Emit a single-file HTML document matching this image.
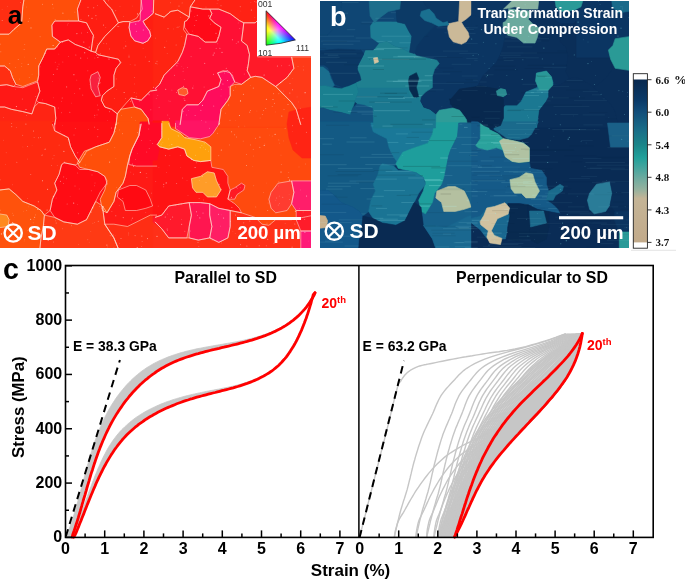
<!DOCTYPE html>
<html><head><meta charset="utf-8"><style>
html,body{margin:0;padding:0;background:#fff;width:685px;height:584px;overflow:hidden}
svg{position:absolute;left:0;top:0;display:block;will-change:transform}
</style></head><body>
<svg width="685" height="584" viewBox="0 0 685 584">
<rect width="685" height="584" fill="#fff"/>
<defs><clipPath id="ca"><rect x="0" y="0" width="311" height="248"/></clipPath><clipPath id="cb"><rect x="320" y="1" width="309" height="247"/></clipPath></defs>
<g clip-path="url(#ca)">
<rect x="0" y="0" width="311" height="248" fill="#ff1414"/>
<polygon points="118.4,22.8 123.0,21.6 129.8,21.6 129.1,27.6 130.9,36.0 134.6,40.8 143.0,43.3 147.8,40.8 150.8,36.0 149.6,31.2 145.3,25.3 143.0,21.3 147.8,18.0 153.3,13.2 153.7,-2.0 159.2,-2.0 159.2,90.0 150.3,91.1 141.2,100.2 130.9,97.9 120.7,109.3 117.3,113.9 111.6,109.3 104.8,107.0 101.3,100.2 102.5,95.7 107.0,91.1 113.9,86.5 113.9,75.2 116.1,68.3 120.7,62.6 118.4,59.2 97.9,54.7 95.7,52.4 97.9,45.5 104.8,36.4 111.6,29.6" fill="#ff1e12" stroke="#ff1e12" stroke-width="0.6"/>
<polygon points="60.4,42.1 68.3,39.9 75.2,44.4 84.3,47.8 91.1,51.2 95.7,52.4 97.9,54.7 118.4,59.2 120.7,62.6 116.1,68.3 113.9,75.2 113.9,86.5 107.0,91.1 102.5,95.7 101.3,100.2 104.8,107.0 111.6,109.3 117.3,113.9 116.1,126.9 54.7,126.9 55.8,118.4 54.7,107.0 45.5,103.6 38.7,102.5 36.4,100.2 39.9,91.1 37.6,82.0 37.6,80.8 38.7,75.2 38.7,66.0 43.3,56.9 46.7,49.0 54.7,49.0" fill="#ff0c14" stroke="#ff0c14" stroke-width="0.6"/>
<polygon points="-2.0,-2.0 23.9,-2.0 22.8,6.8 21.6,22.8 13.7,29.6 9.1,34.2 -2.0,34.2" fill="#ff2e12" stroke="#ff2e12" stroke-width="0.6"/>
<polygon points="23.9,-2.0 80.8,-2.0 77.4,9.1 78.6,21.0 54.7,21.0 51.9,25.1 52.4,36.4 60.4,42.1 54.7,49.0 46.7,49.0 43.3,56.9 38.7,66.0 38.7,75.2 37.6,80.8 28.5,84.3 22.8,86.5 15.9,84.3 12.5,77.4 10.2,70.6 4.6,66.0 -2.0,66.0 -2.0,34.2 9.1,34.2 13.7,29.6 21.6,22.8 22.8,6.8" fill="#ff4f0a" stroke="#ff4f0a" stroke-width="0.6"/>
<polygon points="54.7,21.0 78.6,21.0 86.5,22.8 90.0,29.6 93.4,35.3 92.2,43.3 91.1,51.2 84.3,47.8 75.2,44.4 68.3,39.9 60.4,42.1 52.4,36.4 51.9,25.1" fill="#ff1016" stroke="#ff1016" stroke-width="0.6"/>
<polygon points="80.8,-2.0 103.6,-2.0 107.0,4.6 111.6,9.1 116.1,18.2 118.4,22.8 111.6,29.6 104.8,36.4 97.9,45.5 95.7,52.4 91.1,51.2 92.2,43.3 93.4,35.3 90.0,29.6 86.5,22.8 78.6,21.0 77.4,9.1" fill="#ff1e12" stroke="#ff1e12" stroke-width="0.6"/>
<polygon points="103.6,-2.0 141.2,-2.0 142.3,9.1 136.6,18.2 129.8,21.6 123.0,21.6 118.4,22.8 116.1,18.2 111.6,9.1 107.0,4.6" fill="#ff2412" stroke="#ff2412" stroke-width="0.6"/>
<polygon points="141.2,-2.0 153.7,-2.0 153.3,13.2 147.8,18.0 143.0,21.3 145.3,25.3 149.6,31.2 150.8,36.0 147.8,40.8 143.0,43.3 134.6,40.8 130.9,36.0 129.1,27.6 129.8,22.8 140.1,20.5 140.5,12.1" fill="#ff1478" stroke="#ff1478" stroke-width="0.6"/>
<polygon points="91.1,75.2 97.9,71.7 100.2,77.4 97.9,86.5 100.2,95.7 95.7,96.8 91.1,88.8 90.0,79.7" fill="#f8203e" stroke="#f8203e" stroke-width="0.6"/>
<polygon points="130.9,97.9 141.2,100.2 150.3,91.1 159.2,90.0 159.2,125.9 149.2,125.9 148.0,118.4 141.2,109.3 134.4,107.0" fill="#ff0a30" stroke="#ff0a30" stroke-width="0.6"/>
<polygon points="120.7,109.3 134.4,107.0 141.2,109.3 148.0,118.4 149.2,126.9 116.1,126.9 117.3,113.9" fill="#ff4f0a" stroke="#ff4f0a" stroke-width="0.6"/>
<polygon points="-2.0,66.0 4.6,66.0 10.2,70.6 12.5,77.4 15.9,84.3 13.7,86.5 6.8,84.7 -2.0,85.4" fill="#ff2e12" stroke="#ff2e12" stroke-width="0.6"/>
<polygon points="-2.0,85.4 6.8,84.7 13.7,86.5 22.8,87.7 28.5,85.4 37.6,82.0 39.9,91.1 36.4,100.2 34.2,107.0 31.9,113.9 22.8,111.6 11.4,109.3 4.6,107.0 -2.0,107.0" fill="#ff1816" stroke="#ff1816" stroke-width="0.6"/>
<polygon points="-2.0,107.0 4.6,107.0 11.4,109.3 22.8,111.6 31.9,113.9 34.2,107.0 38.7,102.5 45.5,103.6 54.7,107.0 55.8,118.4 54.7,126.9 -2.0,126.9" fill="#ff2414" stroke="#ff2414" stroke-width="0.6"/>
<polygon points="153.0,-2.0 194.9,-2.0 190.3,6.8 189.2,17.1 177.8,10.2 170.9,11.4 164.1,17.1 153.0,13.7" fill="#ff2c12" stroke="#ff2c12" stroke-width="0.6"/>
<polygon points="153.0,13.7 164.1,17.1 170.9,11.4 177.8,10.2 189.2,17.1 186.9,20.5 184.6,21.6 183.5,29.6 186.9,34.2 184.6,45.5 182.3,52.4 177.8,61.5 170.9,68.3 164.1,75.2 159.6,84.3 153.0,88.8" fill="#ff2412" stroke="#ff2412" stroke-width="0.6"/>
<polygon points="209.7,9.1 218.8,9.1 230.2,13.7 239.3,20.5 243.8,22.8 242.7,31.9 241.5,41.0 247.2,45.5 249.5,54.7 248.4,63.8 247.2,70.6 250.7,77.4 241.5,84.3 234.7,82.0 230.2,72.9 223.3,70.6 217.6,72.9 221.0,79.7 218.8,86.5 207.4,91.1 202.8,100.2 198.3,104.8 186.9,104.8 182.3,109.3 180.1,126.9 153.0,126.9 153.0,88.8 159.6,84.3 164.1,75.2 170.9,68.3 177.8,61.5 182.3,52.4 184.6,45.5 186.9,34.2 189.2,34.2 198.3,36.4 205.1,42.1 216.5,42.1 218.8,36.4 221.0,27.3 214.2,22.8 209.7,18.2 211.9,13.7" fill="#ff1034" stroke="#ff1034" stroke-width="0.6"/>
<polygon points="189.2,17.1 190.3,6.8 202.8,9.1 209.7,9.1 211.9,13.7 209.7,18.2 214.2,22.8 221.0,27.3 218.8,36.4 216.5,42.1 205.1,42.1 198.3,36.4 189.2,34.2 184.6,27.3 184.6,21.6 186.9,20.5" fill="#ff0a18" stroke="#ff0a18" stroke-width="0.6"/>
<polygon points="219.9,-2.0 257.5,-2.0 257.5,20.5 255.2,22.8 243.8,22.8 239.3,20.5 230.2,13.7 218.8,9.1 209.7,9.1 202.8,9.1 190.3,6.8 194.9,-2.0" fill="#ff2214" stroke="#ff2214" stroke-width="0.6"/>
<polygon points="217.6,72.9 227.9,70.6 232.4,75.2 234.7,82.0 230.2,86.5 230.2,95.7 227.9,100.2 221.0,109.3 218.8,126.9 180.1,126.9 182.3,109.3 186.9,104.8 198.3,104.8 202.8,100.2 207.4,91.1 218.8,86.5 221.0,79.7" fill="#ff0c5c" stroke="#ff0c5c" stroke-width="0.6"/>
<polygon points="218.8,126.9 221.0,109.3 227.9,100.2 230.2,95.7 230.2,86.5 234.7,84.3 241.5,84.3 250.7,77.4 255.2,76.3 262.0,77.4 268.9,82.0 275.7,86.5 284.8,95.7 291.6,102.5 296.2,109.3 300.8,126.9" fill="#ff460f" stroke="#ff460f" stroke-width="0.6"/>
<polygon points="241.5,41.0 242.7,31.9 243.8,22.8 255.2,22.8 257.5,20.5 257.5,56.9 291.6,56.9 293.9,68.3 287.1,77.4 275.7,86.5 268.9,82.0 262.0,77.4 255.2,76.3 250.7,77.4 247.2,70.6 248.4,63.8 249.5,54.7 247.2,45.5" fill="#ff1a28" stroke="#ff1a28" stroke-width="0.6"/>
<polygon points="291.6,56.9 314.2,56.9 314.2,126.9 300.8,126.9 296.2,109.3 291.6,102.5 284.8,95.7 275.7,86.5 287.1,77.4 293.9,68.3" fill="#ff3a18" stroke="#ff3a18" stroke-width="0.6"/>
<polygon points="-2.0,120.8 54.7,120.8 54.7,130.8 68.3,137.7 70.6,146.8 75.2,155.9 79.7,162.7 75.2,165.0 63.8,162.7 61.5,165.0 59.2,174.1 54.7,183.2 56.9,190.0 52.4,199.2 50.1,210.5 44.4,215.1 41.0,210.5 34.2,206.0 22.8,201.4 15.9,194.6 9.1,188.9 -2.0,190.0" fill="#ff2a10" stroke="#ff2a10" stroke-width="0.6"/>
<polygon points="52.4,122.0 116.1,122.0 113.9,133.1 109.3,142.2 95.7,146.8 86.5,151.3 79.7,162.7 75.2,155.9 70.6,146.8 68.3,137.7 54.7,130.8" fill="#ff1014" stroke="#ff1014" stroke-width="0.6"/>
<polygon points="141.2,122.0 159.2,122.0 159.2,250.9 118.4,250.9 113.9,237.9 109.3,231.0 104.8,224.2 103.6,215.1 102.5,206.0 107.0,212.8 113.9,201.4 116.1,192.3 123.0,183.2 125.3,176.4 127.5,165.0 129.8,155.9 132.1,149.1 138.9,135.4" fill="#ff1a16" stroke="#ff1a16" stroke-width="0.6"/>
<polygon points="116.1,121.5 141.2,121.5 138.9,135.4 132.1,149.1 129.8,155.9 127.5,165.0 125.3,176.4 123.0,183.2 116.1,192.3 113.9,201.4 107.0,212.8 102.5,210.5 100.2,199.2 104.8,190.0 107.0,180.9 104.8,176.4 97.9,171.8 88.8,169.5 79.7,167.3 77.4,162.7 84.3,151.3 95.7,146.8 109.3,142.2 113.9,133.1" fill="#ff4f0a" stroke="#ff4f0a" stroke-width="0.6"/>
<polygon points="63.8,162.7 75.2,165.0 79.7,169.5 88.8,169.5 97.9,171.8 104.8,176.4 107.0,183.2 100.2,192.3 95.7,201.4 91.1,210.5 86.5,219.7 77.4,224.2 63.8,221.9 54.7,217.4 50.1,210.5 52.4,199.2 56.9,190.0 54.7,183.2 59.2,174.1 61.5,165.0" fill="#ff0c14" stroke="#ff0c14" stroke-width="0.6"/>
<polygon points="-2.0,190.0 9.1,188.9 15.9,194.6 22.8,201.4 34.2,206.0 41.0,210.5 44.4,215.1 43.3,226.5 41.0,237.9 39.9,250.9 -2.0,250.9" fill="#ff520c" stroke="#ff520c" stroke-width="0.6"/>
<polygon points="-2.0,214.0 6.8,215.1 9.1,219.7 8.0,226.5 -2.0,227.6" fill="#ff8a1e" stroke="#ff8a1e" stroke-width="0.6"/>
<polygon points="44.4,215.1 54.7,217.4 63.8,221.9 77.4,224.2 86.5,219.7 91.1,210.5 95.7,201.4 102.5,206.0 103.6,215.1 104.8,224.2 109.3,231.0 113.9,237.9 118.4,250.9 39.9,250.9 41.0,237.9 43.3,226.5" fill="#ff3a14" stroke="#ff3a14" stroke-width="0.6"/>
<polygon points="140.1,122.0 159.2,122.0 159.2,166.1 136.6,166.1 128.7,164.5 129.8,155.9 132.1,149.1 138.9,135.4" fill="#ff0a26" stroke="#ff0a26" stroke-width="0.6"/>
<polygon points="118.4,190.0 129.8,185.5 136.6,185.5 145.8,190.0 150.3,199.2 152.6,206.0 145.8,208.3 136.6,210.5 125.3,210.5 123.0,201.4 117.3,196.9" fill="#ff0a12" stroke="#ff0a12" stroke-width="0.6"/>
<polygon points="104.8,224.2 113.9,224.2 127.5,226.5 141.2,219.7 150.3,215.1 159.2,215.1 159.2,250.9 118.4,250.9 113.9,237.9 109.3,231.0" fill="#ff2e14" stroke="#ff2e14" stroke-width="0.6"/>
<polygon points="158.2,127.2 316.5,127.2 316.5,253.6 158.2,253.6" fill="#ff4a0e" stroke="#ff4a0e" stroke-width="0.6"/>
<polygon points="153.0,120.8 161.8,120.8 161.8,130.8 161.8,137.7 157.3,144.5 159.6,146.8 168.7,149.1 177.8,146.8 184.6,149.1 186.9,155.9 193.7,160.4 200.5,161.6 210.8,160.4 211.9,167.3 223.3,169.5 227.9,176.4 227.9,183.2 230.2,190.0 227.9,199.2 234.7,203.7 239.3,208.3 241.5,212.8 230.2,210.5 218.8,208.3 209.7,203.7 200.5,202.6 189.2,202.6 182.3,203.7 168.7,206.0 161.8,215.1 153.0,217.4" fill="#ff1414" stroke="#ff1414" stroke-width="0.6"/>
<polygon points="175.5,120.8 219.9,120.8 213.1,133.1 209.7,136.5 200.5,138.8 189.2,137.7 182.3,133.1 175.5,128.6" fill="#ff1464" stroke="#ff1464" stroke-width="0.6"/>
<polygon points="161.8,121.3 168.7,121.3 170.9,128.6 180.1,133.1 184.6,137.7 196.0,139.9 205.1,142.2 210.8,146.8 210.8,160.4 200.5,161.6 193.7,160.4 186.9,155.9 184.6,149.1 177.8,146.8 168.7,149.1 159.6,146.8 157.3,144.5 161.8,137.7 161.8,130.8" fill="#ffa00c" stroke="#ffa00c" stroke-width="0.6"/>
<polygon points="191.4,178.7 200.5,176.4 207.4,171.8 214.2,173.0 216.5,180.9 221.0,190.0 216.5,196.9 207.4,196.9 202.8,192.3 196.0,192.3 192.6,187.8" fill="#ff9c28" stroke="#ff9c28" stroke-width="0.6"/>
<polygon points="230.2,190.0 234.7,187.8 241.5,183.2 245.0,185.5 243.8,190.0 237.0,194.6 234.7,199.2 227.9,199.2" fill="#ff1a24" stroke="#ff1a24" stroke-width="0.6"/>
<polygon points="153.0,221.9 161.8,228.8 168.7,237.9 186.9,237.9 189.2,237.9 198.3,240.1 209.7,237.9 218.8,242.4 227.9,237.9 230.2,226.5 230.2,210.5 241.5,212.8 255.2,217.4 262.0,224.2 268.9,225.3 275.7,219.7 291.6,219.7 316.5,215.1 316.5,250.9 153.0,250.9" fill="#ff3018" stroke="#ff3018" stroke-width="0.6"/>
<polygon points="161.8,215.1 168.7,206.0 182.3,203.7 189.2,202.6 191.4,215.1 189.2,226.5 186.9,237.9 168.7,237.9 161.8,228.8 153.0,221.9 153.0,217.4" fill="#ff1a2c" stroke="#ff1a2c" stroke-width="0.6"/>
<polygon points="189.2,202.6 200.5,202.6 209.7,203.7 209.7,215.1 211.9,226.5 209.7,237.9 198.3,240.1 189.2,237.9 189.2,226.5 191.4,215.1" fill="#ff1650" stroke="#ff1650" stroke-width="0.6"/>
<polygon points="209.7,203.7 218.8,208.3 230.2,210.5 230.2,226.5 227.9,237.9 218.8,242.4 209.7,237.9 211.9,226.5 209.7,215.1" fill="#ff1e64" stroke="#ff1e64" stroke-width="0.6"/>
<polygon points="268.9,199.2 271.1,192.3 278.0,183.2 291.6,180.9 293.9,192.3 291.6,203.7 287.1,210.5 275.7,212.8 271.1,208.3" fill="#ff3c30" stroke="#ff3c30" stroke-width="0.6"/>
<polygon points="291.6,180.9 316.5,180.9 316.5,210.5 296.2,210.5 291.6,203.7 293.9,192.3" fill="#ff1e6a" stroke="#ff1e6a" stroke-width="0.6"/>
<polygon points="296.2,210.5 316.5,210.5 316.5,231.0 300.8,231.0 296.2,219.7" fill="#ff1c2a" stroke="#ff1c2a" stroke-width="0.6"/>
<polygon points="300.8,231.0 316.5,231.0 316.5,250.9 300.8,250.9" fill="#ff1a78" stroke="#ff1a78" stroke-width="0.6"/>
<polygon points="177.8,90.0 182.3,87.7 186.9,88.8 188.0,93.4 184.6,95.7 178.9,94.5" fill="#ff5a2a" stroke="#ff5a2a" stroke-width="0.6"/>
<polygon points="289.0,112.0 300.0,109.0 312.0,107.0 312.0,158.0 302.0,158.0 293.0,150.0 289.0,138.0 287.0,124.0" fill="#ff2414" stroke="#ff2414" stroke-width="0.6"/>
<polygon points="146.0,123.0 161.5,123.0 161.5,137.7 157.0,144.5 159.0,150.0 157.0,160.0 140.0,161.0 137.4,146.4 140.0,139.6 142.6,132.7" fill="#ff0a26" stroke="#ff0a26" stroke-width="0.6"/>
<path d="M118.4,22.8L123.0,21.6M123.0,21.6L129.8,21.6M129.8,21.6L129.1,27.6M129.1,27.6L130.9,36.0M130.9,36.0L134.6,40.8M134.6,40.8L143.0,43.3M143.0,43.3L147.8,40.8M147.8,40.8L150.8,36.0M150.8,36.0L149.6,31.2M149.6,31.2L145.3,25.3M145.3,25.3L143.0,21.3M143.0,21.3L147.8,18.0M147.8,18.0L153.3,13.2M153.3,13.2L153.7,0.0M157.1,90.0L150.3,91.1M150.3,91.1L141.2,100.2M141.2,100.2L130.9,97.9M130.9,97.9L120.7,109.3M120.7,109.3L117.3,113.9M117.3,113.9L111.6,109.3M111.6,109.3L104.8,107.0M104.8,107.0L101.3,100.2M101.3,100.2L102.5,95.7M102.5,95.7L107.0,91.1M107.0,91.1L113.9,86.5M113.9,86.5L113.9,75.2M113.9,75.2L116.1,68.3M116.1,68.3L120.7,62.6M120.7,62.6L118.4,59.2M118.4,59.2L97.9,54.7M97.9,54.7L95.7,52.4M95.7,52.4L97.9,45.5M97.9,45.5L104.8,36.4M104.8,36.4L111.6,29.6M111.6,29.6L118.4,22.8M60.4,42.1L68.3,39.9M68.3,39.9L75.2,44.4M75.2,44.4L84.3,47.8M84.3,47.8L91.1,51.2M91.1,51.2L95.7,52.4M95.7,52.4L97.9,54.7M97.9,54.7L118.4,59.2M118.4,59.2L120.7,62.6M120.7,62.6L116.1,68.3M116.1,68.3L113.9,75.2M113.9,75.2L113.9,86.5M113.9,86.5L107.0,91.1M107.0,91.1L102.5,95.7M102.5,95.7L101.3,100.2M101.3,100.2L104.8,107.0M104.8,107.0L111.6,109.3M111.6,109.3L117.3,113.9M117.3,113.9L116.1,124.8M54.7,124.8L55.8,118.4M55.8,118.4L54.7,107.0M54.7,107.0L45.5,103.6M45.5,103.6L38.7,102.5M38.7,102.5L36.4,100.2M36.4,100.2L39.9,91.1M39.9,91.1L37.6,82.0M37.6,82.0L37.6,80.8M37.6,80.8L38.7,75.2M38.7,75.2L38.7,66.0M38.7,66.0L43.3,56.9M43.3,56.9L46.7,49.0M46.7,49.0L54.7,49.0M54.7,49.0L60.4,42.1M23.9,0.0L22.8,6.8M22.8,6.8L21.6,22.8M21.6,22.8L13.7,29.6M13.7,29.6L9.1,34.2M9.1,34.2L0.0,34.2M80.8,0.0L77.4,9.1M77.4,9.1L78.6,21.0M78.6,21.0L54.7,21.0M54.7,21.0L51.9,25.1M51.9,25.1L52.4,36.4M52.4,36.4L60.4,42.1M60.4,42.1L54.7,49.0M54.7,49.0L46.7,49.0M46.7,49.0L43.3,56.9M43.3,56.9L38.7,66.0M38.7,66.0L38.7,75.2M38.7,75.2L37.6,80.8M37.6,80.8L28.5,84.3M28.5,84.3L22.8,86.5M22.8,86.5L15.9,84.3M15.9,84.3L12.5,77.4M12.5,77.4L10.2,70.6M10.2,70.6L4.6,66.0M4.6,66.0L0.0,66.0M0.0,34.2L9.1,34.2M9.1,34.2L13.7,29.6M13.7,29.6L21.6,22.8M21.6,22.8L22.8,6.8M22.8,6.8L23.9,0.0M54.7,21.0L78.6,21.0M78.6,21.0L86.5,22.8M86.5,22.8L90.0,29.6M90.0,29.6L93.4,35.3M93.4,35.3L92.2,43.3M92.2,43.3L91.1,51.2M91.1,51.2L84.3,47.8M84.3,47.8L75.2,44.4M75.2,44.4L68.3,39.9M68.3,39.9L60.4,42.1M60.4,42.1L52.4,36.4M52.4,36.4L51.9,25.1M51.9,25.1L54.7,21.0M103.6,0.0L107.0,4.6M107.0,4.6L111.6,9.1M111.6,9.1L116.1,18.2M116.1,18.2L118.4,22.8M118.4,22.8L111.6,29.6M111.6,29.6L104.8,36.4M104.8,36.4L97.9,45.5M97.9,45.5L95.7,52.4M95.7,52.4L91.1,51.2M91.1,51.2L92.2,43.3M92.2,43.3L93.4,35.3M93.4,35.3L90.0,29.6M90.0,29.6L86.5,22.8M86.5,22.8L78.6,21.0M78.6,21.0L77.4,9.1M77.4,9.1L80.8,0.0M141.2,0.0L142.3,9.1M142.3,9.1L136.6,18.2M136.6,18.2L129.8,21.6M129.8,21.6L123.0,21.6M123.0,21.6L118.4,22.8M118.4,22.8L116.1,18.2M116.1,18.2L111.6,9.1M111.6,9.1L107.0,4.6M107.0,4.6L103.6,0.0M153.7,0.0L153.3,13.2M153.3,13.2L147.8,18.0M147.8,18.0L143.0,21.3M143.0,21.3L145.3,25.3M145.3,25.3L149.6,31.2M149.6,31.2L150.8,36.0M150.8,36.0L147.8,40.8M147.8,40.8L143.0,43.3M143.0,43.3L134.6,40.8M134.6,40.8L130.9,36.0M130.9,36.0L129.1,27.6M129.1,27.6L129.8,22.8M129.8,22.8L140.1,20.5M140.1,20.5L140.5,12.1M140.5,12.1L141.2,0.0M91.1,75.2L97.9,71.7M97.9,71.7L100.2,77.4M100.2,77.4L97.9,86.5M97.9,86.5L100.2,95.7M100.2,95.7L95.7,96.8M95.7,96.8L91.1,88.8M91.1,88.8L90.0,79.7M90.0,79.7L91.1,75.2M130.9,97.9L141.2,100.2M141.2,100.2L150.3,91.1M150.3,91.1L157.1,90.0M149.2,123.9L148.0,118.4M148.0,118.4L141.2,109.3M141.2,109.3L134.4,107.0M134.4,107.0L130.9,97.9M120.7,109.3L134.4,107.0M134.4,107.0L141.2,109.3M141.2,109.3L148.0,118.4M148.0,118.4L149.2,124.8M116.1,124.8L117.3,113.9M117.3,113.9L120.7,109.3M0.0,66.0L4.6,66.0M4.6,66.0L10.2,70.6M10.2,70.6L12.5,77.4M12.5,77.4L15.9,84.3M15.9,84.3L13.7,86.5M13.7,86.5L6.8,84.7M6.8,84.7L0.0,85.4M0.0,85.4L6.8,84.7M6.8,84.7L13.7,86.5M13.7,86.5L22.8,87.7M22.8,87.7L28.5,85.4M28.5,85.4L37.6,82.0M37.6,82.0L39.9,91.1M39.9,91.1L36.4,100.2M36.4,100.2L34.2,107.0M34.2,107.0L31.9,113.9M31.9,113.9L22.8,111.6M22.8,111.6L11.4,109.3M11.4,109.3L4.6,107.0M4.6,107.0L0.0,107.0M0.0,107.0L4.6,107.0M4.6,107.0L11.4,109.3M11.4,109.3L22.8,111.6M22.8,111.6L31.9,113.9M31.9,113.9L34.2,107.0M34.2,107.0L38.7,102.5M38.7,102.5L45.5,103.6M45.5,103.6L54.7,107.0M54.7,107.0L55.8,118.4M55.8,118.4L54.7,124.8M194.9,0.0L190.3,6.8M190.3,6.8L189.2,17.1M189.2,17.1L177.8,10.2M177.8,10.2L170.9,11.4M170.9,11.4L164.1,17.1M164.1,17.1L155.0,13.7M155.0,13.7L164.1,17.1M164.1,17.1L170.9,11.4M170.9,11.4L177.8,10.2M177.8,10.2L189.2,17.1M189.2,17.1L186.9,20.5M186.9,20.5L184.6,21.6M184.6,21.6L183.5,29.6M183.5,29.6L186.9,34.2M186.9,34.2L184.6,45.5M184.6,45.5L182.3,52.4M182.3,52.4L177.8,61.5M177.8,61.5L170.9,68.3M170.9,68.3L164.1,75.2M164.1,75.2L159.6,84.3M159.6,84.3L155.0,88.8M209.7,9.1L218.8,9.1M218.8,9.1L230.2,13.7M230.2,13.7L239.3,20.5M239.3,20.5L243.8,22.8M243.8,22.8L242.7,31.9M242.7,31.9L241.5,41.0M241.5,41.0L247.2,45.5M247.2,45.5L249.5,54.7M249.5,54.7L248.4,63.8M248.4,63.8L247.2,70.6M247.2,70.6L250.7,77.4M250.7,77.4L241.5,84.3M241.5,84.3L234.7,82.0M234.7,82.0L230.2,72.9M230.2,72.9L223.3,70.6M223.3,70.6L217.6,72.9M217.6,72.9L221.0,79.7M221.0,79.7L218.8,86.5M218.8,86.5L207.4,91.1M207.4,91.1L202.8,100.2M202.8,100.2L198.3,104.8M198.3,104.8L186.9,104.8M186.9,104.8L182.3,109.3M182.3,109.3L180.1,124.8M155.0,88.8L159.6,84.3M159.6,84.3L164.1,75.2M164.1,75.2L170.9,68.3M170.9,68.3L177.8,61.5M177.8,61.5L182.3,52.4M182.3,52.4L184.6,45.5M184.6,45.5L186.9,34.2M186.9,34.2L189.2,34.2M189.2,34.2L198.3,36.4M198.3,36.4L205.1,42.1M205.1,42.1L216.5,42.1M216.5,42.1L218.8,36.4M218.8,36.4L221.0,27.3M221.0,27.3L214.2,22.8M214.2,22.8L209.7,18.2M209.7,18.2L211.9,13.7M211.9,13.7L209.7,9.1M189.2,17.1L190.3,6.8M190.3,6.8L202.8,9.1M202.8,9.1L209.7,9.1M209.7,9.1L211.9,13.7M211.9,13.7L209.7,18.2M209.7,18.2L214.2,22.8M214.2,22.8L221.0,27.3M221.0,27.3L218.8,36.4M218.8,36.4L216.5,42.1M216.5,42.1L205.1,42.1M205.1,42.1L198.3,36.4M198.3,36.4L189.2,34.2M189.2,34.2L184.6,27.3M184.6,27.3L184.6,21.6M184.6,21.6L186.9,20.5M186.9,20.5L189.2,17.1M257.5,0.0L257.5,20.5M257.5,20.5L255.2,22.8M255.2,22.8L243.8,22.8M243.8,22.8L239.3,20.5M239.3,20.5L230.2,13.7M230.2,13.7L218.8,9.1M218.8,9.1L209.7,9.1M209.7,9.1L202.8,9.1M202.8,9.1L190.3,6.8M190.3,6.8L194.9,0.0M217.6,72.9L227.9,70.6M227.9,70.6L232.4,75.2M232.4,75.2L234.7,82.0M234.7,82.0L230.2,86.5M230.2,86.5L230.2,95.7M230.2,95.7L227.9,100.2M227.9,100.2L221.0,109.3M221.0,109.3L218.8,124.8M180.1,124.8L182.3,109.3M182.3,109.3L186.9,104.8M186.9,104.8L198.3,104.8M198.3,104.8L202.8,100.2M202.8,100.2L207.4,91.1M207.4,91.1L218.8,86.5M218.8,86.5L221.0,79.7M221.0,79.7L217.6,72.9M218.8,124.8L221.0,109.3M221.0,109.3L227.9,100.2M227.9,100.2L230.2,95.7M230.2,95.7L230.2,86.5M230.2,86.5L234.7,84.3M234.7,84.3L241.5,84.3M241.5,84.3L250.7,77.4M250.7,77.4L255.2,76.3M255.2,76.3L262.0,77.4M262.0,77.4L268.9,82.0M268.9,82.0L275.7,86.5M275.7,86.5L284.8,95.7M284.8,95.7L291.6,102.5M291.6,102.5L296.2,109.3M296.2,109.3L300.8,124.8M241.5,41.0L242.7,31.9M242.7,31.9L243.8,22.8M243.8,22.8L255.2,22.8M255.2,22.8L257.5,20.5M257.5,20.5L257.5,56.9M257.5,56.9L291.6,56.9M291.6,56.9L293.9,68.3M293.9,68.3L287.1,77.4M287.1,77.4L275.7,86.5M275.7,86.5L268.9,82.0M268.9,82.0L262.0,77.4M262.0,77.4L255.2,76.3M255.2,76.3L250.7,77.4M250.7,77.4L247.2,70.6M247.2,70.6L248.4,63.8M248.4,63.8L249.5,54.7M249.5,54.7L247.2,45.5M247.2,45.5L241.5,41.0M291.6,56.9L312.1,56.9M300.8,124.8L296.2,109.3M296.2,109.3L291.6,102.5M291.6,102.5L284.8,95.7M284.8,95.7L275.7,86.5M275.7,86.5L287.1,77.4M287.1,77.4L293.9,68.3M293.9,68.3L291.6,56.9M54.7,122.9L54.7,130.8M54.7,130.8L68.3,137.7M68.3,137.7L70.6,146.8M70.6,146.8L75.2,155.9M75.2,155.9L79.7,162.7M79.7,162.7L75.2,165.0M75.2,165.0L63.8,162.7M63.8,162.7L61.5,165.0M61.5,165.0L59.2,174.1M59.2,174.1L54.7,183.2M54.7,183.2L56.9,190.0M56.9,190.0L52.4,199.2M52.4,199.2L50.1,210.5M50.1,210.5L44.4,215.1M44.4,215.1L41.0,210.5M41.0,210.5L34.2,206.0M34.2,206.0L22.8,201.4M22.8,201.4L15.9,194.6M15.9,194.6L9.1,188.9M9.1,188.9L0.0,190.0M116.1,124.0L113.9,133.1M113.9,133.1L109.3,142.2M109.3,142.2L95.7,146.8M95.7,146.8L86.5,151.3M86.5,151.3L79.7,162.7M79.7,162.7L75.2,155.9M75.2,155.9L70.6,146.8M70.6,146.8L68.3,137.7M68.3,137.7L54.7,130.8M54.7,130.8L52.4,124.0M118.4,248.8L113.9,237.9M113.9,237.9L109.3,231.0M109.3,231.0L104.8,224.2M104.8,224.2L103.6,215.1M103.6,215.1L102.5,206.0M102.5,206.0L107.0,212.8M107.0,212.8L113.9,201.4M113.9,201.4L116.1,192.3M116.1,192.3L123.0,183.2M123.0,183.2L125.3,176.4M125.3,176.4L127.5,165.0M127.5,165.0L129.8,155.9M129.8,155.9L132.1,149.1M132.1,149.1L138.9,135.4M138.9,135.4L141.2,124.0M141.2,123.5L138.9,135.4M138.9,135.4L132.1,149.1M132.1,149.1L129.8,155.9M129.8,155.9L127.5,165.0M127.5,165.0L125.3,176.4M125.3,176.4L123.0,183.2M123.0,183.2L116.1,192.3M116.1,192.3L113.9,201.4M113.9,201.4L107.0,212.8M107.0,212.8L102.5,210.5M102.5,210.5L100.2,199.2M100.2,199.2L104.8,190.0M104.8,190.0L107.0,180.9M107.0,180.9L104.8,176.4M104.8,176.4L97.9,171.8M97.9,171.8L88.8,169.5M88.8,169.5L79.7,167.3M79.7,167.3L77.4,162.7M77.4,162.7L84.3,151.3M84.3,151.3L95.7,146.8M95.7,146.8L109.3,142.2M109.3,142.2L113.9,133.1M113.9,133.1L116.1,123.5M63.8,162.7L75.2,165.0M75.2,165.0L79.7,169.5M79.7,169.5L88.8,169.5M88.8,169.5L97.9,171.8M97.9,171.8L104.8,176.4M104.8,176.4L107.0,183.2M107.0,183.2L100.2,192.3M100.2,192.3L95.7,201.4M95.7,201.4L91.1,210.5M91.1,210.5L86.5,219.7M86.5,219.7L77.4,224.2M77.4,224.2L63.8,221.9M63.8,221.9L54.7,217.4M54.7,217.4L50.1,210.5M50.1,210.5L52.4,199.2M52.4,199.2L56.9,190.0M56.9,190.0L54.7,183.2M54.7,183.2L59.2,174.1M59.2,174.1L61.5,165.0M61.5,165.0L63.8,162.7M0.0,190.0L9.1,188.9M9.1,188.9L15.9,194.6M15.9,194.6L22.8,201.4M22.8,201.4L34.2,206.0M34.2,206.0L41.0,210.5M41.0,210.5L44.4,215.1M44.4,215.1L43.3,226.5M43.3,226.5L41.0,237.9M41.0,237.9L39.9,248.8M0.0,214.0L6.8,215.1M6.8,215.1L9.1,219.7M9.1,219.7L8.0,226.5M8.0,226.5L0.0,227.6M44.4,215.1L54.7,217.4M54.7,217.4L63.8,221.9M63.8,221.9L77.4,224.2M77.4,224.2L86.5,219.7M86.5,219.7L91.1,210.5M91.1,210.5L95.7,201.4M95.7,201.4L102.5,206.0M102.5,206.0L103.6,215.1M103.6,215.1L104.8,224.2M104.8,224.2L109.3,231.0M109.3,231.0L113.9,237.9M113.9,237.9L118.4,248.8M39.9,248.8L41.0,237.9M41.0,237.9L43.3,226.5M43.3,226.5L44.4,215.1M157.1,166.1L136.6,166.1M136.6,166.1L128.7,164.5M128.7,164.5L129.8,155.9M129.8,155.9L132.1,149.1M132.1,149.1L138.9,135.4M138.9,135.4L140.1,124.0M118.4,190.0L129.8,185.5M129.8,185.5L136.6,185.5M136.6,185.5L145.8,190.0M145.8,190.0L150.3,199.2M150.3,199.2L152.6,206.0M152.6,206.0L145.8,208.3M145.8,208.3L136.6,210.5M136.6,210.5L125.3,210.5M125.3,210.5L123.0,201.4M123.0,201.4L117.3,196.9M117.3,196.9L118.4,190.0M104.8,224.2L113.9,224.2M113.9,224.2L127.5,226.5M127.5,226.5L141.2,219.7M141.2,219.7L150.3,215.1M150.3,215.1L157.1,215.1M118.4,248.8L113.9,237.9M113.9,237.9L109.3,231.0M109.3,231.0L104.8,224.2M161.8,122.9L161.8,130.8M161.8,130.8L161.8,137.7M161.8,137.7L157.3,144.5M157.3,144.5L159.6,146.8M159.6,146.8L168.7,149.1M168.7,149.1L177.8,146.8M177.8,146.8L184.6,149.1M184.6,149.1L186.9,155.9M186.9,155.9L193.7,160.4M193.7,160.4L200.5,161.6M200.5,161.6L210.8,160.4M210.8,160.4L211.9,167.3M211.9,167.3L223.3,169.5M223.3,169.5L227.9,176.4M227.9,176.4L227.9,183.2M227.9,183.2L230.2,190.0M230.2,190.0L227.9,199.2M227.9,199.2L234.7,203.7M234.7,203.7L239.3,208.3M239.3,208.3L241.5,212.8M241.5,212.8L230.2,210.5M230.2,210.5L218.8,208.3M218.8,208.3L209.7,203.7M209.7,203.7L200.5,202.6M200.5,202.6L189.2,202.6M189.2,202.6L182.3,203.7M182.3,203.7L168.7,206.0M168.7,206.0L161.8,215.1M161.8,215.1L155.0,217.4M219.9,122.9L213.1,133.1M213.1,133.1L209.7,136.5M209.7,136.5L200.5,138.8M200.5,138.8L189.2,137.7M189.2,137.7L182.3,133.1M182.3,133.1L175.5,128.6M175.5,128.6L175.5,122.9M168.7,123.3L170.9,128.6M170.9,128.6L180.1,133.1M180.1,133.1L184.6,137.7M184.6,137.7L196.0,139.9M196.0,139.9L205.1,142.2M205.1,142.2L210.8,146.8M210.8,146.8L210.8,160.4M210.8,160.4L200.5,161.6M200.5,161.6L193.7,160.4M193.7,160.4L186.9,155.9M186.9,155.9L184.6,149.1M184.6,149.1L177.8,146.8M177.8,146.8L168.7,149.1M168.7,149.1L159.6,146.8M159.6,146.8L157.3,144.5M157.3,144.5L161.8,137.7M161.8,137.7L161.8,130.8M161.8,130.8L161.8,123.3M191.4,178.7L200.5,176.4M200.5,176.4L207.4,171.8M207.4,171.8L214.2,173.0M214.2,173.0L216.5,180.9M216.5,180.9L221.0,190.0M221.0,190.0L216.5,196.9M216.5,196.9L207.4,196.9M207.4,196.9L202.8,192.3M202.8,192.3L196.0,192.3M196.0,192.3L192.6,187.8M192.6,187.8L191.4,178.7M230.2,190.0L234.7,187.8M234.7,187.8L241.5,183.2M241.5,183.2L245.0,185.5M245.0,185.5L243.8,190.0M243.8,190.0L237.0,194.6M237.0,194.6L234.7,199.2M234.7,199.2L227.9,199.2M227.9,199.2L230.2,190.0M155.0,221.9L161.8,228.8M161.8,228.8L168.7,237.9M168.7,237.9L186.9,237.9M186.9,237.9L189.2,237.9M189.2,237.9L198.3,240.1M198.3,240.1L209.7,237.9M209.7,237.9L218.8,242.4M218.8,242.4L227.9,237.9M227.9,237.9L230.2,226.5M230.2,226.5L230.2,210.5M230.2,210.5L241.5,212.8M241.5,212.8L255.2,217.4M255.2,217.4L262.0,224.2M262.0,224.2L268.9,225.3M268.9,225.3L275.7,219.7M275.7,219.7L291.6,219.7M291.6,219.7L314.4,215.1M161.8,215.1L168.7,206.0M168.7,206.0L182.3,203.7M182.3,203.7L189.2,202.6M189.2,202.6L191.4,215.1M191.4,215.1L189.2,226.5M189.2,226.5L186.9,237.9M186.9,237.9L168.7,237.9M168.7,237.9L161.8,228.8M161.8,228.8L155.0,221.9M155.0,217.4L161.8,215.1M189.2,202.6L200.5,202.6M200.5,202.6L209.7,203.7M209.7,203.7L209.7,215.1M209.7,215.1L211.9,226.5M211.9,226.5L209.7,237.9M209.7,237.9L198.3,240.1M198.3,240.1L189.2,237.9M189.2,237.9L189.2,226.5M189.2,226.5L191.4,215.1M191.4,215.1L189.2,202.6M209.7,203.7L218.8,208.3M218.8,208.3L230.2,210.5M230.2,210.5L230.2,226.5M230.2,226.5L227.9,237.9M227.9,237.9L218.8,242.4M218.8,242.4L209.7,237.9M209.7,237.9L211.9,226.5M211.9,226.5L209.7,215.1M209.7,215.1L209.7,203.7M268.9,199.2L271.1,192.3M271.1,192.3L278.0,183.2M278.0,183.2L291.6,180.9M291.6,180.9L293.9,192.3M293.9,192.3L291.6,203.7M291.6,203.7L287.1,210.5M287.1,210.5L275.7,212.8M275.7,212.8L271.1,208.3M271.1,208.3L268.9,199.2M291.6,180.9L314.4,180.9M314.4,210.5L296.2,210.5M296.2,210.5L291.6,203.7M291.6,203.7L293.9,192.3M293.9,192.3L291.6,180.9M296.2,210.5L314.4,210.5M314.4,231.0L300.8,231.0M300.8,231.0L296.2,219.7M296.2,219.7L296.2,210.5M300.8,231.0L314.4,231.0M300.8,248.8L300.8,231.0M177.8,90.0L182.3,87.7M182.3,87.7L186.9,88.8M186.9,88.8L188.0,93.4M188.0,93.4L184.6,95.7M184.6,95.7L178.9,94.5M178.9,94.5L177.8,90.0" fill="none" stroke="#ffe0d0" stroke-opacity="0.7" stroke-width="0.8"/>
<circle cx="74.0" cy="135.0" r="0.41" fill="#fff" fill-opacity="0.49"/>
<circle cx="194.6" cy="16.3" r="0.30" fill="#fff" fill-opacity="0.58"/>
<circle cx="80.7" cy="58.1" r="0.60" fill="#fff" fill-opacity="0.44"/>
<circle cx="260.1" cy="118.1" r="0.49" fill="#fff" fill-opacity="0.31"/>
<circle cx="197.4" cy="215.3" r="0.46" fill="#fff" fill-opacity="0.55"/>
<circle cx="208.8" cy="15.9" r="0.53" fill="#fff" fill-opacity="0.49"/>
<circle cx="93.7" cy="7.7" r="0.56" fill="#fff" fill-opacity="0.44"/>
<circle cx="223.6" cy="217.9" r="0.51" fill="#fff" fill-opacity="0.62"/>
<circle cx="122.8" cy="198.6" r="0.43" fill="#fff" fill-opacity="0.62"/>
<circle cx="273.3" cy="24.2" r="0.34" fill="#fff" fill-opacity="0.34"/>
<circle cx="300.3" cy="108.2" r="0.49" fill="#fff" fill-opacity="0.37"/>
<circle cx="157.8" cy="95.7" r="0.41" fill="#fff" fill-opacity="0.48"/>
<circle cx="181.7" cy="224.2" r="0.50" fill="#fff" fill-opacity="0.62"/>
<circle cx="266.3" cy="245.8" r="0.50" fill="#fff" fill-opacity="0.32"/>
<circle cx="267.7" cy="239.2" r="0.57" fill="#fff" fill-opacity="0.48"/>
<circle cx="222.0" cy="52.4" r="0.55" fill="#fff" fill-opacity="0.48"/>
<circle cx="88.6" cy="15.7" r="0.56" fill="#fff" fill-opacity="0.65"/>
<circle cx="27.5" cy="198.5" r="0.42" fill="#fff" fill-opacity="0.31"/>
<circle cx="91.4" cy="190.7" r="0.56" fill="#fff" fill-opacity="0.27"/>
<circle cx="191.1" cy="11.1" r="0.52" fill="#fff" fill-opacity="0.38"/>
<circle cx="274.0" cy="243.2" r="0.45" fill="#fff" fill-opacity="0.65"/>
<circle cx="96.3" cy="19.1" r="0.48" fill="#fff" fill-opacity="0.26"/>
<circle cx="61.4" cy="101.2" r="0.48" fill="#fff" fill-opacity="0.31"/>
<circle cx="13.2" cy="215.2" r="0.39" fill="#fff" fill-opacity="0.63"/>
<circle cx="278.9" cy="93.7" r="0.44" fill="#fff" fill-opacity="0.46"/>
<circle cx="200.2" cy="147.7" r="0.47" fill="#fff" fill-opacity="0.50"/>
<circle cx="292.5" cy="125.7" r="0.43" fill="#fff" fill-opacity="0.54"/>
<circle cx="73.9" cy="74.7" r="0.59" fill="#fff" fill-opacity="0.46"/>
<circle cx="170.6" cy="2.8" r="0.42" fill="#fff" fill-opacity="0.48"/>
<circle cx="6.2" cy="152.7" r="0.49" fill="#fff" fill-opacity="0.27"/>
<circle cx="195.1" cy="115.6" r="0.50" fill="#fff" fill-opacity="0.39"/>
<circle cx="219.9" cy="183.0" r="0.31" fill="#fff" fill-opacity="0.27"/>
<circle cx="210.2" cy="238.9" r="0.38" fill="#fff" fill-opacity="0.43"/>
<circle cx="184.3" cy="79.4" r="0.41" fill="#fff" fill-opacity="0.38"/>
<circle cx="114.8" cy="147.7" r="0.39" fill="#fff" fill-opacity="0.40"/>
<circle cx="240.2" cy="6.7" r="0.47" fill="#fff" fill-opacity="0.54"/>
<circle cx="96.4" cy="55.2" r="0.54" fill="#fff" fill-opacity="0.35"/>
<circle cx="58.3" cy="107.9" r="0.51" fill="#fff" fill-opacity="0.29"/>
<circle cx="100.1" cy="82.8" r="0.55" fill="#fff" fill-opacity="0.43"/>
<circle cx="266.1" cy="42.0" r="0.40" fill="#fff" fill-opacity="0.51"/>
<circle cx="275.2" cy="111.9" r="0.37" fill="#fff" fill-opacity="0.30"/>
<circle cx="164.7" cy="47.3" r="0.54" fill="#fff" fill-opacity="0.59"/>
<circle cx="57.1" cy="69.1" r="0.54" fill="#fff" fill-opacity="0.51"/>
<circle cx="250.7" cy="85.6" r="0.34" fill="#fff" fill-opacity="0.37"/>
<circle cx="246.9" cy="67.3" r="0.40" fill="#fff" fill-opacity="0.42"/>
<circle cx="130.5" cy="101.6" r="0.58" fill="#fff" fill-opacity="0.31"/>
<circle cx="1.4" cy="233.9" r="0.56" fill="#fff" fill-opacity="0.64"/>
<circle cx="135.1" cy="235.6" r="0.58" fill="#fff" fill-opacity="0.34"/>
<circle cx="231.9" cy="207.5" r="0.50" fill="#fff" fill-opacity="0.46"/>
<circle cx="89.9" cy="84.6" r="0.37" fill="#fff" fill-opacity="0.28"/>
<circle cx="183.1" cy="71.2" r="0.54" fill="#fff" fill-opacity="0.27"/>
<circle cx="281.0" cy="172.0" r="0.58" fill="#fff" fill-opacity="0.61"/>
<circle cx="279.8" cy="143.1" r="0.30" fill="#fff" fill-opacity="0.55"/>
<circle cx="53.4" cy="74.4" r="0.50" fill="#fff" fill-opacity="0.46"/>
<circle cx="128.7" cy="232.9" r="0.48" fill="#fff" fill-opacity="0.39"/>
<circle cx="78.5" cy="213.7" r="0.44" fill="#fff" fill-opacity="0.56"/>
<circle cx="109.4" cy="48.9" r="0.46" fill="#fff" fill-opacity="0.58"/>
<circle cx="53.3" cy="196.3" r="0.58" fill="#fff" fill-opacity="0.57"/>
<circle cx="256.1" cy="1.9" r="0.49" fill="#fff" fill-opacity="0.60"/>
<circle cx="15.5" cy="67.3" r="0.38" fill="#fff" fill-opacity="0.46"/>
<circle cx="131.5" cy="117.3" r="0.53" fill="#fff" fill-opacity="0.25"/>
<circle cx="17.1" cy="31.5" r="0.34" fill="#fff" fill-opacity="0.28"/>
<circle cx="303.1" cy="211.9" r="0.33" fill="#fff" fill-opacity="0.45"/>
<circle cx="98.2" cy="78.0" r="0.41" fill="#fff" fill-opacity="0.51"/>
<circle cx="182.4" cy="89.5" r="0.36" fill="#fff" fill-opacity="0.38"/>
<circle cx="38.5" cy="137.8" r="0.51" fill="#fff" fill-opacity="0.40"/>
<circle cx="24.8" cy="44.3" r="0.41" fill="#fff" fill-opacity="0.49"/>
<circle cx="243.4" cy="94.3" r="0.54" fill="#fff" fill-opacity="0.50"/>
<circle cx="134.2" cy="92.4" r="0.45" fill="#fff" fill-opacity="0.53"/>
<circle cx="130.8" cy="172.1" r="0.44" fill="#fff" fill-opacity="0.35"/>
<circle cx="166.6" cy="172.4" r="0.32" fill="#fff" fill-opacity="0.42"/>
<circle cx="132.4" cy="218.2" r="0.58" fill="#fff" fill-opacity="0.40"/>
<circle cx="279.2" cy="196.1" r="0.38" fill="#fff" fill-opacity="0.44"/>
<circle cx="38.3" cy="201.7" r="0.50" fill="#fff" fill-opacity="0.60"/>
<circle cx="246.5" cy="165.6" r="0.52" fill="#fff" fill-opacity="0.48"/>
<circle cx="32.1" cy="145.8" r="0.30" fill="#fff" fill-opacity="0.31"/>
<circle cx="240.8" cy="11.0" r="0.33" fill="#fff" fill-opacity="0.29"/>
<circle cx="273.8" cy="44.4" r="0.31" fill="#fff" fill-opacity="0.59"/>
<circle cx="37.7" cy="209.3" r="0.50" fill="#fff" fill-opacity="0.58"/>
<circle cx="296.2" cy="143.6" r="0.54" fill="#fff" fill-opacity="0.26"/>
<circle cx="238.7" cy="126.8" r="0.51" fill="#fff" fill-opacity="0.29"/>
<circle cx="232.9" cy="231.8" r="0.32" fill="#fff" fill-opacity="0.38"/>
<circle cx="175.4" cy="205.4" r="0.37" fill="#fff" fill-opacity="0.32"/>
<circle cx="77.7" cy="152.8" r="0.53" fill="#fff" fill-opacity="0.41"/>
<circle cx="114.3" cy="98.4" r="0.41" fill="#fff" fill-opacity="0.42"/>
<circle cx="25.9" cy="124.1" r="0.59" fill="#fff" fill-opacity="0.42"/>
<circle cx="232.4" cy="39.8" r="0.51" fill="#fff" fill-opacity="0.55"/>
<circle cx="209.6" cy="128.2" r="0.45" fill="#fff" fill-opacity="0.51"/>
<circle cx="279.1" cy="37.0" r="0.33" fill="#fff" fill-opacity="0.55"/>
<circle cx="285.1" cy="128.3" r="0.43" fill="#fff" fill-opacity="0.54"/>
<circle cx="57.9" cy="66.3" r="0.36" fill="#fff" fill-opacity="0.48"/>
<circle cx="97.9" cy="57.6" r="0.51" fill="#fff" fill-opacity="0.63"/>
<circle cx="92.0" cy="174.9" r="0.42" fill="#fff" fill-opacity="0.59"/>
<circle cx="181.8" cy="66.3" r="0.37" fill="#fff" fill-opacity="0.26"/>
<circle cx="149.1" cy="94.9" r="0.35" fill="#fff" fill-opacity="0.39"/>
<circle cx="100.2" cy="192.0" r="0.34" fill="#fff" fill-opacity="0.65"/>
<circle cx="149.2" cy="148.6" r="0.44" fill="#fff" fill-opacity="0.58"/>
<circle cx="255.5" cy="138.2" r="0.44" fill="#fff" fill-opacity="0.54"/>
<circle cx="266.4" cy="99.3" r="0.52" fill="#fff" fill-opacity="0.63"/>
<circle cx="145.4" cy="56.9" r="0.37" fill="#fff" fill-opacity="0.54"/>
<circle cx="210.0" cy="237.8" r="0.56" fill="#fff" fill-opacity="0.35"/>
<circle cx="59.0" cy="64.1" r="0.36" fill="#fff" fill-opacity="0.53"/>
<circle cx="267.0" cy="223.1" r="0.38" fill="#fff" fill-opacity="0.60"/>
<circle cx="97.5" cy="105.0" r="0.52" fill="#fff" fill-opacity="0.28"/>
<circle cx="28.8" cy="206.8" r="0.39" fill="#fff" fill-opacity="0.39"/>
<circle cx="180.5" cy="167.5" r="0.30" fill="#fff" fill-opacity="0.38"/>
<circle cx="135.7" cy="120.5" r="0.36" fill="#fff" fill-opacity="0.48"/>
<circle cx="297.1" cy="96.9" r="0.46" fill="#fff" fill-opacity="0.30"/>
<circle cx="85.5" cy="165.0" r="0.33" fill="#fff" fill-opacity="0.60"/>
<circle cx="282.6" cy="24.0" r="0.58" fill="#fff" fill-opacity="0.40"/>
<circle cx="240.2" cy="187.8" r="0.39" fill="#fff" fill-opacity="0.52"/>
<circle cx="203.4" cy="199.9" r="0.38" fill="#fff" fill-opacity="0.55"/>
<circle cx="299.0" cy="166.9" r="0.46" fill="#fff" fill-opacity="0.30"/>
<circle cx="153.6" cy="87.3" r="0.52" fill="#fff" fill-opacity="0.52"/>
<circle cx="176.1" cy="45.1" r="0.49" fill="#fff" fill-opacity="0.50"/>
<circle cx="55.7" cy="220.7" r="0.50" fill="#fff" fill-opacity="0.30"/>
<circle cx="289.8" cy="35.1" r="0.40" fill="#fff" fill-opacity="0.54"/>
<circle cx="185.8" cy="137.6" r="0.49" fill="#fff" fill-opacity="0.43"/>
<circle cx="97.2" cy="43.7" r="0.32" fill="#fff" fill-opacity="0.54"/>
<circle cx="234.6" cy="134.7" r="0.52" fill="#fff" fill-opacity="0.39"/>
<circle cx="82.7" cy="95.1" r="0.56" fill="#fff" fill-opacity="0.27"/>
<circle cx="157.0" cy="61.3" r="0.53" fill="#fff" fill-opacity="0.39"/>
<circle cx="103.5" cy="100.0" r="0.46" fill="#fff" fill-opacity="0.56"/>
<circle cx="109.7" cy="210.0" r="0.33" fill="#fff" fill-opacity="0.36"/>
<circle cx="31.0" cy="27.9" r="0.53" fill="#fff" fill-opacity="0.54"/>
<circle cx="57.5" cy="46.9" r="0.42" fill="#fff" fill-opacity="0.55"/>
<circle cx="253.7" cy="185.7" r="0.48" fill="#fff" fill-opacity="0.31"/>
<circle cx="123.9" cy="48.0" r="0.46" fill="#fff" fill-opacity="0.48"/>
<circle cx="62.8" cy="62.0" r="0.53" fill="#fff" fill-opacity="0.26"/>
<circle cx="249.8" cy="221.0" r="0.58" fill="#fff" fill-opacity="0.40"/>
<circle cx="171.9" cy="144.6" r="0.49" fill="#fff" fill-opacity="0.64"/>
<circle cx="213.5" cy="74.3" r="0.56" fill="#fff" fill-opacity="0.44"/>
<circle cx="187.0" cy="180.3" r="0.30" fill="#fff" fill-opacity="0.56"/>
<circle cx="205.9" cy="122.0" r="0.46" fill="#fff" fill-opacity="0.43"/>
<circle cx="60.2" cy="131.3" r="0.31" fill="#fff" fill-opacity="0.45"/>
<circle cx="200.9" cy="110.2" r="0.47" fill="#fff" fill-opacity="0.63"/>
<circle cx="277.4" cy="33.6" r="0.54" fill="#fff" fill-opacity="0.50"/>
<circle cx="15.7" cy="89.3" r="0.37" fill="#fff" fill-opacity="0.28"/>
<circle cx="167.6" cy="230.6" r="0.40" fill="#fff" fill-opacity="0.60"/>
<circle cx="216.0" cy="33.3" r="0.56" fill="#fff" fill-opacity="0.49"/>
<circle cx="288.3" cy="177.6" r="0.52" fill="#fff" fill-opacity="0.39"/>
<circle cx="250.9" cy="231.1" r="0.56" fill="#fff" fill-opacity="0.42"/>
<circle cx="235.4" cy="120.3" r="0.33" fill="#fff" fill-opacity="0.27"/>
<circle cx="24.2" cy="49.7" r="0.35" fill="#fff" fill-opacity="0.45"/>
<circle cx="217.5" cy="133.3" r="0.43" fill="#fff" fill-opacity="0.51"/>
<circle cx="94.7" cy="115.2" r="0.53" fill="#fff" fill-opacity="0.41"/>
<circle cx="56.2" cy="223.1" r="0.52" fill="#fff" fill-opacity="0.40"/>
<circle cx="115.4" cy="131.3" r="0.48" fill="#fff" fill-opacity="0.34"/>
<circle cx="0.8" cy="51.8" r="0.53" fill="#fff" fill-opacity="0.31"/>
<circle cx="143.1" cy="48.4" r="0.36" fill="#fff" fill-opacity="0.32"/>
<circle cx="125.6" cy="41.7" r="0.31" fill="#fff" fill-opacity="0.29"/>
<circle cx="52.3" cy="121.6" r="0.32" fill="#fff" fill-opacity="0.26"/>
<circle cx="139.3" cy="101.1" r="0.51" fill="#fff" fill-opacity="0.27"/>
<circle cx="125.4" cy="98.4" r="0.31" fill="#fff" fill-opacity="0.64"/>
<circle cx="68.1" cy="23.4" r="0.44" fill="#fff" fill-opacity="0.32"/>
<circle cx="193.6" cy="85.9" r="0.34" fill="#fff" fill-opacity="0.27"/>
<circle cx="226.3" cy="68.2" r="0.54" fill="#fff" fill-opacity="0.44"/>
<circle cx="290.1" cy="74.5" r="0.37" fill="#fff" fill-opacity="0.36"/>
<circle cx="253.4" cy="156.0" r="0.40" fill="#fff" fill-opacity="0.29"/>
<circle cx="212.2" cy="240.4" r="0.48" fill="#fff" fill-opacity="0.25"/>
<circle cx="9.4" cy="22.5" r="0.35" fill="#fff" fill-opacity="0.26"/>
<circle cx="16.8" cy="162.3" r="0.57" fill="#fff" fill-opacity="0.33"/>
<circle cx="302.9" cy="118.3" r="0.54" fill="#fff" fill-opacity="0.62"/>
<circle cx="292.4" cy="8.5" r="0.39" fill="#fff" fill-opacity="0.49"/>
<circle cx="294.4" cy="21.8" r="0.39" fill="#fff" fill-opacity="0.59"/>
<circle cx="35.7" cy="96.7" r="0.40" fill="#fff" fill-opacity="0.52"/>
<circle cx="288.8" cy="43.3" r="0.52" fill="#fff" fill-opacity="0.54"/>
<circle cx="259.9" cy="137.2" r="0.58" fill="#fff" fill-opacity="0.40"/>
<circle cx="129.0" cy="56.9" r="0.53" fill="#fff" fill-opacity="0.44"/>
<circle cx="83.8" cy="42.1" r="0.52" fill="#fff" fill-opacity="0.49"/>
<circle cx="221.0" cy="95.9" r="0.45" fill="#fff" fill-opacity="0.31"/>
<circle cx="221.0" cy="5.7" r="0.44" fill="#fff" fill-opacity="0.55"/>
<circle cx="210.6" cy="24.1" r="0.37" fill="#fff" fill-opacity="0.59"/>
<circle cx="199.8" cy="217.9" r="0.56" fill="#fff" fill-opacity="0.43"/>
<circle cx="278.9" cy="181.7" r="0.40" fill="#fff" fill-opacity="0.40"/>
<circle cx="22.4" cy="99.0" r="0.59" fill="#fff" fill-opacity="0.29"/>
<circle cx="176.9" cy="27.3" r="0.32" fill="#fff" fill-opacity="0.51"/>
<circle cx="74.9" cy="12.1" r="0.35" fill="#fff" fill-opacity="0.51"/>
<circle cx="182.1" cy="2.9" r="0.37" fill="#fff" fill-opacity="0.64"/>
<circle cx="68.4" cy="139.5" r="0.43" fill="#fff" fill-opacity="0.56"/>
<circle cx="188.0" cy="195.6" r="0.46" fill="#fff" fill-opacity="0.33"/>
<circle cx="55.2" cy="19.6" r="0.55" fill="#fff" fill-opacity="0.30"/>
<circle cx="7.5" cy="239.7" r="0.36" fill="#fff" fill-opacity="0.61"/>
<circle cx="26.7" cy="115.4" r="0.37" fill="#fff" fill-opacity="0.58"/>
<circle cx="191.4" cy="159.2" r="0.53" fill="#fff" fill-opacity="0.60"/>
<circle cx="107.6" cy="149.6" r="0.43" fill="#fff" fill-opacity="0.29"/>
<circle cx="259.8" cy="147.4" r="0.54" fill="#fff" fill-opacity="0.33"/>
<circle cx="167.7" cy="115.1" r="0.52" fill="#fff" fill-opacity="0.28"/>
<circle cx="107.7" cy="120.2" r="0.32" fill="#fff" fill-opacity="0.47"/>
<circle cx="228.7" cy="104.9" r="0.49" fill="#fff" fill-opacity="0.49"/>
<circle cx="66.6" cy="86.9" r="0.60" fill="#fff" fill-opacity="0.38"/>
<circle cx="134.0" cy="20.9" r="0.37" fill="#fff" fill-opacity="0.32"/>
<circle cx="289.5" cy="180.1" r="0.56" fill="#fff" fill-opacity="0.64"/>
<circle cx="190.4" cy="231.0" r="0.46" fill="#fff" fill-opacity="0.42"/>
<circle cx="294.8" cy="224.0" r="0.58" fill="#fff" fill-opacity="0.44"/>
<circle cx="240.5" cy="100.9" r="0.60" fill="#fff" fill-opacity="0.62"/>
<circle cx="90.8" cy="231.7" r="0.36" fill="#fff" fill-opacity="0.29"/>
<circle cx="224.7" cy="73.0" r="0.46" fill="#fff" fill-opacity="0.51"/>
<circle cx="12.6" cy="184.8" r="0.38" fill="#fff" fill-opacity="0.42"/>
<circle cx="107.2" cy="184.0" r="0.52" fill="#fff" fill-opacity="0.36"/>
<circle cx="32.1" cy="74.2" r="0.42" fill="#fff" fill-opacity="0.28"/>
<circle cx="47.6" cy="189.2" r="0.51" fill="#fff" fill-opacity="0.64"/>
<circle cx="304.7" cy="217.3" r="0.41" fill="#fff" fill-opacity="0.31"/>
<circle cx="97.0" cy="114.9" r="0.46" fill="#fff" fill-opacity="0.47"/>
<circle cx="111.9" cy="211.5" r="0.39" fill="#fff" fill-opacity="0.44"/>
<circle cx="275.8" cy="200.2" r="0.39" fill="#fff" fill-opacity="0.35"/>
<circle cx="250.9" cy="2.5" r="0.34" fill="#fff" fill-opacity="0.46"/>
<circle cx="166.6" cy="41.1" r="0.32" fill="#fff" fill-opacity="0.33"/>
<circle cx="239.5" cy="115.5" r="0.59" fill="#fff" fill-opacity="0.56"/>
<circle cx="304.5" cy="8.7" r="0.36" fill="#fff" fill-opacity="0.26"/>
<circle cx="134.5" cy="83.9" r="0.32" fill="#fff" fill-opacity="0.47"/>
<circle cx="29.2" cy="77.3" r="0.37" fill="#fff" fill-opacity="0.57"/>
<circle cx="130.1" cy="64.6" r="0.31" fill="#fff" fill-opacity="0.42"/>
<circle cx="195.1" cy="167.5" r="0.57" fill="#fff" fill-opacity="0.57"/>
<circle cx="76.9" cy="33.6" r="0.53" fill="#fff" fill-opacity="0.57"/>
<circle cx="158.2" cy="206.1" r="0.47" fill="#fff" fill-opacity="0.36"/>
<circle cx="52.5" cy="4.2" r="0.49" fill="#fff" fill-opacity="0.61"/>
<circle cx="281.8" cy="115.9" r="0.50" fill="#fff" fill-opacity="0.62"/>
<circle cx="253.2" cy="149.5" r="0.42" fill="#fff" fill-opacity="0.46"/>
<circle cx="53.1" cy="45.4" r="0.51" fill="#fff" fill-opacity="0.65"/>
<circle cx="170.1" cy="101.2" r="0.41" fill="#fff" fill-opacity="0.43"/>
<circle cx="249.7" cy="112.2" r="0.59" fill="#fff" fill-opacity="0.31"/>
<circle cx="97.9" cy="129.5" r="0.42" fill="#fff" fill-opacity="0.59"/>
<circle cx="257.4" cy="231.0" r="0.48" fill="#fff" fill-opacity="0.26"/>
<circle cx="178.7" cy="136.3" r="0.45" fill="#fff" fill-opacity="0.36"/>
<circle cx="220.6" cy="226.1" r="0.33" fill="#fff" fill-opacity="0.52"/>
<circle cx="115.5" cy="127.7" r="0.57" fill="#fff" fill-opacity="0.63"/>
<circle cx="200.1" cy="48.4" r="0.58" fill="#fff" fill-opacity="0.32"/>
<circle cx="119.2" cy="205.4" r="0.39" fill="#fff" fill-opacity="0.36"/>
<circle cx="295.4" cy="234.1" r="0.40" fill="#fff" fill-opacity="0.41"/>
<circle cx="87.7" cy="32.6" r="0.38" fill="#fff" fill-opacity="0.64"/>
<circle cx="24.7" cy="57.0" r="0.36" fill="#fff" fill-opacity="0.28"/>
<circle cx="163.7" cy="184.3" r="0.55" fill="#fff" fill-opacity="0.50"/>
<circle cx="254.3" cy="1.3" r="0.38" fill="#fff" fill-opacity="0.63"/>
<circle cx="21.6" cy="66.4" r="0.44" fill="#fff" fill-opacity="0.36"/>
<circle cx="169.8" cy="11.7" r="0.37" fill="#fff" fill-opacity="0.63"/>
<circle cx="44.9" cy="224.6" r="0.35" fill="#fff" fill-opacity="0.65"/>
<circle cx="209.8" cy="160.4" r="0.34" fill="#fff" fill-opacity="0.27"/>
<circle cx="236.2" cy="43.7" r="0.36" fill="#fff" fill-opacity="0.58"/>
<circle cx="272.1" cy="12.1" r="0.59" fill="#fff" fill-opacity="0.46"/>
<circle cx="118.9" cy="26.6" r="0.42" fill="#fff" fill-opacity="0.65"/>
<circle cx="87.3" cy="32.6" r="0.34" fill="#fff" fill-opacity="0.30"/>
<circle cx="109.6" cy="226.9" r="0.32" fill="#fff" fill-opacity="0.33"/>
<circle cx="292.1" cy="247.2" r="0.59" fill="#fff" fill-opacity="0.35"/>
<circle cx="110.2" cy="235.8" r="0.45" fill="#fff" fill-opacity="0.53"/>
<circle cx="97.4" cy="5.3" r="0.40" fill="#fff" fill-opacity="0.55"/>
<circle cx="243.2" cy="141.1" r="0.44" fill="#fff" fill-opacity="0.47"/>
<circle cx="137.6" cy="132.5" r="0.55" fill="#fff" fill-opacity="0.33"/>
<circle cx="184.8" cy="231.3" r="0.55" fill="#fff" fill-opacity="0.32"/>
<circle cx="299.6" cy="208.3" r="0.35" fill="#fff" fill-opacity="0.36"/>
<circle cx="62.9" cy="13.2" r="0.59" fill="#fff" fill-opacity="0.41"/>
<circle cx="271.4" cy="28.4" r="0.30" fill="#fff" fill-opacity="0.60"/>
<circle cx="246.9" cy="245.9" r="0.51" fill="#fff" fill-opacity="0.46"/>
<circle cx="238.2" cy="22.9" r="0.46" fill="#fff" fill-opacity="0.43"/>
<circle cx="45.5" cy="148.9" r="0.40" fill="#fff" fill-opacity="0.45"/>
<circle cx="116.2" cy="78.9" r="0.41" fill="#fff" fill-opacity="0.49"/>
<circle cx="304.9" cy="232.2" r="0.56" fill="#fff" fill-opacity="0.58"/>
<circle cx="89.2" cy="242.2" r="0.38" fill="#fff" fill-opacity="0.30"/>
<circle cx="155.8" cy="181.6" r="0.40" fill="#fff" fill-opacity="0.51"/>
<circle cx="87.8" cy="239.8" r="0.44" fill="#fff" fill-opacity="0.44"/>
<circle cx="165.3" cy="217.0" r="0.60" fill="#fff" fill-opacity="0.46"/>
<circle cx="137.3" cy="153.2" r="0.32" fill="#fff" fill-opacity="0.42"/>
<circle cx="263.6" cy="192.8" r="0.32" fill="#fff" fill-opacity="0.59"/>
<circle cx="119.4" cy="243.4" r="0.41" fill="#fff" fill-opacity="0.34"/>
<circle cx="170.6" cy="219.2" r="0.43" fill="#fff" fill-opacity="0.60"/>
<circle cx="221.2" cy="89.7" r="0.39" fill="#fff" fill-opacity="0.45"/>
<circle cx="124.1" cy="92.4" r="0.50" fill="#fff" fill-opacity="0.60"/>
<circle cx="181.8" cy="36.3" r="0.37" fill="#fff" fill-opacity="0.40"/>
<circle cx="191.2" cy="34.6" r="0.32" fill="#fff" fill-opacity="0.38"/>
<circle cx="88.0" cy="7.3" r="0.46" fill="#fff" fill-opacity="0.62"/>
<circle cx="166.2" cy="182.9" r="0.55" fill="#fff" fill-opacity="0.59"/>
<circle cx="284.0" cy="109.5" r="0.50" fill="#fff" fill-opacity="0.30"/>
<circle cx="273.7" cy="93.8" r="0.44" fill="#fff" fill-opacity="0.61"/>
<circle cx="89.2" cy="47.1" r="0.55" fill="#fff" fill-opacity="0.49"/>
<circle cx="26.4" cy="7.0" r="0.41" fill="#fff" fill-opacity="0.25"/>
<circle cx="258.9" cy="45.5" r="0.38" fill="#fff" fill-opacity="0.41"/>
<circle cx="159.1" cy="107.2" r="0.49" fill="#fff" fill-opacity="0.51"/>
<circle cx="135.7" cy="24.1" r="0.59" fill="#fff" fill-opacity="0.53"/>
<circle cx="26.0" cy="109.5" r="0.53" fill="#fff" fill-opacity="0.65"/>
<circle cx="20.5" cy="2.4" r="0.44" fill="#fff" fill-opacity="0.42"/>
<circle cx="278.2" cy="205.0" r="0.40" fill="#fff" fill-opacity="0.42"/>
<circle cx="181.3" cy="219.3" r="0.36" fill="#fff" fill-opacity="0.41"/>
<circle cx="27.5" cy="159.0" r="0.31" fill="#fff" fill-opacity="0.62"/>
<circle cx="162.9" cy="142.3" r="0.33" fill="#fff" fill-opacity="0.34"/>
<circle cx="145.8" cy="212.6" r="0.46" fill="#fff" fill-opacity="0.36"/>
<circle cx="305.4" cy="164.0" r="0.46" fill="#fff" fill-opacity="0.33"/>
<circle cx="92.9" cy="223.2" r="0.34" fill="#fff" fill-opacity="0.46"/>
<circle cx="192.8" cy="88.0" r="0.53" fill="#fff" fill-opacity="0.61"/>
<circle cx="266.7" cy="183.0" r="0.36" fill="#fff" fill-opacity="0.27"/>
<circle cx="134.6" cy="77.4" r="0.36" fill="#fff" fill-opacity="0.60"/>
<circle cx="67.2" cy="204.0" r="0.58" fill="#fff" fill-opacity="0.30"/>
<circle cx="284.1" cy="98.5" r="0.36" fill="#fff" fill-opacity="0.32"/>
<circle cx="11.7" cy="123.7" r="0.42" fill="#fff" fill-opacity="0.59"/>
<circle cx="259.1" cy="14.1" r="0.42" fill="#fff" fill-opacity="0.41"/>
<circle cx="55.2" cy="62.2" r="0.38" fill="#fff" fill-opacity="0.53"/>
<circle cx="105.8" cy="27.6" r="0.37" fill="#fff" fill-opacity="0.43"/>
<circle cx="175.7" cy="60.9" r="0.51" fill="#fff" fill-opacity="0.34"/>
<circle cx="208.6" cy="151.1" r="0.35" fill="#fff" fill-opacity="0.55"/>
<circle cx="122.6" cy="133.8" r="0.48" fill="#fff" fill-opacity="0.50"/>
<circle cx="137.6" cy="13.9" r="0.54" fill="#fff" fill-opacity="0.59"/>
<circle cx="152.4" cy="143.6" r="0.38" fill="#fff" fill-opacity="0.61"/>
<circle cx="213.2" cy="55.0" r="0.55" fill="#fff" fill-opacity="0.64"/>
<circle cx="107.6" cy="246.9" r="0.44" fill="#fff" fill-opacity="0.32"/>
<circle cx="222.9" cy="84.0" r="0.52" fill="#fff" fill-opacity="0.48"/>
<circle cx="33.5" cy="131.0" r="0.56" fill="#fff" fill-opacity="0.44"/>
<circle cx="167.7" cy="214.1" r="0.43" fill="#fff" fill-opacity="0.45"/>
<circle cx="181.3" cy="204.3" r="0.36" fill="#fff" fill-opacity="0.29"/>
<circle cx="236.7" cy="137.0" r="0.39" fill="#fff" fill-opacity="0.61"/>
<circle cx="275.1" cy="134.3" r="0.60" fill="#fff" fill-opacity="0.58"/>
<circle cx="232.6" cy="72.2" r="0.30" fill="#fff" fill-opacity="0.52"/>
<circle cx="228.6" cy="87.0" r="0.44" fill="#fff" fill-opacity="0.48"/>
<circle cx="77.7" cy="173.0" r="0.47" fill="#fff" fill-opacity="0.40"/>
<circle cx="34.1" cy="137.4" r="0.40" fill="#fff" fill-opacity="0.54"/>
<circle cx="53.7" cy="97.8" r="0.36" fill="#fff" fill-opacity="0.41"/>
<circle cx="179.3" cy="26.5" r="0.32" fill="#fff" fill-opacity="0.44"/>
<circle cx="62.7" cy="125.3" r="0.35" fill="#fff" fill-opacity="0.29"/>
<circle cx="167.2" cy="229.0" r="0.56" fill="#fff" fill-opacity="0.46"/>
<circle cx="123.6" cy="16.4" r="0.38" fill="#fff" fill-opacity="0.38"/>
<circle cx="292.8" cy="29.1" r="0.58" fill="#fff" fill-opacity="0.44"/>
<circle cx="135.0" cy="65.0" r="0.59" fill="#fff" fill-opacity="0.32"/>
<circle cx="177.7" cy="126.7" r="0.36" fill="#fff" fill-opacity="0.34"/>
<circle cx="306.5" cy="196.1" r="0.52" fill="#fff" fill-opacity="0.61"/>
<circle cx="30.7" cy="174.5" r="0.53" fill="#fff" fill-opacity="0.34"/>
<circle cx="142.1" cy="241.7" r="0.40" fill="#fff" fill-opacity="0.55"/>
<circle cx="51.4" cy="165.5" r="0.38" fill="#fff" fill-opacity="0.45"/>
<circle cx="115.8" cy="215.8" r="0.52" fill="#fff" fill-opacity="0.45"/>
<circle cx="213.7" cy="106.1" r="0.54" fill="#fff" fill-opacity="0.35"/>
<circle cx="169.2" cy="145.2" r="0.42" fill="#fff" fill-opacity="0.27"/>
<circle cx="52.9" cy="158.8" r="0.36" fill="#fff" fill-opacity="0.55"/>
<circle cx="157.0" cy="236.4" r="0.55" fill="#fff" fill-opacity="0.54"/>
<circle cx="115.8" cy="10.8" r="0.47" fill="#fff" fill-opacity="0.55"/>
<circle cx="286.5" cy="50.3" r="0.35" fill="#fff" fill-opacity="0.64"/>
<circle cx="230.0" cy="120.2" r="0.52" fill="#fff" fill-opacity="0.31"/>
<circle cx="169.2" cy="165.8" r="0.48" fill="#fff" fill-opacity="0.31"/>
<circle cx="42.5" cy="155.0" r="0.57" fill="#fff" fill-opacity="0.31"/>
<circle cx="2.2" cy="20.5" r="0.54" fill="#fff" fill-opacity="0.41"/>
<circle cx="141.7" cy="246.5" r="0.48" fill="#fff" fill-opacity="0.36"/>
<circle cx="218.0" cy="0.5" r="0.38" fill="#fff" fill-opacity="0.53"/>
<circle cx="53.1" cy="8.1" r="0.46" fill="#fff" fill-opacity="0.38"/>
<circle cx="302.0" cy="25.2" r="0.54" fill="#fff" fill-opacity="0.41"/>
<circle cx="250.5" cy="110.4" r="0.50" fill="#fff" fill-opacity="0.38"/>
<circle cx="69.8" cy="112.2" r="0.54" fill="#fff" fill-opacity="0.39"/>
<circle cx="71.5" cy="103.1" r="0.33" fill="#fff" fill-opacity="0.38"/>
<circle cx="178.2" cy="135.3" r="0.48" fill="#fff" fill-opacity="0.37"/>
<circle cx="7.7" cy="6.6" r="0.40" fill="#fff" fill-opacity="0.33"/>
<circle cx="176.9" cy="65.8" r="0.53" fill="#fff" fill-opacity="0.49"/>
<circle cx="206.0" cy="182.4" r="0.46" fill="#fff" fill-opacity="0.42"/>
<circle cx="95.9" cy="15.6" r="0.54" fill="#fff" fill-opacity="0.45"/>
<circle cx="31.0" cy="229.8" r="0.47" fill="#fff" fill-opacity="0.50"/>
<circle cx="136.4" cy="31.3" r="0.60" fill="#fff" fill-opacity="0.32"/>
<circle cx="113.9" cy="247.8" r="0.34" fill="#fff" fill-opacity="0.45"/>
<circle cx="149.2" cy="61.4" r="0.58" fill="#fff" fill-opacity="0.42"/>
<circle cx="3.6" cy="117.4" r="0.30" fill="#fff" fill-opacity="0.53"/>
<circle cx="270.3" cy="224.6" r="0.31" fill="#fff" fill-opacity="0.52"/>
<circle cx="94.8" cy="117.2" r="0.39" fill="#fff" fill-opacity="0.37"/>
<circle cx="41.3" cy="155.2" r="0.33" fill="#fff" fill-opacity="0.64"/>
<circle cx="13.6" cy="239.1" r="0.36" fill="#fff" fill-opacity="0.28"/>
<circle cx="231.6" cy="131.7" r="0.53" fill="#fff" fill-opacity="0.45"/>
<circle cx="196.1" cy="20.5" r="0.50" fill="#fff" fill-opacity="0.45"/>
<circle cx="299.3" cy="1.5" r="0.32" fill="#fff" fill-opacity="0.52"/>
<circle cx="288.0" cy="104.6" r="0.51" fill="#fff" fill-opacity="0.47"/>
<circle cx="121.6" cy="115.4" r="0.48" fill="#fff" fill-opacity="0.26"/>
<circle cx="95.0" cy="183.0" r="0.38" fill="#fff" fill-opacity="0.44"/>
<circle cx="79.8" cy="88.7" r="0.50" fill="#fff" fill-opacity="0.55"/>
<circle cx="297.6" cy="118.2" r="0.36" fill="#fff" fill-opacity="0.38"/>
<circle cx="18.2" cy="59.4" r="0.48" fill="#fff" fill-opacity="0.49"/>
<circle cx="75.1" cy="45.0" r="0.33" fill="#fff" fill-opacity="0.32"/>
<circle cx="155.9" cy="63.3" r="0.57" fill="#fff" fill-opacity="0.48"/>
<circle cx="105.8" cy="106.9" r="0.31" fill="#fff" fill-opacity="0.54"/>
<circle cx="233.6" cy="90.2" r="0.52" fill="#fff" fill-opacity="0.36"/>
<circle cx="68.3" cy="56.6" r="0.36" fill="#fff" fill-opacity="0.49"/>
<circle cx="199.7" cy="180.5" r="0.33" fill="#fff" fill-opacity="0.56"/>
<circle cx="148.7" cy="93.9" r="0.45" fill="#fff" fill-opacity="0.42"/>
<circle cx="62.2" cy="98.0" r="0.49" fill="#fff" fill-opacity="0.54"/>
<circle cx="284.6" cy="48.2" r="0.57" fill="#fff" fill-opacity="0.57"/>
<circle cx="221.7" cy="242.9" r="0.34" fill="#fff" fill-opacity="0.56"/>
<circle cx="279.7" cy="30.3" r="0.48" fill="#fff" fill-opacity="0.63"/>
<circle cx="91.1" cy="212.1" r="0.57" fill="#fff" fill-opacity="0.42"/>
<circle cx="45.2" cy="53.5" r="0.55" fill="#fff" fill-opacity="0.42"/>
<circle cx="98.2" cy="109.8" r="0.58" fill="#fff" fill-opacity="0.35"/>
<circle cx="5.7" cy="235.4" r="0.40" fill="#fff" fill-opacity="0.40"/>
<circle cx="303.5" cy="69.9" r="0.33" fill="#fff" fill-opacity="0.61"/>
<circle cx="75.8" cy="55.0" r="0.58" fill="#fff" fill-opacity="0.34"/>
<circle cx="280.3" cy="82.6" r="0.39" fill="#fff" fill-opacity="0.34"/>
<circle cx="168.7" cy="138.9" r="0.42" fill="#fff" fill-opacity="0.45"/>
<circle cx="92.7" cy="207.7" r="0.58" fill="#fff" fill-opacity="0.55"/>
<circle cx="254.9" cy="17.5" r="0.38" fill="#fff" fill-opacity="0.33"/>
<circle cx="48.2" cy="240.2" r="0.57" fill="#fff" fill-opacity="0.62"/>
<circle cx="173.5" cy="28.9" r="0.43" fill="#fff" fill-opacity="0.27"/>
<circle cx="281.3" cy="65.8" r="0.39" fill="#fff" fill-opacity="0.63"/>
<circle cx="62.4" cy="228.8" r="0.39" fill="#fff" fill-opacity="0.52"/>
<circle cx="33.2" cy="222.8" r="0.42" fill="#fff" fill-opacity="0.39"/>
<circle cx="203.5" cy="147.2" r="0.38" fill="#fff" fill-opacity="0.30"/>
<circle cx="179.0" cy="6.1" r="0.56" fill="#fff" fill-opacity="0.39"/>
<circle cx="52.7" cy="81.3" r="0.33" fill="#fff" fill-opacity="0.38"/>
<circle cx="168.9" cy="100.9" r="0.40" fill="#fff" fill-opacity="0.37"/>
<circle cx="151.3" cy="193.1" r="0.43" fill="#fff" fill-opacity="0.56"/>
<circle cx="150.1" cy="29.8" r="0.35" fill="#fff" fill-opacity="0.59"/>
<circle cx="149.1" cy="94.8" r="0.45" fill="#fff" fill-opacity="0.59"/>
<circle cx="116.7" cy="89.7" r="0.41" fill="#fff" fill-opacity="0.25"/>
<circle cx="169.4" cy="118.8" r="0.45" fill="#fff" fill-opacity="0.43"/>
<circle cx="146.9" cy="177.4" r="0.36" fill="#fff" fill-opacity="0.64"/>
<circle cx="35.7" cy="214.9" r="0.35" fill="#fff" fill-opacity="0.57"/>
<circle cx="81.0" cy="19.4" r="0.46" fill="#fff" fill-opacity="0.59"/>
<circle cx="262.9" cy="217.5" r="0.59" fill="#fff" fill-opacity="0.27"/>
<circle cx="117.9" cy="26.5" r="0.53" fill="#fff" fill-opacity="0.43"/>
<circle cx="231.4" cy="197.3" r="0.60" fill="#fff" fill-opacity="0.52"/>
<circle cx="272.2" cy="136.0" r="0.32" fill="#fff" fill-opacity="0.61"/>
<circle cx="28.3" cy="21.3" r="0.55" fill="#fff" fill-opacity="0.36"/>
<circle cx="206.0" cy="7.1" r="0.36" fill="#fff" fill-opacity="0.54"/>
<circle cx="11.7" cy="126.6" r="0.58" fill="#fff" fill-opacity="0.34"/>
<circle cx="219.2" cy="184.5" r="0.49" fill="#fff" fill-opacity="0.56"/>
<circle cx="217.1" cy="3.5" r="0.36" fill="#fff" fill-opacity="0.46"/>
<circle cx="301.6" cy="53.8" r="0.48" fill="#fff" fill-opacity="0.30"/>
<circle cx="263.4" cy="110.4" r="0.46" fill="#fff" fill-opacity="0.52"/>
<circle cx="42.5" cy="180.7" r="0.54" fill="#fff" fill-opacity="0.59"/>
<circle cx="87.5" cy="58.1" r="0.35" fill="#fff" fill-opacity="0.61"/>
<circle cx="136.2" cy="96.7" r="0.46" fill="#fff" fill-opacity="0.53"/>
<circle cx="98.9" cy="83.4" r="0.53" fill="#fff" fill-opacity="0.56"/>
<circle cx="92.0" cy="18.3" r="0.58" fill="#fff" fill-opacity="0.54"/>
<circle cx="184.8" cy="100.4" r="0.59" fill="#fff" fill-opacity="0.42"/>
<circle cx="67.3" cy="24.9" r="0.41" fill="#fff" fill-opacity="0.49"/>
<circle cx="113.4" cy="234.9" r="0.49" fill="#fff" fill-opacity="0.43"/>
<circle cx="205.4" cy="149.2" r="0.49" fill="#fff" fill-opacity="0.45"/>
<circle cx="162.7" cy="121.8" r="0.55" fill="#fff" fill-opacity="0.33"/>
<circle cx="244.3" cy="74.0" r="0.55" fill="#fff" fill-opacity="0.28"/>
<circle cx="150.8" cy="109.8" r="0.51" fill="#fff" fill-opacity="0.33"/>
<circle cx="81.6" cy="33.0" r="0.47" fill="#fff" fill-opacity="0.48"/>
<circle cx="0.2" cy="44.1" r="0.36" fill="#fff" fill-opacity="0.63"/>
<circle cx="141.5" cy="140.3" r="0.39" fill="#fff" fill-opacity="0.51"/>
<circle cx="252.8" cy="166.5" r="0.30" fill="#fff" fill-opacity="0.43"/>
<circle cx="152.0" cy="11.0" r="0.54" fill="#fff" fill-opacity="0.38"/>
<circle cx="91.2" cy="155.1" r="0.48" fill="#fff" fill-opacity="0.45"/>
<circle cx="267.2" cy="128.7" r="0.40" fill="#fff" fill-opacity="0.28"/>
<circle cx="171.9" cy="90.1" r="0.46" fill="#fff" fill-opacity="0.39"/>
<circle cx="2.1" cy="9.4" r="0.35" fill="#fff" fill-opacity="0.29"/>
<circle cx="264.8" cy="144.0" r="0.37" fill="#fff" fill-opacity="0.53"/>
<circle cx="197.3" cy="15.4" r="0.53" fill="#fff" fill-opacity="0.34"/>
<circle cx="310.2" cy="35.2" r="0.39" fill="#fff" fill-opacity="0.35"/>
<circle cx="268.1" cy="203.0" r="0.47" fill="#fff" fill-opacity="0.31"/>
<circle cx="133.3" cy="174.1" r="0.32" fill="#fff" fill-opacity="0.62"/>
<circle cx="261.7" cy="231.1" r="0.51" fill="#fff" fill-opacity="0.50"/>
<circle cx="303.2" cy="66.2" r="0.39" fill="#fff" fill-opacity="0.30"/>
<circle cx="56.1" cy="198.0" r="0.33" fill="#fff" fill-opacity="0.55"/>
<circle cx="123.2" cy="217.6" r="0.53" fill="#fff" fill-opacity="0.52"/>
<circle cx="262.8" cy="10.5" r="0.38" fill="#fff" fill-opacity="0.40"/>
<circle cx="133.5" cy="166.2" r="0.56" fill="#fff" fill-opacity="0.55"/>
<circle cx="288.8" cy="172.6" r="0.41" fill="#fff" fill-opacity="0.45"/>
<circle cx="232.8" cy="202.1" r="0.41" fill="#fff" fill-opacity="0.39"/>
<circle cx="191.1" cy="56.6" r="0.56" fill="#fff" fill-opacity="0.25"/>
<circle cx="201.7" cy="120.4" r="0.36" fill="#fff" fill-opacity="0.48"/>
<circle cx="147.5" cy="238.6" r="0.57" fill="#fff" fill-opacity="0.48"/>
<circle cx="271.0" cy="219.1" r="0.35" fill="#fff" fill-opacity="0.58"/>
<circle cx="259.2" cy="245.7" r="0.53" fill="#fff" fill-opacity="0.41"/>
<circle cx="64.2" cy="161.9" r="0.36" fill="#fff" fill-opacity="0.55"/>
<circle cx="178.6" cy="204.8" r="0.41" fill="#fff" fill-opacity="0.37"/>
<circle cx="281.3" cy="164.3" r="0.41" fill="#fff" fill-opacity="0.47"/>
<circle cx="135.5" cy="159.5" r="0.46" fill="#fff" fill-opacity="0.36"/>
<circle cx="304.7" cy="219.5" r="0.53" fill="#fff" fill-opacity="0.36"/>
<circle cx="60.4" cy="181.3" r="0.55" fill="#fff" fill-opacity="0.51"/>
<circle cx="66.4" cy="178.7" r="0.46" fill="#fff" fill-opacity="0.40"/>
<circle cx="183.2" cy="111.3" r="0.49" fill="#fff" fill-opacity="0.55"/>
<circle cx="305.6" cy="27.6" r="0.47" fill="#fff" fill-opacity="0.63"/>
<circle cx="204.3" cy="143.8" r="0.56" fill="#fff" fill-opacity="0.26"/>
<circle cx="246.5" cy="154.6" r="0.48" fill="#fff" fill-opacity="0.37"/>
<circle cx="192.6" cy="31.1" r="0.46" fill="#fff" fill-opacity="0.35"/>
<circle cx="289.7" cy="199.6" r="0.44" fill="#fff" fill-opacity="0.55"/>
<circle cx="119.7" cy="129.9" r="0.35" fill="#fff" fill-opacity="0.59"/>
<circle cx="237.6" cy="188.5" r="0.32" fill="#fff" fill-opacity="0.58"/>
<circle cx="3.7" cy="140.2" r="0.45" fill="#fff" fill-opacity="0.27"/>
<circle cx="131.2" cy="220.0" r="0.49" fill="#fff" fill-opacity="0.38"/>
<circle cx="253.3" cy="88.1" r="0.57" fill="#fff" fill-opacity="0.41"/>
<circle cx="24.1" cy="241.0" r="0.32" fill="#fff" fill-opacity="0.35"/>
<circle cx="239.8" cy="28.6" r="0.46" fill="#fff" fill-opacity="0.59"/>
<circle cx="183.5" cy="86.3" r="0.53" fill="#fff" fill-opacity="0.58"/>
<circle cx="180.2" cy="155.5" r="0.40" fill="#fff" fill-opacity="0.41"/>
<circle cx="308.5" cy="241.0" r="0.30" fill="#fff" fill-opacity="0.33"/>
<circle cx="70.1" cy="196.6" r="0.36" fill="#fff" fill-opacity="0.32"/>
<circle cx="238.2" cy="41.9" r="0.59" fill="#fff" fill-opacity="0.43"/>
<circle cx="279.5" cy="203.3" r="0.36" fill="#fff" fill-opacity="0.56"/>
<circle cx="129.0" cy="55.1" r="0.31" fill="#fff" fill-opacity="0.53"/>
<circle cx="174.5" cy="75.2" r="0.55" fill="#fff" fill-opacity="0.33"/>
<circle cx="138.3" cy="21.6" r="0.41" fill="#fff" fill-opacity="0.60"/>
<circle cx="155.5" cy="38.1" r="0.37" fill="#fff" fill-opacity="0.51"/>
<circle cx="86.4" cy="220.0" r="0.32" fill="#fff" fill-opacity="0.60"/>
<circle cx="193.4" cy="203.9" r="0.41" fill="#fff" fill-opacity="0.28"/>
<circle cx="53.5" cy="155.4" r="0.31" fill="#fff" fill-opacity="0.29"/>
<circle cx="243.3" cy="217.8" r="0.56" fill="#fff" fill-opacity="0.58"/>
<circle cx="172.6" cy="217.1" r="0.51" fill="#fff" fill-opacity="0.47"/>
<circle cx="132.4" cy="6.0" r="0.33" fill="#fff" fill-opacity="0.35"/>
<circle cx="143.3" cy="30.0" r="0.59" fill="#fff" fill-opacity="0.48"/>
<circle cx="230.3" cy="221.4" r="0.37" fill="#fff" fill-opacity="0.60"/>
<circle cx="298.0" cy="66.3" r="0.34" fill="#fff" fill-opacity="0.57"/>
<circle cx="276.7" cy="198.0" r="0.42" fill="#fff" fill-opacity="0.49"/>
<circle cx="35.4" cy="58.2" r="0.43" fill="#fff" fill-opacity="0.55"/>
<circle cx="27.6" cy="230.2" r="0.31" fill="#fff" fill-opacity="0.64"/>
<circle cx="73.7" cy="203.1" r="0.55" fill="#fff" fill-opacity="0.63"/>
<circle cx="146.2" cy="173.3" r="0.39" fill="#fff" fill-opacity="0.58"/>
<circle cx="33.9" cy="219.2" r="0.48" fill="#fff" fill-opacity="0.27"/>
<circle cx="292.8" cy="78.4" r="0.32" fill="#fff" fill-opacity="0.35"/>
<circle cx="8.5" cy="69.8" r="0.51" fill="#fff" fill-opacity="0.65"/>
<circle cx="196.4" cy="211.8" r="0.55" fill="#fff" fill-opacity="0.54"/>
<circle cx="119.5" cy="62.4" r="0.35" fill="#fff" fill-opacity="0.47"/>
<circle cx="63.5" cy="183.5" r="0.40" fill="#fff" fill-opacity="0.48"/>
<circle cx="169.9" cy="155.7" r="0.35" fill="#fff" fill-opacity="0.35"/>
<circle cx="214.2" cy="52.9" r="0.50" fill="#fff" fill-opacity="0.64"/>
<circle cx="121.0" cy="238.5" r="0.48" fill="#fff" fill-opacity="0.63"/>
<circle cx="163.7" cy="186.7" r="0.50" fill="#fff" fill-opacity="0.33"/>
<circle cx="161.1" cy="144.1" r="0.44" fill="#fff" fill-opacity="0.51"/>
<circle cx="282.7" cy="197.2" r="0.54" fill="#fff" fill-opacity="0.31"/>
<circle cx="218.7" cy="155.6" r="0.58" fill="#fff" fill-opacity="0.25"/>
<circle cx="53.6" cy="242.0" r="0.41" fill="#fff" fill-opacity="0.53"/>
<circle cx="184.0" cy="98.7" r="0.43" fill="#fff" fill-opacity="0.47"/>
<circle cx="306.4" cy="132.3" r="0.54" fill="#fff" fill-opacity="0.37"/>
<circle cx="221.3" cy="150.0" r="0.52" fill="#fff" fill-opacity="0.60"/>
<circle cx="24.8" cy="239.8" r="0.48" fill="#fff" fill-opacity="0.35"/>
<circle cx="144.4" cy="24.0" r="0.37" fill="#fff" fill-opacity="0.59"/>
<circle cx="221.2" cy="214.8" r="0.35" fill="#fff" fill-opacity="0.29"/>
<circle cx="118.0" cy="122.9" r="0.51" fill="#fff" fill-opacity="0.37"/>
<circle cx="229.3" cy="144.9" r="0.39" fill="#fff" fill-opacity="0.57"/>
<circle cx="22.9" cy="146.9" r="0.36" fill="#fff" fill-opacity="0.27"/>
<circle cx="148.8" cy="128.9" r="0.48" fill="#fff" fill-opacity="0.40"/>
<circle cx="289.1" cy="194.5" r="0.35" fill="#fff" fill-opacity="0.25"/>
<circle cx="298.7" cy="101.9" r="0.33" fill="#fff" fill-opacity="0.32"/>
<circle cx="217.8" cy="43.8" r="0.41" fill="#fff" fill-opacity="0.52"/>
<circle cx="109.6" cy="162.1" r="0.58" fill="#fff" fill-opacity="0.57"/>
<circle cx="195.4" cy="155.2" r="0.39" fill="#fff" fill-opacity="0.51"/>
<circle cx="201.9" cy="145.6" r="0.45" fill="#fff" fill-opacity="0.55"/>
<circle cx="63.6" cy="176.9" r="0.59" fill="#fff" fill-opacity="0.26"/>
<circle cx="78.4" cy="244.5" r="0.32" fill="#fff" fill-opacity="0.58"/>
<circle cx="180.7" cy="17.2" r="0.49" fill="#fff" fill-opacity="0.25"/>
<circle cx="264.1" cy="75.0" r="0.58" fill="#fff" fill-opacity="0.61"/>
<circle cx="42.5" cy="99.9" r="0.35" fill="#fff" fill-opacity="0.55"/>
<circle cx="29.7" cy="18.3" r="0.33" fill="#fff" fill-opacity="0.59"/>
<circle cx="76.8" cy="80.1" r="0.43" fill="#fff" fill-opacity="0.47"/>
<circle cx="128.5" cy="234.9" r="0.40" fill="#fff" fill-opacity="0.44"/>
<circle cx="268.1" cy="60.4" r="0.35" fill="#fff" fill-opacity="0.58"/>
<circle cx="98.3" cy="221.2" r="0.55" fill="#fff" fill-opacity="0.40"/>
<circle cx="103.5" cy="25.1" r="0.56" fill="#fff" fill-opacity="0.43"/>
<circle cx="106.4" cy="43.8" r="0.37" fill="#fff" fill-opacity="0.60"/>
<circle cx="40.6" cy="137.5" r="0.49" fill="#fff" fill-opacity="0.46"/>
<circle cx="156.2" cy="98.6" r="0.36" fill="#fff" fill-opacity="0.58"/>
<circle cx="278.9" cy="139.9" r="0.38" fill="#fff" fill-opacity="0.61"/>
<circle cx="62.7" cy="42.4" r="0.49" fill="#fff" fill-opacity="0.58"/>
<circle cx="178.0" cy="27.2" r="0.59" fill="#fff" fill-opacity="0.31"/>
<circle cx="106.9" cy="245.1" r="0.54" fill="#fff" fill-opacity="0.55"/>
<circle cx="23.6" cy="211.2" r="0.42" fill="#fff" fill-opacity="0.25"/>
<circle cx="245.4" cy="230.7" r="0.31" fill="#fff" fill-opacity="0.43"/>
<circle cx="280.4" cy="82.5" r="0.39" fill="#fff" fill-opacity="0.56"/>
<circle cx="137.2" cy="247.5" r="0.56" fill="#fff" fill-opacity="0.59"/>
<circle cx="219.9" cy="48.3" r="0.51" fill="#fff" fill-opacity="0.48"/>
<circle cx="150.1" cy="140.5" r="0.39" fill="#fff" fill-opacity="0.33"/>
<circle cx="283.7" cy="91.0" r="0.33" fill="#fff" fill-opacity="0.64"/>
<circle cx="158.9" cy="167.6" r="0.40" fill="#fff" fill-opacity="0.31"/>
<circle cx="103.4" cy="206.7" r="0.38" fill="#fff" fill-opacity="0.61"/>
<circle cx="94.7" cy="222.4" r="0.35" fill="#fff" fill-opacity="0.43"/>
<circle cx="40.1" cy="36.8" r="0.46" fill="#fff" fill-opacity="0.40"/>
<circle cx="167.2" cy="53.7" r="0.39" fill="#fff" fill-opacity="0.38"/>
<circle cx="279.4" cy="20.1" r="0.42" fill="#fff" fill-opacity="0.59"/>
<circle cx="177.9" cy="63.4" r="0.60" fill="#fff" fill-opacity="0.29"/>
<circle cx="42.6" cy="4.2" r="0.43" fill="#fff" fill-opacity="0.59"/>
<circle cx="87.8" cy="70.8" r="0.54" fill="#fff" fill-opacity="0.28"/>
<circle cx="5.4" cy="164.5" r="0.33" fill="#fff" fill-opacity="0.46"/>
<circle cx="45.0" cy="149.2" r="0.56" fill="#fff" fill-opacity="0.43"/>
<circle cx="85.0" cy="154.6" r="0.51" fill="#fff" fill-opacity="0.27"/>
<circle cx="74.6" cy="93.4" r="0.45" fill="#fff" fill-opacity="0.36"/>
<circle cx="204.7" cy="63.4" r="0.57" fill="#fff" fill-opacity="0.39"/>
<circle cx="68.9" cy="19.5" r="0.34" fill="#fff" fill-opacity="0.34"/>
<circle cx="274.5" cy="103.3" r="0.43" fill="#fff" fill-opacity="0.63"/>
<circle cx="300.6" cy="189.9" r="0.37" fill="#fff" fill-opacity="0.38"/>
<circle cx="157.1" cy="64.0" r="0.40" fill="#fff" fill-opacity="0.34"/>
<circle cx="75.0" cy="185.9" r="0.48" fill="#fff" fill-opacity="0.43"/>
<circle cx="146.7" cy="152.1" r="0.51" fill="#fff" fill-opacity="0.26"/>
<circle cx="262.3" cy="114.7" r="0.40" fill="#fff" fill-opacity="0.63"/>
<circle cx="235.3" cy="86.9" r="0.31" fill="#fff" fill-opacity="0.42"/>
<circle cx="136.8" cy="93.0" r="0.33" fill="#fff" fill-opacity="0.48"/>
<circle cx="79.2" cy="188.9" r="0.46" fill="#fff" fill-opacity="0.37"/>
<circle cx="256.9" cy="111.0" r="0.33" fill="#fff" fill-opacity="0.36"/>
<circle cx="16.4" cy="106.5" r="0.57" fill="#fff" fill-opacity="0.63"/>
<circle cx="202.8" cy="38.3" r="0.37" fill="#fff" fill-opacity="0.33"/>
<circle cx="115.9" cy="158.3" r="0.31" fill="#fff" fill-opacity="0.45"/>
<circle cx="132.4" cy="164.0" r="0.55" fill="#fff" fill-opacity="0.41"/>
<circle cx="187.5" cy="67.4" r="0.44" fill="#fff" fill-opacity="0.50"/>
<circle cx="16.3" cy="127.5" r="0.45" fill="#fff" fill-opacity="0.32"/>
<circle cx="77.4" cy="204.4" r="0.40" fill="#fff" fill-opacity="0.33"/>
<circle cx="88.5" cy="129.3" r="0.42" fill="#fff" fill-opacity="0.39"/>
<circle cx="100.3" cy="53.7" r="0.45" fill="#fff" fill-opacity="0.49"/>
<circle cx="27.7" cy="146.5" r="0.39" fill="#fff" fill-opacity="0.64"/>
<circle cx="291.7" cy="32.5" r="0.51" fill="#fff" fill-opacity="0.39"/>
<circle cx="34.6" cy="217.2" r="0.57" fill="#fff" fill-opacity="0.56"/>
<circle cx="198.0" cy="242.5" r="0.47" fill="#fff" fill-opacity="0.52"/>
<circle cx="203.0" cy="213.1" r="0.56" fill="#fff" fill-opacity="0.37"/>
<circle cx="64.6" cy="135.4" r="0.48" fill="#fff" fill-opacity="0.39"/>
<circle cx="267.7" cy="210.5" r="0.51" fill="#fff" fill-opacity="0.46"/>
<circle cx="216.2" cy="48.4" r="0.54" fill="#fff" fill-opacity="0.30"/>
<circle cx="281.0" cy="155.1" r="0.38" fill="#fff" fill-opacity="0.33"/>
<circle cx="186.5" cy="115.0" r="0.51" fill="#fff" fill-opacity="0.29"/>
<circle cx="272.2" cy="106.4" r="0.43" fill="#fff" fill-opacity="0.55"/>
<circle cx="188.6" cy="110.3" r="0.39" fill="#fff" fill-opacity="0.44"/>
<circle cx="9.7" cy="63.5" r="0.55" fill="#fff" fill-opacity="0.30"/>
<circle cx="26.7" cy="210.3" r="0.41" fill="#fff" fill-opacity="0.46"/>
<circle cx="182.7" cy="178.0" r="0.40" fill="#fff" fill-opacity="0.56"/>
<circle cx="0.2" cy="210.2" r="0.39" fill="#fff" fill-opacity="0.50"/>
<circle cx="94.4" cy="185.8" r="0.41" fill="#fff" fill-opacity="0.49"/>
<circle cx="99.8" cy="206.5" r="0.53" fill="#fff" fill-opacity="0.33"/>
<circle cx="235.2" cy="233.7" r="0.37" fill="#fff" fill-opacity="0.33"/>
<circle cx="289.6" cy="238.8" r="0.34" fill="#fff" fill-opacity="0.56"/>
<circle cx="289.2" cy="65.3" r="0.53" fill="#fff" fill-opacity="0.37"/>
<circle cx="244.8" cy="126.1" r="0.44" fill="#fff" fill-opacity="0.30"/>
<circle cx="202.9" cy="173.7" r="0.39" fill="#fff" fill-opacity="0.27"/>
<circle cx="28.2" cy="64.3" r="0.60" fill="#fff" fill-opacity="0.55"/>
<circle cx="278.7" cy="185.9" r="0.34" fill="#fff" fill-opacity="0.40"/>
<circle cx="295.4" cy="211.2" r="0.60" fill="#fff" fill-opacity="0.58"/>
<circle cx="221.1" cy="189.3" r="0.57" fill="#fff" fill-opacity="0.42"/>
<circle cx="10.4" cy="77.5" r="0.30" fill="#fff" fill-opacity="0.36"/>
<circle cx="183.5" cy="68.3" r="0.37" fill="#fff" fill-opacity="0.29"/>
<circle cx="111.4" cy="128.0" r="0.48" fill="#fff" fill-opacity="0.63"/>
<circle cx="21.9" cy="63.3" r="0.32" fill="#fff" fill-opacity="0.62"/>
<circle cx="196.5" cy="162.8" r="0.54" fill="#fff" fill-opacity="0.25"/>
<circle cx="280.9" cy="82.4" r="0.49" fill="#fff" fill-opacity="0.41"/>
<circle cx="231.9" cy="74.9" r="0.38" fill="#fff" fill-opacity="0.35"/>
<circle cx="225.4" cy="113.1" r="0.35" fill="#fff" fill-opacity="0.39"/>
<circle cx="176.6" cy="92.4" r="0.48" fill="#fff" fill-opacity="0.59"/>
<circle cx="199.1" cy="198.7" r="0.39" fill="#fff" fill-opacity="0.60"/>
<circle cx="292.6" cy="131.4" r="0.31" fill="#fff" fill-opacity="0.28"/>
<circle cx="235.5" cy="215.1" r="0.52" fill="#fff" fill-opacity="0.45"/>
<circle cx="168.0" cy="28.7" r="0.48" fill="#fff" fill-opacity="0.65"/>
<circle cx="63.9" cy="151.4" r="0.56" fill="#fff" fill-opacity="0.51"/>
<circle cx="109.0" cy="59.0" r="0.52" fill="#fff" fill-opacity="0.62"/>
<circle cx="273.0" cy="99.4" r="0.52" fill="#fff" fill-opacity="0.57"/>
<circle cx="116.7" cy="187.4" r="0.42" fill="#fff" fill-opacity="0.33"/>
<circle cx="0.1" cy="179.7" r="0.53" fill="#fff" fill-opacity="0.27"/>
<circle cx="19.3" cy="79.0" r="0.36" fill="#fff" fill-opacity="0.54"/>
<circle cx="59.1" cy="145.1" r="0.47" fill="#fff" fill-opacity="0.39"/>
<circle cx="265.8" cy="108.5" r="0.45" fill="#fff" fill-opacity="0.52"/>
<circle cx="125.8" cy="46.1" r="0.59" fill="#fff" fill-opacity="0.55"/>
<circle cx="169.6" cy="123.0" r="0.49" fill="#fff" fill-opacity="0.37"/>
<circle cx="22.6" cy="135.2" r="0.57" fill="#fff" fill-opacity="0.29"/>
<circle cx="305.1" cy="92.7" r="0.60" fill="#fff" fill-opacity="0.56"/>
<circle cx="84.7" cy="52.8" r="0.57" fill="#fff" fill-opacity="0.64"/>
<circle cx="250.4" cy="144.9" r="0.46" fill="#fff" fill-opacity="0.56"/>
<circle cx="255.8" cy="206.9" r="0.39" fill="#fff" fill-opacity="0.58"/>
<circle cx="296.6" cy="142.5" r="0.30" fill="#fff" fill-opacity="0.33"/>
<circle cx="202.5" cy="105.4" r="0.58" fill="#fff" fill-opacity="0.51"/>
<circle cx="217.5" cy="37.6" r="0.46" fill="#fff" fill-opacity="0.53"/>
<circle cx="285.1" cy="223.6" r="0.38" fill="#fff" fill-opacity="0.45"/>
<circle cx="304.4" cy="22.3" r="0.32" fill="#fff" fill-opacity="0.32"/>
<circle cx="227.5" cy="80.6" r="0.51" fill="#fff" fill-opacity="0.58"/>
<circle cx="251.4" cy="9.9" r="0.51" fill="#fff" fill-opacity="0.57"/>
<circle cx="218.5" cy="214.3" r="0.55" fill="#fff" fill-opacity="0.50"/>
<circle cx="269.3" cy="135.0" r="0.33" fill="#fff" fill-opacity="0.36"/>
<circle cx="290.0" cy="83.4" r="0.44" fill="#fff" fill-opacity="0.60"/>
<circle cx="213.2" cy="196.1" r="0.44" fill="#fff" fill-opacity="0.45"/>
<circle cx="24.0" cy="49.5" r="0.35" fill="#fff" fill-opacity="0.46"/>
<circle cx="163.7" cy="17.9" r="0.49" fill="#fff" fill-opacity="0.29"/>
<circle cx="120.0" cy="6.6" r="0.44" fill="#fff" fill-opacity="0.31"/>
<circle cx="292.5" cy="89.8" r="0.55" fill="#fff" fill-opacity="0.43"/>
<circle cx="101.7" cy="208.3" r="0.38" fill="#fff" fill-opacity="0.46"/>
<circle cx="198.8" cy="246.5" r="0.51" fill="#fff" fill-opacity="0.27"/>
<circle cx="141.8" cy="236.1" r="0.56" fill="#fff" fill-opacity="0.40"/>
<circle cx="39.9" cy="66.8" r="0.53" fill="#fff" fill-opacity="0.32"/>
<circle cx="277.4" cy="65.9" r="0.51" fill="#fff" fill-opacity="0.53"/>
<circle cx="75.3" cy="128.6" r="0.49" fill="#fff" fill-opacity="0.36"/>
<circle cx="165.5" cy="155.6" r="0.59" fill="#fff" fill-opacity="0.36"/>
<circle cx="54.1" cy="125.8" r="0.48" fill="#fff" fill-opacity="0.44"/>
<circle cx="283.9" cy="50.0" r="0.45" fill="#fff" fill-opacity="0.44"/>
<circle cx="61.6" cy="112.8" r="0.44" fill="#fff" fill-opacity="0.40"/>
<circle cx="240.5" cy="244.6" r="0.59" fill="#fff" fill-opacity="0.34"/>
<circle cx="115.7" cy="235.5" r="0.32" fill="#fff" fill-opacity="0.29"/>
<circle cx="20.2" cy="238.1" r="0.45" fill="#fff" fill-opacity="0.42"/>
<circle cx="30.6" cy="219.3" r="0.60" fill="#fff" fill-opacity="0.53"/>
<circle cx="283.7" cy="140.9" r="0.39" fill="#fff" fill-opacity="0.32"/>
<circle cx="94.5" cy="37.2" r="0.41" fill="#fff" fill-opacity="0.27"/>
<circle cx="12.7" cy="222.5" r="0.55" fill="#fff" fill-opacity="0.58"/>
<circle cx="109.4" cy="111.7" r="0.46" fill="#fff" fill-opacity="0.56"/>
<circle cx="94.4" cy="127.1" r="0.46" fill="#fff" fill-opacity="0.59"/>
<circle cx="108.6" cy="0.8" r="0.42" fill="#fff" fill-opacity="0.60"/>
<circle cx="54.4" cy="155.3" r="0.34" fill="#fff" fill-opacity="0.36"/>
<circle cx="194.3" cy="25.5" r="0.44" fill="#fff" fill-opacity="0.48"/>
<circle cx="120.7" cy="187.5" r="0.55" fill="#fff" fill-opacity="0.36"/>
<circle cx="236.6" cy="187.4" r="0.48" fill="#fff" fill-opacity="0.49"/>
<circle cx="176.6" cy="183.5" r="0.51" fill="#fff" fill-opacity="0.36"/>
<circle cx="202.2" cy="176.3" r="0.44" fill="#fff" fill-opacity="0.61"/>
<circle cx="97.8" cy="136.8" r="0.47" fill="#fff" fill-opacity="0.49"/>
<circle cx="57.2" cy="165.7" r="0.33" fill="#fff" fill-opacity="0.46"/>
<circle cx="140.3" cy="172.4" r="0.56" fill="#fff" fill-opacity="0.64"/>
<circle cx="71.4" cy="225.7" r="0.44" fill="#fff" fill-opacity="0.45"/>
<circle cx="12.7" cy="213.2" r="0.37" fill="#fff" fill-opacity="0.36"/>
<circle cx="94.9" cy="58.0" r="0.39" fill="#fff" fill-opacity="0.37"/>
<circle cx="165.7" cy="89.3" r="0.53" fill="#fff" fill-opacity="0.62"/>
<circle cx="289.8" cy="93.1" r="0.50" fill="#fff" fill-opacity="0.54"/>
<circle cx="225.4" cy="99.0" r="0.36" fill="#fff" fill-opacity="0.55"/>
<circle cx="204.1" cy="87.1" r="0.50" fill="#fff" fill-opacity="0.28"/>
<circle cx="243.7" cy="222.8" r="0.59" fill="#fff" fill-opacity="0.30"/>
<circle cx="215.0" cy="193.9" r="0.34" fill="#fff" fill-opacity="0.49"/>
<circle cx="58.9" cy="54.1" r="0.31" fill="#fff" fill-opacity="0.36"/>
<circle cx="264.2" cy="145.5" r="0.54" fill="#fff" fill-opacity="0.64"/>
<circle cx="47.1" cy="210.1" r="0.57" fill="#fff" fill-opacity="0.51"/>
<circle cx="103.8" cy="43.5" r="0.43" fill="#fff" fill-opacity="0.40"/>
<circle cx="81.0" cy="167.2" r="0.49" fill="#fff" fill-opacity="0.35"/>
</g>
<rect x="257" y="0" width="54" height="56" fill="#fff"/>
<defs>
<linearGradient id="ipR" gradientUnits="userSpaceOnUse" x1="266.1" y1="10.8" x2="272.1" y2="44.1"><stop offset="0" stop-color="#f00"/><stop offset="0.6" stop-color="#f00"/><stop offset="1" stop-color="#000"/></linearGradient>
<linearGradient id="ipG" gradientUnits="userSpaceOnUse" x1="266.1" y1="45.2" x2="283.3" y2="27.9"><stop offset="0" stop-color="#0f0"/><stop offset="0.55" stop-color="#0f0"/><stop offset="1" stop-color="#000"/></linearGradient>
<linearGradient id="ipB" gradientUnits="userSpaceOnUse" x1="295.4" y1="39.9" x2="266.1" y2="39.9"><stop offset="0" stop-color="#00f"/><stop offset="0.6" stop-color="#00f"/><stop offset="1" stop-color="#000"/></linearGradient>
<clipPath id="ipfc"><path d="M266.1,10.8 L295.4,39.9 Q281,44 266.1,45.2 Z"/></clipPath>
</defs>
<g clip-path="url(#ipfc)" style="isolation:isolate"><rect x="265" y="10" width="32" height="37" fill="#000"/><rect x="265" y="10" width="32" height="37" fill="url(#ipR)" style="mix-blend-mode:screen"/><rect x="265" y="10" width="32" height="37" fill="url(#ipG)" style="mix-blend-mode:screen"/><rect x="265" y="10" width="32" height="37" fill="url(#ipB)" style="mix-blend-mode:screen"/></g>
<path d="M266.1,10.8 L295.4,39.9 Q281,44 266.1,45.2 Z" fill="none" stroke="#222" stroke-width="0.8"/>
<text x="258" y="7.4" style="font-family:'Liberation Sans',sans-serif;font-size:8.6px;fill:#333">001</text>
<text x="258" y="55.6" style="font-family:'Liberation Sans',sans-serif;font-size:8.6px;fill:#333">101</text>
<text x="296" y="50.6" style="font-family:'Liberation Sans',sans-serif;font-size:8.6px;fill:#333">111</text>
<text x="7.8" y="23.6" style="font-family:'Liberation Sans',sans-serif;font-weight:bold;font-size:26px;fill:#000">a</text>
<circle cx="13.2" cy="233" r="8.6" fill="none" stroke="#fff" stroke-width="2.4"/><path d="M7.4,227.2 L19.0,238.8 M19.0,227.2 L7.4,238.8" stroke="#fff" stroke-width="2.2"/><text x="27.4" y="239.9" style="font-family:'Liberation Sans',sans-serif;font-weight:bold;font-size:21px;fill:#fff">SD</text>
<rect x="237" y="217" width="64" height="3" fill="#fff"/>
<text x="269.1" y="239.4" text-anchor="middle" style="font-family:'Liberation Sans',sans-serif;font-weight:bold;font-size:18.6px;fill:#fff">200 µm</text>
<g clip-path="url(#cb)">
<rect x="320" y="1" width="309" height="247" fill="#0b3562"/>
<polygon points="436.9,23.8 441.5,22.6 448.3,22.6 447.6,28.6 449.4,37.0 453.1,41.8 461.5,44.3 466.3,41.8 469.3,37.0 468.1,32.2 463.8,26.3 461.5,22.3 466.3,19.0 471.8,14.2 472.2,-1.0 477.7,-1.0 477.7,91.0 468.8,92.1 459.7,101.2 449.4,98.9 439.2,110.3 435.8,114.9 430.1,110.3 423.3,108.0 419.8,101.2 421.0,96.7 425.5,92.1 432.4,87.5 432.4,76.2 434.6,69.3 439.2,63.6 436.9,60.2 416.4,55.7 414.2,53.4 416.4,46.5 423.3,37.4 430.1,30.6" fill="#0b3562" stroke="#0b3562" stroke-width="0.6"/>
<polygon points="378.9,43.1 386.8,40.9 393.7,45.4 402.8,48.8 409.6,52.2 414.2,53.4 416.4,55.7 436.9,60.2 439.2,63.6 434.6,69.3 432.4,76.2 432.4,87.5 425.5,92.1 421.0,96.7 419.8,101.2 423.3,108.0 430.1,110.3 435.8,114.9 434.6,127.9 373.2,127.9 374.3,119.4 373.2,108.0 364.0,104.6 357.2,103.5 354.9,101.2 358.4,92.1 356.1,83.0 356.1,81.8 357.2,76.2 357.2,67.0 361.8,57.9 365.2,50.0 373.2,50.0" fill="#1f8090" stroke="#1f8090" stroke-width="0.6"/>
<polygon points="316.5,-1.0 342.4,-1.0 341.3,7.8 340.1,23.8 332.2,30.6 327.6,35.2 316.5,35.2" fill="#0f4674" stroke="#0f4674" stroke-width="0.6"/>
<polygon points="342.4,-1.0 399.3,-1.0 395.9,10.1 397.1,22.0 373.2,22.0 370.4,26.1 370.9,37.4 378.9,43.1 373.2,50.0 365.2,50.0 361.8,57.9 357.2,67.0 357.2,76.2 356.1,81.8 347.0,85.3 341.3,87.5 334.4,85.3 331.0,78.4 328.7,71.6 323.1,67.0 316.5,67.0 316.5,35.2 327.6,35.2 332.2,30.6 340.1,23.8 341.3,7.8" fill="#0f4674" stroke="#0f4674" stroke-width="0.6"/>
<polygon points="373.2,22.0 397.1,22.0 405.0,23.8 408.5,30.6 411.9,36.3 410.7,44.3 409.6,52.2 402.8,48.8 393.7,45.4 386.8,40.9 378.9,43.1 370.9,37.4 370.4,26.1" fill="#1d7c94" stroke="#1d7c94" stroke-width="0.6"/>
<polygon points="399.3,-1.0 422.1,-1.0 425.5,5.6 430.1,10.1 434.6,19.2 436.9,23.8 430.1,30.6 423.3,37.4 416.4,46.5 414.2,53.4 409.6,52.2 410.7,44.3 411.9,36.3 408.5,30.6 405.0,23.8 397.1,22.0 395.9,10.1" fill="#0c3a66" stroke="#0c3a66" stroke-width="0.6"/>
<polygon points="422.1,-1.0 459.7,-1.0 460.8,10.1 455.1,19.2 448.3,22.6 441.5,22.6 436.9,23.8 434.6,19.2 430.1,10.1 425.5,5.6" fill="#0c3864" stroke="#0c3864" stroke-width="0.6"/>
<polygon points="459.7,-1.0 472.2,-1.0 471.8,14.2 466.3,19.0 461.5,22.3 463.8,26.3 468.1,32.2 469.3,37.0 466.3,41.8 461.5,44.3 453.1,41.8 449.4,37.0 447.6,28.6 448.3,23.8 458.6,21.5 459.0,13.1" fill="#cbb998" stroke="#cbb998" stroke-width="0.6"/>
<polygon points="409.6,76.2 416.4,72.7 418.7,78.4 416.4,87.5 418.7,96.7 414.2,97.8 409.6,89.8 408.5,80.7" fill="#072a4e" stroke="#072a4e" stroke-width="0.6"/>
<polygon points="449.4,98.9 459.7,101.2 468.8,92.1 477.7,91.0 477.7,126.9 467.7,126.9 466.5,119.4 459.7,110.3 452.9,108.0" fill="#08284e" stroke="#08284e" stroke-width="0.6"/>
<polygon points="439.2,110.3 452.9,108.0 459.7,110.3 466.5,119.4 467.7,127.9 434.6,127.9 435.8,114.9" fill="#2e9c98" stroke="#2e9c98" stroke-width="0.6"/>
<polygon points="316.5,67.0 323.1,67.0 328.7,71.6 331.0,78.4 334.4,85.3 332.2,87.5 325.3,85.7 316.5,86.4" fill="#1a6e8e" stroke="#1a6e8e" stroke-width="0.6"/>
<polygon points="316.5,86.4 325.3,85.7 332.2,87.5 341.3,88.7 347.0,86.4 356.1,83.0 358.4,92.1 354.9,101.2 352.7,108.0 350.4,114.9 341.3,112.6 329.9,110.3 323.1,108.0 316.5,108.0" fill="#1a8090" stroke="#1a8090" stroke-width="0.6"/>
<polygon points="316.5,108.0 323.1,108.0 329.9,110.3 341.3,112.6 350.4,114.9 352.7,108.0 357.2,103.5 364.0,104.6 373.2,108.0 374.3,119.4 373.2,127.9 316.5,127.9" fill="#12527e" stroke="#12527e" stroke-width="0.6"/>
<polygon points="471.5,-1.0 513.4,-1.0 508.8,7.8 507.7,18.1 496.3,11.2 489.4,12.4 482.6,18.1 471.5,14.7" fill="#0b3562" stroke="#0b3562" stroke-width="0.6"/>
<polygon points="471.5,14.7 482.6,18.1 489.4,12.4 496.3,11.2 507.7,18.1 505.4,21.5 503.1,22.6 502.0,30.6 505.4,35.2 503.1,46.5 500.8,53.4 496.3,62.5 489.4,69.3 482.6,76.2 478.1,85.3 471.5,89.8" fill="#0b3562" stroke="#0b3562" stroke-width="0.6"/>
<polygon points="528.2,10.1 537.3,10.1 548.7,14.7 557.8,21.5 562.3,23.8 561.2,32.9 560.0,42.0 565.7,46.5 568.0,55.7 566.9,64.8 565.7,71.6 569.2,78.4 560.0,85.3 553.2,83.0 548.7,73.9 541.8,71.6 536.1,73.9 539.5,80.7 537.3,87.5 525.9,92.1 521.3,101.2 516.8,105.8 505.4,105.8 500.8,110.3 498.6,127.9 471.5,127.9 471.5,89.8 478.1,85.3 482.6,76.2 489.4,69.3 496.3,62.5 500.8,53.4 503.1,46.5 505.4,35.2 507.7,35.2 516.8,37.4 523.6,43.1 535.0,43.1 537.3,37.4 539.5,28.3 532.7,23.8 528.2,19.2 530.4,14.7" fill="#0a2f5a" stroke="#0a2f5a" stroke-width="0.6"/>
<polygon points="507.7,18.1 508.8,7.8 521.3,10.1 528.2,10.1 530.4,14.7 528.2,19.2 532.7,23.8 539.5,28.3 537.3,37.4 535.0,43.1 523.6,43.1 516.8,37.4 507.7,35.2 503.1,28.3 503.1,22.6 505.4,21.5" fill="#6aaa9e" stroke="#6aaa9e" stroke-width="0.6"/>
<polygon points="538.4,-1.0 576.0,-1.0 576.0,21.5 573.7,23.8 562.3,23.8 557.8,21.5 548.7,14.7 537.3,10.1 528.2,10.1 521.3,10.1 508.8,7.8 513.4,-1.0" fill="#0b3360" stroke="#0b3360" stroke-width="0.6"/>
<polygon points="536.1,73.9 546.4,71.6 550.9,76.2 553.2,83.0 548.7,87.5 548.7,96.7 546.4,101.2 539.5,110.3 537.3,127.9 498.6,127.9 500.8,110.3 505.4,105.8 516.8,105.8 521.3,101.2 525.9,92.1 537.3,87.5 539.5,80.7" fill="#1b7892" stroke="#1b7892" stroke-width="0.6"/>
<polygon points="537.3,127.9 539.5,110.3 546.4,101.2 548.7,96.7 548.7,87.5 553.2,85.3 560.0,85.3 569.2,78.4 573.7,77.3 580.5,78.4 587.4,83.0 594.2,87.5 603.3,96.7 610.1,103.5 614.7,110.3 619.3,127.9" fill="#0a2e58" stroke="#0a2e58" stroke-width="0.6"/>
<polygon points="560.0,42.0 561.2,32.9 562.3,23.8 573.7,23.8 576.0,21.5 576.0,57.9 610.1,57.9 612.4,69.3 605.6,78.4 594.2,87.5 587.4,83.0 580.5,78.4 573.7,77.3 569.2,78.4 565.7,71.6 566.9,64.8 568.0,55.7 565.7,46.5" fill="#0a2e58" stroke="#0a2e58" stroke-width="0.6"/>
<polygon points="610.1,57.9 632.7,57.9 632.7,127.9 619.3,127.9 614.7,110.3 610.1,103.5 603.3,96.7 594.2,87.5 605.6,78.4 612.4,69.3" fill="#0a2e58" stroke="#0a2e58" stroke-width="0.6"/>
<polygon points="316.5,121.8 373.2,121.8 373.2,131.8 386.8,138.7 389.1,147.8 393.7,156.9 398.2,163.7 393.7,166.0 382.3,163.7 380.0,166.0 377.7,175.1 373.2,184.2 375.4,191.0 370.9,200.2 368.6,211.5 362.9,216.1 359.5,211.5 352.7,207.0 341.3,202.4 334.4,195.6 327.6,189.9 316.5,191.0" fill="#135a84" stroke="#135a84" stroke-width="0.6"/>
<polygon points="370.9,123.0 434.6,123.0 432.4,134.1 427.8,143.2 414.2,147.8 405.0,152.3 398.2,163.7 393.7,156.9 389.1,147.8 386.8,138.7 373.2,131.8" fill="#1a7898" stroke="#1a7898" stroke-width="0.6"/>
<polygon points="459.7,123.0 477.7,123.0 477.7,251.9 436.9,251.9 432.4,238.9 427.8,232.0 423.3,225.2 422.1,216.1 421.0,207.0 425.5,213.8 432.4,202.4 434.6,193.3 441.5,184.2 443.8,177.4 446.0,166.0 448.3,156.9 450.6,150.1 457.4,136.4" fill="#17608a" stroke="#17608a" stroke-width="0.6"/>
<polygon points="434.6,122.5 459.7,122.5 457.4,136.4 450.6,150.1 448.3,156.9 446.0,166.0 443.8,177.4 441.5,184.2 434.6,193.3 432.4,202.4 425.5,213.8 421.0,211.5 418.7,200.2 423.3,191.0 425.5,181.9 423.3,177.4 416.4,172.8 407.3,170.5 398.2,168.3 395.9,163.7 402.8,152.3 414.2,147.8 427.8,143.2 432.4,134.1" fill="#1e9e9c" stroke="#1e9e9c" stroke-width="0.6"/>
<polygon points="382.3,163.7 393.7,166.0 398.2,170.5 407.3,170.5 416.4,172.8 423.3,177.4 425.5,184.2 418.7,193.3 414.2,202.4 409.6,211.5 405.0,220.7 395.9,225.2 382.3,222.9 373.2,218.4 368.6,211.5 370.9,200.2 375.4,191.0 373.2,184.2 377.7,175.1 380.0,166.0" fill="#1a7494" stroke="#1a7494" stroke-width="0.6"/>
<polygon points="316.5,191.0 327.6,189.9 334.4,195.6 341.3,202.4 352.7,207.0 359.5,211.5 362.9,216.1 361.8,227.5 359.5,238.9 358.4,251.9 316.5,251.9" fill="#13588a" stroke="#13588a" stroke-width="0.6"/>
<polygon points="316.5,215.0 325.3,216.1 327.6,220.7 326.5,227.5 316.5,228.6" fill="#c8b08c" stroke="#c8b08c" stroke-width="0.6"/>
<polygon points="362.9,216.1 373.2,218.4 382.3,222.9 395.9,225.2 405.0,220.7 409.6,211.5 414.2,202.4 421.0,207.0 422.1,216.1 423.3,225.2 427.8,232.0 432.4,238.9 436.9,251.9 358.4,251.9 359.5,238.9 361.8,227.5" fill="#092a52" stroke="#092a52" stroke-width="0.6"/>
<polygon points="458.6,123.0 477.7,123.0 477.7,167.1 455.1,167.1 447.2,165.5 448.3,156.9 450.6,150.1 457.4,136.4" fill="#17628c" stroke="#17628c" stroke-width="0.6"/>
<polygon points="436.9,191.0 448.3,186.5 455.1,186.5 464.3,191.0 468.8,200.2 471.1,207.0 464.3,209.3 455.1,211.5 443.8,211.5 441.5,202.4 435.8,197.9" fill="#b4c0a0" stroke="#b4c0a0" stroke-width="0.6"/>
<polygon points="423.3,225.2 432.4,225.2 446.0,227.5 459.7,220.7 468.8,216.1 477.7,216.1 477.7,251.9 436.9,251.9 432.4,238.9 427.8,232.0" fill="#1a6890" stroke="#1a6890" stroke-width="0.6"/>
<polygon points="476.7,128.2 635.0,128.2 635.0,254.6 476.7,254.6" fill="#092b54" stroke="#092b54" stroke-width="0.6"/>
<polygon points="471.5,121.8 480.3,121.8 480.3,131.8 480.3,138.7 475.8,145.5 478.1,147.8 487.2,150.1 496.3,147.8 503.1,150.1 505.4,156.9 512.2,161.4 519.0,162.6 529.3,161.4 530.4,168.3 541.8,170.5 546.4,177.4 546.4,184.2 548.7,191.0 546.4,200.2 553.2,204.7 557.8,209.3 560.0,213.8 548.7,211.5 537.3,209.3 528.2,204.7 519.0,203.6 507.7,203.6 500.8,204.7 487.2,207.0 480.3,216.1 471.5,218.4" fill="#155a88" stroke="#155a88" stroke-width="0.6"/>
<polygon points="494.0,121.8 538.4,121.8 531.6,134.1 528.2,137.5 519.0,139.8 507.7,138.7 500.8,134.1 494.0,129.6" fill="#1a6a8c" stroke="#1a6a8c" stroke-width="0.6"/>
<polygon points="480.3,122.3 487.2,122.3 489.4,129.6 498.6,134.1 503.1,138.7 514.5,140.9 523.6,143.2 529.3,147.8 529.3,161.4 519.0,162.6 512.2,161.4 505.4,156.9 503.1,150.1 496.3,147.8 487.2,150.1 478.1,147.8 475.8,145.5 480.3,138.7 480.3,131.8" fill="#2aa29c" stroke="#2aa29c" stroke-width="0.6"/>
<polygon points="509.9,179.7 519.0,177.4 525.9,172.8 532.7,174.0 535.0,181.9 539.5,191.0 535.0,197.9 525.9,197.9 521.3,193.3 514.5,193.3 511.1,188.8" fill="#aec6a4" stroke="#aec6a4" stroke-width="0.6"/>
<polygon points="548.7,191.0 553.2,188.8 560.0,184.2 563.5,186.5 562.3,191.0 555.5,195.6 553.2,200.2 546.4,200.2" fill="#1a6a8c" stroke="#1a6a8c" stroke-width="0.6"/>
<polygon points="471.5,222.9 480.3,229.8 487.2,238.9 505.4,238.9 507.7,238.9 516.8,241.1 528.2,238.9 537.3,243.4 546.4,238.9 548.7,227.5 548.7,211.5 560.0,213.8 573.7,218.4 580.5,225.2 587.4,226.3 594.2,220.7 610.1,220.7 635.0,216.1 635.0,251.9 471.5,251.9" fill="#0a2c56" stroke="#0a2c56" stroke-width="0.6"/>
<polygon points="480.3,216.1 487.2,207.0 500.8,204.7 507.7,203.6 509.9,216.1 507.7,227.5 505.4,238.9 487.2,238.9 480.3,229.8 471.5,222.9 471.5,218.4" fill="#1a6890" stroke="#1a6890" stroke-width="0.6"/>
<polygon points="507.7,203.6 519.0,203.6 528.2,204.7 528.2,216.1 530.4,227.5 528.2,238.9 516.8,241.1 507.7,238.9 507.7,227.5 509.9,216.1" fill="#082a50" stroke="#082a50" stroke-width="0.6"/>
<polygon points="528.2,204.7 537.3,209.3 548.7,211.5 548.7,227.5 546.4,238.9 537.3,243.4 528.2,238.9 530.4,227.5 528.2,216.1" fill="#082a50" stroke="#082a50" stroke-width="0.6"/>
<polygon points="587.4,200.2 589.6,193.3 596.5,184.2 610.1,181.9 612.4,193.3 610.1,204.7 605.6,211.5 594.2,213.8 589.6,209.3" fill="#2a7c98" stroke="#2a7c98" stroke-width="0.6"/>
<polygon points="610.1,181.9 635.0,181.9 635.0,211.5 614.7,211.5 610.1,204.7 612.4,193.3" fill="#0a2e58" stroke="#0a2e58" stroke-width="0.6"/>
<polygon points="614.7,211.5 635.0,211.5 635.0,232.0 619.3,232.0 614.7,220.7" fill="#0b3460" stroke="#0b3460" stroke-width="0.6"/>
<polygon points="619.3,232.0 635.0,232.0 635.0,251.9 619.3,251.9" fill="#2a9a98" stroke="#2a9a98" stroke-width="0.6"/>
<polygon points="496.3,91.0 500.8,88.7 505.4,89.8 506.5,94.4 503.1,96.7 497.4,95.5" fill="#2a8a90" stroke="#2a8a90" stroke-width="0.6"/>
<polygon points="357.5,88.0 407.5,88.0 410.5,98.0 418.5,98.0 419.8,101.2 423.3,108.0 430.1,110.3 435.8,114.9 435.5,128.0 373.5,128.0 373.2,108.0 364.0,104.6 357.2,103.5 354.9,101.2 358.4,92.1" fill="#1a7890" stroke="#1a7890" stroke-width="0.6"/>
<polygon points="361.0,50.0 363.8,54.0 358.4,63.7 357.0,69.0 359.7,74.7 361.0,80.0 354.2,82.9 348.8,85.6 342.0,87.0 335.0,84.2 332.3,77.4 328.2,67.8 324.1,65.0 316.5,65.0 316.5,51.0 338.5,49.0" fill="#0b3864" stroke="#0b3864" stroke-width="0.6"/>
<polygon points="513.9,-1.0 538.9,-1.0 537.8,9.1 528.7,9.1 521.8,9.1 515.0,6.8 503.5,9.0" fill="#8ab4a2" stroke="#8ab4a2" stroke-width="0.6"/>
<polygon points="529.5,211.0 543.5,211.0 546.5,223.0 530.5,227.0" fill="#1c6a8c" stroke="#1c6a8c" stroke-width="0.6"/>
<polygon points="369.0,-1.0 400.8,-1.0 399.7,9.1 388.3,11.4 379.2,18.2 374.7,22.8 370.1,16.0" fill="#1d6e8c" stroke="#1d6e8c" stroke-width="0.6"/>
<polygon points="421.3,11.4 429.3,9.1 433.9,13.7 436.1,18.2 443.0,22.8 447.5,21.6 448.7,25.0 438.4,26.2 431.6,22.8 424.8,20.5 420.2,16.0" fill="#1a7090" stroke="#1a7090" stroke-width="0.6"/>
<polygon points="554.8,-1.0 583.3,-1.0 581.0,6.8 574.2,10.2 560.5,11.4 556.0,6.8" fill="#2a9a98" stroke="#2a9a98" stroke-width="0.6"/>
<polygon points="615.2,38.7 630.5,36.4 630.5,70.6 615.2,68.3 610.6,59.2 608.4,50.1 612.9,45.5" fill="#2a9a96" stroke="#2a9a96" stroke-width="0.6"/>
<polygon points="450.4,99.7 459.5,89.1 480.7,86.1 497.4,89.1 503.5,99.7 503.5,118.0 500.5,125.5 491.4,128.6 483.8,125.5 477.7,121.0 467.1,119.5 465.5,111.9 459.5,105.8 450.4,104.3" fill="#08284e" stroke="#08284e" stroke-width="0.6"/>
<polygon points="611.5,-1.0 630.5,-1.0 630.5,11.0 618.5,13.0 612.5,7.0" fill="#1a6a8a" stroke="#1a6a8a" stroke-width="0.6"/>
<polygon points="503.1,138.7 514.5,141.0 523.5,143.2 529.3,147.8 529.3,161.4 519.0,162.6 512.2,161.4 505.4,156.9 503.1,150.0 499.5,141.0" fill="#b0c2a2" stroke="#b0c2a2" stroke-width="0.6"/>
<polygon points="607.5,123.0 632.5,123.0 632.5,147.0 610.5,147.0" fill="#1a6088" stroke="#1a6088" stroke-width="0.6"/>
<polygon points="373.5,58.0 377.5,57.5 378.5,62.0 374.5,63.5" fill="#d8c4a0" stroke="#d8c4a0" stroke-width="0.6"/>
<polygon points="496.3,91.0 500.8,88.7 505.4,89.8 506.5,94.4 503.1,96.6 497.4,95.5" fill="#2a8a90" stroke="#2a8a90" stroke-width="0.6"/>
<polygon points="536.5,73.0 546.5,71.0 551.5,77.0 553.0,85.0 548.5,90.0 539.5,90.0 535.5,81.0" fill="#2a9898" stroke="#2a9898" stroke-width="0.6"/>
<polygon points="486.8,208.0 494.4,206.5 505.0,202.7 509.6,208.0 508.1,214.1 497.4,218.7 494.4,224.7 491.4,230.8 494.4,235.4 502.0,238.4 500.5,244.5 489.8,242.9 486.8,236.9 488.3,230.8 480.7,224.7 480.0,221.7 483.8,215.6" fill="#d0c2a0" stroke="#d0c2a0" stroke-width="0.6"/>
<clipPath id="tb0"><polygon points="378.9,43.1 386.8,40.9 393.7,45.4 402.8,48.8 409.6,52.2 414.2,53.4 416.4,55.7 436.9,60.2 439.2,63.6 434.6,69.3 432.4,76.2 432.4,87.5 425.5,92.1 421.0,96.7 419.8,101.2 423.3,108.0 430.1,110.3 435.8,114.9 434.6,127.9 373.2,127.9 374.3,119.4 373.2,108.0 364.0,104.6 357.2,103.5 354.9,101.2 358.4,92.1 356.1,83.0 356.1,81.8 357.2,76.2 357.2,67.0 361.8,57.9 365.2,50.0 373.2,50.0"/></clipPath>
<g clip-path="url(#tb0)"><path d="M397.7,80.2h37.6M392.8,81.4h26.8M393.2,56.9h28.2M353.8,109.8h17.7M421.3,48.7h30.2M437.5,44.5h38.9M403.0,97.7h13.0M394.7,42.2h9.9M367.7,57.4h9.0M386.5,81.2h35.0M405.3,86.0h24.0M388.0,98.5h16.9M438.8,127.6h34.9M374.7,102.4h15.3M351.6,66.0h32.5M424.7,75.7h20.4M424.8,124.2h8.0M430.7,59.1h23.0M382.4,126.1h10.3M418.3,95.6h16.6M376.3,48.4h38.9M356.1,106.8h15.9M350.6,49.6h33.5M397.7,56.3h22.3M413.9,57.4h12.2M355.9,96.9h21.5M370.4,59.4h39.1M373.6,110.7h36.3" stroke="#bff" stroke-opacity="0.22" stroke-width="0.8"/><path d="M382.1,59.2h43.9M354.4,96.7h49.6M369.3,59.4h40.5M372.9,69.5h11.1M399.9,48.7h18.2M380.0,93.2h27.0M390.5,124.3h32.1M362.2,116.2h14.5M422.0,119.9h18.5M414.6,57.4h47.5M434.5,58.0h45.1M384.7,93.4h12.4M435.7,44.2h18.0M369.2,102.1h42.6" stroke="#000" stroke-opacity="0.13" stroke-width="0.9"/></g>
<clipPath id="tb1"><polygon points="434.6,122.5 459.7,122.5 457.4,136.4 450.6,150.1 448.3,156.9 446.0,166.0 443.8,177.4 441.5,184.2 434.6,193.3 432.4,202.4 425.5,213.8 421.0,211.5 418.7,200.2 423.3,191.0 425.5,181.9 423.3,177.4 416.4,172.8 407.3,170.5 398.2,168.3 395.9,163.7 402.8,152.3 414.2,147.8 427.8,143.2 432.4,134.1"/></clipPath>
<g clip-path="url(#tb1)"><path d="M407.6,177.0h13.6M391.0,188.3h15.3M448.8,173.6h27.7M453.6,148.1h14.5M405.8,124.0h22.3M398.9,128.0h19.8M395.6,174.7h19.6M458.3,203.9h29.0M429.0,185.6h12.5M387.3,125.7h37.1M457.0,186.5h8.7M421.5,180.6h31.4M459.7,151.6h10.4M440.3,172.4h36.8M437.8,189.8h33.4M411.9,206.1h29.9M450.2,204.8h21.3M449.6,194.7h26.3M414.1,179.6h26.6M391.8,178.1h28.5M450.8,213.2h31.3M440.2,158.0h26.6" stroke="#bff" stroke-opacity="0.28" stroke-width="0.8"/><path d="M447.8,162.7h11.5M388.1,191.0h33.3M402.9,166.4h37.3M431.3,167.9h46.7M386.8,145.9h20.6M400.9,184.4h15.1M434.6,205.2h26.6M410.0,203.9h36.0M417.7,140.6h41.9M450.9,206.0h24.1M409.3,175.7h13.7" stroke="#000" stroke-opacity="0.17" stroke-width="0.9"/></g>
<clipPath id="tb2"><polygon points="316.5,121.8 373.2,121.8 373.2,131.8 386.8,138.7 389.1,147.8 393.7,156.9 398.2,163.7 393.7,166.0 382.3,163.7 380.0,166.0 377.7,175.1 373.2,184.2 375.4,191.0 370.9,200.2 368.6,211.5 362.9,216.1 359.5,211.5 352.7,207.0 341.3,202.4 334.4,195.6 327.6,189.9 316.5,191.0"/></clipPath>
<g clip-path="url(#tb2)"><path d="M383.8,168.6h35.2M393.8,188.9h16.9M349.8,137.8h16.8M346.5,142.0h28.0M337.8,168.4h34.9M349.9,214.4h10.4M387.0,124.8h9.3M360.3,188.6h17.9M311.7,196.4h12.3M312.2,164.7h34.5M322.4,144.2h9.5M349.4,181.1h28.2M381.2,183.6h38.7M327.6,186.3h23.2M310.9,138.7h23.1M325.8,189.1h16.7M371.5,154.4h24.7M376.7,179.7h20.6M389.9,196.5h10.8M373.7,209.7h12.2M365.2,164.6h37.1M360.2,157.3h36.1M393.3,196.9h22.8M328.1,183.2h31.1M366.6,199.0h31.0M389.4,141.9h39.4M357.4,214.0h33.3M390.3,152.0h35.4" stroke="#bff" stroke-opacity="0.14" stroke-width="0.8"/><path d="M317.3,154.7h26.5M377.8,173.7h28.5M381.4,124.5h10.7M325.3,197.2h22.1M322.4,196.1h14.2M373.8,170.5h43.3M393.4,186.8h28.7M317.6,211.3h17.3M335.6,171.5h38.6M356.1,182.0h43.4M337.5,174.6h24.0M389.4,201.5h16.7M395.4,202.0h30.0M327.7,175.8h30.5" stroke="#000" stroke-opacity="0.08" stroke-width="0.9"/></g>
<clipPath id="tb3"><polygon points="370.9,123.0 434.6,123.0 432.4,134.1 427.8,143.2 414.2,147.8 405.0,152.3 398.2,163.7 393.7,156.9 389.1,147.8 386.8,138.7 373.2,131.8"/></clipPath>
<g clip-path="url(#tb3)"><path d="M405.5,143.5h8.9M398.9,162.5h20.8M402.4,155.6h23.7M365.7,151.1h25.2M431.5,139.8h37.5M395.8,133.9h12.1M421.1,140.6h36.8M384.3,142.4h14.1M429.1,148.1h12.1" stroke="#bff" stroke-opacity="0.18" stroke-width="0.8"/><path d="M362.6,154.7h16.2M411.6,132.2h21.5M406.6,137.4h12.4M369.9,152.7h29.4" stroke="#000" stroke-opacity="0.11" stroke-width="0.9"/></g>
<clipPath id="tb4"><polygon points="382.3,163.7 393.7,166.0 398.2,170.5 407.3,170.5 416.4,172.8 423.3,177.4 425.5,184.2 418.7,193.3 414.2,202.4 409.6,211.5 405.0,220.7 395.9,225.2 382.3,222.9 373.2,218.4 368.6,211.5 370.9,200.2 375.4,191.0 373.2,184.2 377.7,175.1 380.0,166.0"/></clipPath>
<g clip-path="url(#tb4)"><path d="M371.8,179.1h25.0M383.8,190.6h21.2M369.3,196.3h14.5M401.3,202.5h24.9M399.5,216.1h35.4M408.2,178.0h33.9M379.7,219.2h18.1M373.2,220.5h39.9M367.6,218.3h15.7M376.0,208.4h11.1M386.8,214.9h33.3M385.6,171.5h29.9M372.1,164.8h29.8" stroke="#bff" stroke-opacity="0.18" stroke-width="0.8"/><path d="M423.4,219.8h12.8M409.3,194.8h29.1M371.3,205.9h11.0M361.1,170.2h31.2M396.7,195.4h14.2M372.3,175.1h43.3" stroke="#000" stroke-opacity="0.11" stroke-width="0.9"/></g>
<clipPath id="tb5"><polygon points="471.5,121.8 480.3,121.8 480.3,131.8 480.3,138.7 475.8,145.5 478.1,147.8 487.2,150.1 496.3,147.8 503.1,150.1 505.4,156.9 512.2,161.4 519.0,162.6 529.3,161.4 530.4,168.3 541.8,170.5 546.4,177.4 546.4,184.2 548.7,191.0 546.4,200.2 553.2,204.7 557.8,209.3 560.0,213.8 548.7,211.5 537.3,209.3 528.2,204.7 519.0,203.6 507.7,203.6 500.8,204.7 487.2,207.0 480.3,216.1 471.5,218.4"/></clipPath>
<g clip-path="url(#tb5)"><path d="M552.8,217.4h11.0M555.3,127.8h22.8M493.7,195.7h22.9M503.9,171.6h27.2M530.6,123.1h35.0M506.2,139.3h31.7M480.7,160.9h13.3M463.0,171.3h36.6M530.9,199.2h35.5M501.3,182.6h27.2M558.3,170.5h33.8M551.3,146.7h31.8M541.8,196.9h21.0M548.2,208.4h30.2M536.9,195.9h21.0M468.4,191.6h18.9M462.5,167.1h19.4M523.0,183.5h15.4M527.1,213.0h18.8M517.6,185.5h25.1M560.0,159.4h28.6M536.6,189.5h39.4M522.1,124.0h31.6M501.0,146.6h9.6M498.5,140.7h11.2M550.7,146.0h25.6M556.8,170.8h26.2M524.4,217.9h33.9M520.4,129.2h32.3M553.2,126.2h13.1M478.1,167.4h23.9M467.2,180.8h38.2" stroke="#bff" stroke-opacity="0.14" stroke-width="0.8"/><path d="M513.4,162.4h33.1M489.6,157.1h35.5M489.4,175.9h38.1M462.8,150.4h18.3M476.9,125.9h39.7M549.9,159.5h39.4M558.9,126.7h47.7M550.7,128.9h26.0M557.4,167.9h18.2M553.9,172.3h38.4M558.0,167.0h42.3M472.8,180.1h34.2M481.5,165.8h10.2M473.7,172.8h26.6M506.4,186.3h19.0M502.8,178.0h40.7" stroke="#000" stroke-opacity="0.08" stroke-width="0.9"/></g>
<clipPath id="tb6"><polygon points="316.5,86.4 325.3,85.7 332.2,87.5 341.3,88.7 347.0,86.4 356.1,83.0 358.4,92.1 354.9,101.2 352.7,108.0 350.4,114.9 341.3,112.6 329.9,110.3 323.1,108.0 316.5,108.0"/></clipPath>
<g clip-path="url(#tb6)"><path d="M358.2,99.9h38.5M321.5,106.4h11.6M347.9,111.4h28.0M323.1,94.4h29.9" stroke="#bff" stroke-opacity="0.20" stroke-width="0.8"/><path d="M338.6,101.0h34.6M319.2,107.0h18.5" stroke="#000" stroke-opacity="0.12" stroke-width="0.9"/></g>
<clipPath id="tb7"><polygon points="439.2,110.3 452.9,108.0 459.7,110.3 466.5,119.4 467.7,127.9 434.6,127.9 435.8,114.9"/></clipPath>
<g clip-path="url(#tb7)"><path d="M464.0,127.4h36.1M427.3,108.8h16.7" stroke="#bff" stroke-opacity="0.25" stroke-width="0.8"/><path d="M451.5,116.5h12.3" stroke="#000" stroke-opacity="0.15" stroke-width="0.9"/></g>
<clipPath id="tb8"><polygon points="536.1,73.9 546.4,71.6 550.9,76.2 553.2,83.0 548.7,87.5 548.7,96.7 546.4,101.2 539.5,110.3 537.3,127.9 498.6,127.9 500.8,110.3 505.4,105.8 516.8,105.8 521.3,101.2 525.9,92.1 537.3,87.5 539.5,80.7"/></clipPath>
<g clip-path="url(#tb8)"><path d="M493.2,102.1h10.8M524.2,109.6h28.2M519.5,92.6h14.7M536.7,90.9h34.8M496.3,75.8h33.9M538.3,106.7h14.8M505.2,95.5h33.9M530.8,92.4h39.7M524.0,89.9h31.9M516.2,123.4h19.8M545.1,77.1h10.5" stroke="#bff" stroke-opacity="0.16" stroke-width="0.8"/><path d="M525.0,76.3h28.4M507.9,110.1h40.6M502.3,75.9h35.8M508.2,76.2h38.4M506.8,110.6h14.0" stroke="#000" stroke-opacity="0.10" stroke-width="0.9"/></g>
<clipPath id="tb9"><polygon points="316.5,108.0 323.1,108.0 329.9,110.3 341.3,112.6 350.4,114.9 352.7,108.0 357.2,103.5 364.0,104.6 373.2,108.0 374.3,119.4 373.2,127.9 316.5,127.9"/></clipPath>
<g clip-path="url(#tb9)"><path d="M356.7,112.2h19.7M355.6,106.3h26.2M370.4,125.9h37.2M361.6,114.2h17.8M335.7,111.2h37.9" stroke="#bff" stroke-opacity="0.12" stroke-width="0.8"/><path d="M326.0,125.3h23.2M333.4,112.4h24.6" stroke="#000" stroke-opacity="0.07" stroke-width="0.9"/></g>
<clipPath id="tb10"><polygon points="316.5,191.0 327.6,189.9 334.4,195.6 341.3,202.4 352.7,207.0 359.5,211.5 362.9,216.1 361.8,227.5 359.5,238.9 358.4,251.9 316.5,251.9"/></clipPath>
<g clip-path="url(#tb10)"><path d="M320.3,212.4h26.0M338.6,236.2h34.8M319.3,222.6h32.3M324.9,241.1h8.7M338.8,219.9h26.2M344.5,246.0h33.7M338.9,193.6h33.2M314.3,194.8h31.6M314.5,242.1h28.3" stroke="#bff" stroke-opacity="0.12" stroke-width="0.8"/><path d="M349.5,198.3h35.3M321.7,204.2h40.1M350.5,220.2h24.6M361.2,209.5h36.2" stroke="#000" stroke-opacity="0.07" stroke-width="0.9"/></g>
<clipPath id="tb11"><polygon points="459.7,123.0 477.7,123.0 477.7,251.9 436.9,251.9 432.4,238.9 427.8,232.0 423.3,225.2 422.1,216.1 421.0,207.0 425.5,213.8 432.4,202.4 434.6,193.3 441.5,184.2 443.8,177.4 446.0,166.0 448.3,156.9 450.6,150.1 457.4,136.4"/></clipPath>
<g clip-path="url(#tb11)"><path d="M446.8,184.7h31.1M472.0,211.5h21.1M455.5,226.3h35.3M466.6,223.7h36.4M453.7,242.7h24.8M464.5,211.7h21.5M420.7,175.5h31.7M436.0,246.9h13.4M439.3,148.5h17.3M414.9,244.2h17.9M454.2,137.3h32.8M415.1,145.4h22.7M471.6,196.0h9.2M423.3,136.5h15.0M458.8,152.4h27.0M423.3,151.0h17.0M461.5,144.5h18.0M465.5,191.5h23.3M470.2,155.5h37.3M447.5,165.7h38.6M425.7,183.3h9.6M464.4,241.4h20.3M445.4,188.9h16.8M454.8,246.8h15.6M442.5,124.3h19.9M458.6,222.6h27.4M421.4,142.6h18.3" stroke="#bff" stroke-opacity="0.12" stroke-width="0.8"/><path d="M469.0,155.4h29.7M477.2,202.6h19.2M421.0,189.8h40.4M465.8,123.1h43.5M416.5,225.8h19.3M417.5,212.6h28.2M474.7,181.6h32.6M431.2,230.2h41.2M472.1,175.1h11.8M424.9,226.3h30.8M421.5,188.7h42.9M431.7,161.9h11.2M442.1,161.2h38.0" stroke="#000" stroke-opacity="0.07" stroke-width="0.9"/></g>
<clipPath id="tb12"><polygon points="423.3,225.2 432.4,225.2 446.0,227.5 459.7,220.7 468.8,216.1 477.7,216.1 477.7,251.9 436.9,251.9 432.4,238.9 427.8,232.0"/></clipPath>
<g clip-path="url(#tb12)"><path d="M457.5,227.6h11.4M443.0,228.7h38.9M455.4,242.6h8.4M459.0,228.1h15.6M442.8,234.1h8.3M464.8,247.7h14.6" stroke="#bff" stroke-opacity="0.12" stroke-width="0.8"/><path d="M432.0,235.8h23.8M432.5,233.3h22.2M456.2,228.6h18.8" stroke="#000" stroke-opacity="0.07" stroke-width="0.9"/></g>
<clipPath id="tb13"><polygon points="342.4,-1.0 399.3,-1.0 395.9,10.1 397.1,22.0 373.2,22.0 370.4,26.1 370.9,37.4 378.9,43.1 373.2,50.0 365.2,50.0 361.8,57.9 357.2,67.0 357.2,76.2 356.1,81.8 347.0,85.3 341.3,87.5 334.4,85.3 331.0,78.4 328.7,71.6 323.1,67.0 316.5,67.0 316.5,35.2 327.6,35.2 332.2,30.6 340.1,23.8 341.3,7.8"/></clipPath>
<g clip-path="url(#tb13)"><path d="M375.4,18.3h18.5M360.3,82.8h31.2M383.9,29.7h11.0M318.4,13.2h29.7M326.1,62.3h20.9M363.0,73.4h10.9M324.0,20.6h12.0M316.5,36.2h37.5M355.7,38.0h28.7M383.4,67.4h20.4M346.8,29.7h8.5M372.5,35.7h39.4M369.0,69.3h27.5M339.6,2.6h19.0M319.5,57.3h20.1M380.5,45.1h34.4M324.1,53.9h32.5M359.0,79.1h19.3M322.7,44.3h30.8M356.1,86.4h30.9M327.6,73.3h38.2M327.7,55.3h10.7M361.5,22.2h30.3M393.0,29.5h19.6M321.1,41.1h39.2M390.8,12.7h25.4" stroke="#bff" stroke-opacity="0.10" stroke-width="0.8"/><path d="M360.1,49.5h19.1M398.6,79.7h42.3M321.0,53.1h42.6M390.1,26.0h18.1M384.2,50.6h15.8M316.8,48.4h9.3M398.2,16.6h47.5M337.5,58.0h36.2M344.1,64.8h32.9M311.5,70.6h16.4M322.8,41.5h24.2M325.5,50.3h29.8M360.8,23.8h21.9" stroke="#000" stroke-opacity="0.06" stroke-width="0.9"/></g>
<clipPath id="tb14"><polygon points="373.2,22.0 397.1,22.0 405.0,23.8 408.5,30.6 411.9,36.3 410.7,44.3 409.6,52.2 402.8,48.8 393.7,45.4 386.8,40.9 378.9,43.1 370.9,37.4 370.4,26.1"/></clipPath>
<g clip-path="url(#tb14)"><path d="M362.4,41.4h29.5M409.8,26.3h27.2M381.6,36.2h28.0M399.4,42.8h32.1" stroke="#bff" stroke-opacity="0.15" stroke-width="0.8"/><path d="M411.6,36.7h43.2M381.5,47.9h26.2" stroke="#000" stroke-opacity="0.09" stroke-width="0.9"/></g>
<clipPath id="tb15"><polygon points="480.3,122.3 487.2,122.3 489.4,129.6 498.6,134.1 503.1,138.7 514.5,140.9 523.6,143.2 529.3,147.8 529.3,161.4 519.0,162.6 512.2,161.4 505.4,156.9 503.1,150.1 496.3,147.8 487.2,150.1 478.1,147.8 475.8,145.5 480.3,138.7 480.3,131.8"/></clipPath>
<g clip-path="url(#tb15)"><path d="M523.3,145.1h24.8M493.2,143.4h36.9M469.3,135.2h31.2M512.3,158.6h27.1M485.1,152.6h27.0M473.7,125.1h22.3M491.0,142.5h9.7M499.2,150.3h15.7" stroke="#bff" stroke-opacity="0.20" stroke-width="0.8"/><path d="M490.9,134.6h17.9M523.7,125.0h48.6M520.8,149.1h25.7M479.9,154.7h39.4" stroke="#000" stroke-opacity="0.12" stroke-width="0.9"/></g>
<clipPath id="tb16"><polygon points="436.9,191.0 448.3,186.5 455.1,186.5 464.3,191.0 468.8,200.2 471.1,207.0 464.3,209.3 455.1,211.5 443.8,211.5 441.5,202.4 435.8,197.9"/></clipPath>
<g clip-path="url(#tb16)"><path d="M466.7,200.7h11.2M431.4,206.3h25.2M425.8,210.3h15.8" stroke="#bff" stroke-opacity="0.25" stroke-width="0.8"/><path d="M440.5,194.0h10.6" stroke="#000" stroke-opacity="0.15" stroke-width="0.9"/></g>
<clipPath id="tb17"><polygon points="509.9,179.7 519.0,177.4 525.9,172.8 532.7,174.0 535.0,181.9 539.5,191.0 535.0,197.9 525.9,197.9 521.3,193.3 514.5,193.3 511.1,188.8"/></clipPath>
<g clip-path="url(#tb17)"><path d="M532.2,195.2h20.7M523.1,181.8h9.5" stroke="#bff" stroke-opacity="0.20" stroke-width="0.8"/><path d="M535.5,173.6h20.9" stroke="#000" stroke-opacity="0.12" stroke-width="0.9"/></g>
<clipPath id="tb18"><polygon points="480.3,216.1 487.2,207.0 500.8,204.7 507.7,203.6 509.9,216.1 507.7,227.5 505.4,238.9 487.2,238.9 480.3,229.8 471.5,222.9 471.5,218.4"/></clipPath>
<g clip-path="url(#tb18)"><path d="M506.7,221.2h39.3M471.5,220.3h17.5M504.9,236.1h14.3M478.6,233.1h23.1M504.1,209.6h39.9" stroke="#bff" stroke-opacity="0.20" stroke-width="0.8"/><path d="M492.1,210.7h16.0M463.9,234.6h12.5" stroke="#000" stroke-opacity="0.12" stroke-width="0.9"/></g>
<clipPath id="tb19"><polygon points="436.9,23.8 441.5,22.6 448.3,22.6 447.6,28.6 449.4,37.0 453.1,41.8 461.5,44.3 466.3,41.8 469.3,37.0 468.1,32.2 463.8,26.3 461.5,22.3 466.3,19.0 471.8,14.2 472.2,-1.0 477.7,-1.0 477.7,91.0 468.8,92.1 459.7,101.2 449.4,98.9 439.2,110.3 435.8,114.9 430.1,110.3 423.3,108.0 419.8,101.2 421.0,96.7 425.5,92.1 432.4,87.5 432.4,76.2 434.6,69.3 439.2,63.6 436.9,60.2 416.4,55.7 414.2,53.4 416.4,46.5 423.3,37.4 430.1,30.6"/></clipPath>
<g clip-path="url(#tb19)"><path d="M427.2,83.6h36.8M456.6,100.0h12.3M473.1,80.2h22.2M420.6,10.0h17.8M418.6,81.9h13.8M453.0,27.8h33.3M452.8,43.4h36.3M421.0,68.2h17.6M453.2,106.5h16.9M410.8,73.9h39.5M443.0,51.1h25.0M448.3,6.2h17.1M463.2,29.6h10.8M459.7,33.5h15.9M444.5,32.8h14.0M476.8,103.1h9.1M459.3,53.6h20.3M440.9,106.8h13.8M451.6,64.3h19.5M461.7,76.0h24.5M466.3,58.6h29.9M474.1,60.3h13.6M416.3,89.8h27.5M436.5,27.8h32.7M462.3,90.6h15.6M420.4,56.7h26.6M406.7,57.8h27.1" stroke="#bff" stroke-opacity="0.08" stroke-width="0.8"/><path d="M446.3,82.4h44.7M415.3,21.5h8.7M436.1,57.5h26.6M462.9,30.9h11.0M446.0,104.3h30.8M421.7,91.1h14.1M407.3,36.4h21.2M442.8,71.7h19.1M410.7,68.0h42.5M422.9,20.5h14.7M465.3,79.6h41.0M434.3,8.0h23.3M475.5,25.6h9.8" stroke="#000" stroke-opacity="0.05" stroke-width="0.9"/></g>
<clipPath id="tb20"><polygon points="528.2,10.1 537.3,10.1 548.7,14.7 557.8,21.5 562.3,23.8 561.2,32.9 560.0,42.0 565.7,46.5 568.0,55.7 566.9,64.8 565.7,71.6 569.2,78.4 560.0,85.3 553.2,83.0 548.7,73.9 541.8,71.6 536.1,73.9 539.5,80.7 537.3,87.5 525.9,92.1 521.3,101.2 516.8,105.8 505.4,105.8 500.8,110.3 498.6,127.9 471.5,127.9 471.5,89.8 478.1,85.3 482.6,76.2 489.4,69.3 496.3,62.5 500.8,53.4 503.1,46.5 505.4,35.2 507.7,35.2 516.8,37.4 523.6,43.1 535.0,43.1 537.3,37.4 539.5,28.3 532.7,23.8 528.2,19.2 530.4,14.7"/></clipPath>
<g clip-path="url(#tb20)"><path d="M543.4,67.7h39.6M510.5,27.1h31.8M487.4,14.7h36.5M503.8,26.8h17.5M469.7,60.1h9.1M543.7,127.4h31.5M488.7,37.2h25.7M511.2,38.6h37.8M497.8,53.0h39.4M465.7,82.0h20.9M467.8,86.6h19.0M554.5,91.9h26.9M511.3,114.5h20.6M502.5,109.4h33.0M498.9,35.5h13.9M479.1,74.8h14.5M511.8,35.4h17.9M568.4,62.8h29.7M483.5,111.7h20.3M535.9,18.7h19.6M463.4,42.4h13.8M503.8,41.0h37.6M490.4,94.3h19.6M562.3,28.2h19.5M539.4,100.3h37.0M496.1,12.5h20.3M556.5,19.9h18.4M517.4,100.9h9.8M487.1,56.5h9.3M525.6,27.9h9.0M507.1,46.9h25.4M537.6,26.1h16.3M533.2,95.5h12.7M491.6,34.2h30.8M503.1,57.8h35.7M492.9,36.7h19.0M465.8,35.5h8.8M522.4,84.3h33.9M493.6,125.0h29.5M484.7,118.3h30.1M564.3,88.6h35.8M529.6,37.7h10.9M503.7,60.5h9.9M496.8,55.2h23.9" stroke="#bff" stroke-opacity="0.08" stroke-width="0.8"/><path d="M478.5,43.1h24.9M479.4,66.1h35.9M471.5,38.3h22.4M477.7,59.8h32.5M521.0,92.7h37.4M503.6,12.8h23.3M505.0,17.5h10.3M524.5,68.5h27.7M488.7,48.4h9.0M557.5,51.0h31.8M533.4,40.9h15.8M527.7,65.4h48.1M523.5,52.8h47.6M529.0,100.9h34.1M506.2,58.5h19.6M556.2,107.8h24.0M465.6,117.2h13.7M494.7,69.8h23.1M477.6,125.1h16.1M534.7,37.0h17.9M520.0,10.2h24.5M514.6,38.3h35.3" stroke="#000" stroke-opacity="0.05" stroke-width="0.9"/></g>
<clipPath id="tb21"><polygon points="476.7,128.2 635.0,128.2 635.0,254.6 476.7,254.6"/></clipPath>
<g clip-path="url(#tb21)"><path d="M568.0,193.9h25.9M623.9,227.8h18.7M610.6,169.7h18.0M579.6,214.0h30.0M600.5,243.7h13.1M546.3,202.7h26.0M513.1,172.5h32.0M505.2,192.2h16.0M495.5,167.1h24.4M477.0,143.3h10.2M581.1,140.4h11.6M592.0,182.3h23.4M607.3,147.7h35.8M507.9,134.6h24.2M530.4,223.6h30.9M582.9,158.4h18.5M589.9,168.2h35.0M558.8,227.5h21.5M567.8,212.9h34.6M487.0,224.2h20.1M504.2,208.4h13.9M561.7,129.8h38.1M488.4,244.5h30.0M569.2,178.4h20.7M627.2,240.0h9.6M485.9,213.6h9.4M585.4,162.5h39.8M520.3,142.6h8.8M545.1,193.2h19.9M596.6,165.2h34.8M530.3,162.2h27.8M625.9,219.9h20.5M555.3,211.3h33.6M495.1,145.8h11.4M507.5,240.0h23.6M519.2,142.6h8.6M490.0,196.0h28.0M503.6,161.0h23.4M508.8,172.0h9.6M611.6,135.9h17.9M496.3,137.6h23.5M499.5,247.7h35.8M534.0,186.2h33.8M476.0,175.6h25.6M567.8,206.9h16.9M607.0,240.7h39.8M602.0,181.3h31.2M471.0,149.3h13.4M478.8,142.4h19.5M517.0,218.5h24.5M500.8,129.4h38.7M552.3,129.5h33.9M586.1,223.1h20.8M601.0,224.4h32.6M483.1,246.3h38.4M581.2,176.4h16.0M470.5,237.2h26.5M529.7,155.4h19.8M598.3,206.9h19.7M524.2,204.6h16.9M518.9,236.6h11.0M587.1,168.3h14.8M555.3,217.2h29.8M483.9,149.4h12.6M536.6,170.2h8.3M532.2,188.4h18.3M621.3,192.5h14.5M518.8,233.7h32.1M627.0,141.2h21.8M502.3,243.5h21.1" stroke="#bff" stroke-opacity="0.07" stroke-width="0.8"/><path d="M495.5,212.8h19.5M620.5,209.3h21.5M524.7,150.2h49.6M569.7,145.9h23.9M501.1,205.3h33.9M605.7,234.5h34.4M558.8,188.7h12.8M578.7,228.5h27.0M534.8,207.9h24.2M564.2,155.7h32.1M471.9,189.9h34.3M563.0,181.7h33.0M491.3,239.8h27.7M586.5,247.1h21.1M627.3,216.5h24.9M487.3,232.1h49.6M504.7,187.0h43.3M618.9,206.0h42.8M549.7,223.8h49.7M607.9,136.0h37.9M597.7,158.2h27.1M607.2,192.4h16.2M571.2,161.7h11.1M594.4,194.7h28.6M596.5,157.2h43.9M555.8,220.5h46.0M491.3,223.6h23.4M472.7,140.2h22.5M602.0,231.8h12.9M529.8,150.0h43.7M613.1,202.1h11.0M500.2,246.5h34.4M584.8,233.2h16.3M536.6,208.3h8.6M517.9,168.9h34.4" stroke="#000" stroke-opacity="0.04" stroke-width="0.9"/></g>
<clipPath id="tb22"><polygon points="537.3,127.9 539.5,110.3 546.4,101.2 548.7,96.7 548.7,87.5 553.2,85.3 560.0,85.3 569.2,78.4 573.7,77.3 580.5,78.4 587.4,83.0 594.2,87.5 603.3,96.7 610.1,103.5 614.7,110.3 619.3,127.9"/></clipPath>
<g clip-path="url(#tb22)"><path d="M582.7,91.4h30.2M539.0,86.4h30.2M539.1,100.9h11.7M583.4,124.9h19.4M618.8,87.2h30.1M560.4,114.5h17.9M540.7,97.9h28.2M602.7,98.8h21.1M573.9,100.4h38.1M592.0,94.8h15.5M553.5,106.6h35.9M605.9,91.8h29.7M613.2,100.3h20.4M582.6,114.9h22.3M565.8,80.5h17.0" stroke="#bff" stroke-opacity="0.07" stroke-width="0.8"/><path d="M615.1,99.6h20.3M589.1,112.4h18.3M539.4,98.1h45.6M566.0,90.0h22.3M605.5,118.8h32.8M536.4,104.9h45.7M560.7,81.8h23.7" stroke="#000" stroke-opacity="0.04" stroke-width="0.9"/></g>
<circle cx="585.0" cy="166.3" r="0.40" fill="#9ff" fill-opacity="0.42"/>
<circle cx="621.0" cy="6.7" r="0.49" fill="#9ff" fill-opacity="0.32"/>
<circle cx="527.5" cy="115.8" r="0.39" fill="#9ff" fill-opacity="0.37"/>
<circle cx="566.3" cy="240.7" r="0.59" fill="#9ff" fill-opacity="0.45"/>
<circle cx="532.8" cy="205.7" r="0.49" fill="#9ff" fill-opacity="0.38"/>
<circle cx="628.6" cy="17.4" r="0.44" fill="#9ff" fill-opacity="0.30"/>
<circle cx="574.3" cy="54.9" r="0.60" fill="#9ff" fill-opacity="0.25"/>
<circle cx="528.8" cy="36.3" r="0.42" fill="#9ff" fill-opacity="0.39"/>
<circle cx="483.3" cy="42.2" r="0.49" fill="#9ff" fill-opacity="0.36"/>
<circle cx="588.0" cy="63.6" r="0.54" fill="#9ff" fill-opacity="0.38"/>
<circle cx="593.4" cy="30.6" r="0.44" fill="#9ff" fill-opacity="0.20"/>
<circle cx="606.7" cy="234.3" r="0.57" fill="#9ff" fill-opacity="0.21"/>
<circle cx="525.8" cy="133.4" r="0.46" fill="#9ff" fill-opacity="0.23"/>
<circle cx="595.5" cy="75.5" r="0.45" fill="#9ff" fill-opacity="0.23"/>
<circle cx="560.3" cy="33.0" r="0.33" fill="#9ff" fill-opacity="0.33"/>
<circle cx="516.7" cy="193.0" r="0.37" fill="#9ff" fill-opacity="0.30"/>
<circle cx="478.6" cy="54.8" r="0.44" fill="#9ff" fill-opacity="0.34"/>
<circle cx="543.0" cy="211.1" r="0.33" fill="#9ff" fill-opacity="0.41"/>
<circle cx="494.6" cy="240.7" r="0.46" fill="#9ff" fill-opacity="0.30"/>
<circle cx="567.3" cy="214.4" r="0.59" fill="#9ff" fill-opacity="0.30"/>
<circle cx="471.7" cy="39.0" r="0.55" fill="#9ff" fill-opacity="0.38"/>
<circle cx="583.3" cy="39.7" r="0.46" fill="#9ff" fill-opacity="0.21"/>
<circle cx="487.5" cy="75.3" r="0.59" fill="#9ff" fill-opacity="0.36"/>
<circle cx="604.8" cy="12.4" r="0.42" fill="#9ff" fill-opacity="0.22"/>
<circle cx="511.5" cy="28.6" r="0.58" fill="#9ff" fill-opacity="0.28"/>
<circle cx="547.7" cy="162.5" r="0.57" fill="#9ff" fill-opacity="0.44"/>
<circle cx="560.3" cy="124.7" r="0.57" fill="#9ff" fill-opacity="0.30"/>
<circle cx="517.6" cy="183.6" r="0.38" fill="#9ff" fill-opacity="0.29"/>
<circle cx="538.3" cy="118.8" r="0.41" fill="#9ff" fill-opacity="0.31"/>
<circle cx="541.7" cy="13.2" r="0.55" fill="#9ff" fill-opacity="0.22"/>
<circle cx="553.9" cy="136.2" r="0.42" fill="#9ff" fill-opacity="0.26"/>
<circle cx="485.8" cy="92.9" r="0.39" fill="#9ff" fill-opacity="0.32"/>
<circle cx="506.6" cy="186.1" r="0.45" fill="#9ff" fill-opacity="0.20"/>
<circle cx="534.7" cy="239.7" r="0.30" fill="#9ff" fill-opacity="0.35"/>
<circle cx="622.8" cy="91.3" r="0.48" fill="#9ff" fill-opacity="0.29"/>
<circle cx="517.9" cy="151.5" r="0.48" fill="#9ff" fill-opacity="0.28"/>
<circle cx="549.1" cy="128.5" r="0.53" fill="#9ff" fill-opacity="0.21"/>
<circle cx="484.8" cy="63.2" r="0.38" fill="#9ff" fill-opacity="0.40"/>
<circle cx="537.7" cy="213.4" r="0.42" fill="#9ff" fill-opacity="0.27"/>
<circle cx="578.1" cy="22.1" r="0.60" fill="#9ff" fill-opacity="0.41"/>
<circle cx="522.2" cy="79.4" r="0.55" fill="#9ff" fill-opacity="0.40"/>
<circle cx="572.1" cy="15.0" r="0.53" fill="#9ff" fill-opacity="0.21"/>
<circle cx="569.3" cy="137.4" r="0.58" fill="#9ff" fill-opacity="0.36"/>
<circle cx="473.6" cy="231.8" r="0.53" fill="#9ff" fill-opacity="0.34"/>
<circle cx="470.9" cy="183.0" r="0.43" fill="#9ff" fill-opacity="0.37"/>
<circle cx="626.4" cy="227.4" r="0.32" fill="#9ff" fill-opacity="0.40"/>
<circle cx="540.0" cy="186.6" r="0.41" fill="#9ff" fill-opacity="0.31"/>
<circle cx="539.5" cy="30.1" r="0.40" fill="#9ff" fill-opacity="0.38"/>
<circle cx="481.4" cy="29.6" r="0.55" fill="#9ff" fill-opacity="0.37"/>
<circle cx="557.2" cy="29.0" r="0.34" fill="#9ff" fill-opacity="0.28"/>
<circle cx="621.7" cy="139.4" r="0.58" fill="#9ff" fill-opacity="0.25"/>
<circle cx="536.0" cy="133.5" r="0.55" fill="#9ff" fill-opacity="0.23"/>
<circle cx="608.9" cy="117.7" r="0.31" fill="#9ff" fill-opacity="0.31"/>
<circle cx="530.0" cy="167.6" r="0.58" fill="#9ff" fill-opacity="0.32"/>
<circle cx="579.6" cy="96.8" r="0.53" fill="#9ff" fill-opacity="0.23"/>
<circle cx="588.0" cy="42.1" r="0.48" fill="#9ff" fill-opacity="0.25"/>
<circle cx="525.1" cy="41.5" r="0.40" fill="#9ff" fill-opacity="0.35"/>
<circle cx="552.7" cy="97.0" r="0.47" fill="#9ff" fill-opacity="0.41"/>
<circle cx="527.0" cy="145.2" r="0.44" fill="#9ff" fill-opacity="0.45"/>
<circle cx="522.2" cy="173.3" r="0.37" fill="#9ff" fill-opacity="0.27"/>
<circle cx="586.1" cy="143.0" r="0.38" fill="#9ff" fill-opacity="0.22"/>
<circle cx="601.1" cy="94.3" r="0.51" fill="#9ff" fill-opacity="0.31"/>
<circle cx="568.2" cy="139.2" r="0.59" fill="#9ff" fill-opacity="0.43"/>
<circle cx="542.5" cy="121.2" r="0.37" fill="#9ff" fill-opacity="0.39"/>
<circle cx="486.3" cy="76.7" r="0.55" fill="#9ff" fill-opacity="0.21"/>
<circle cx="581.1" cy="141.3" r="0.47" fill="#9ff" fill-opacity="0.28"/>
<circle cx="494.1" cy="235.9" r="0.53" fill="#9ff" fill-opacity="0.40"/>
<circle cx="485.5" cy="194.7" r="0.37" fill="#9ff" fill-opacity="0.25"/>
<circle cx="555.1" cy="151.6" r="0.34" fill="#9ff" fill-opacity="0.39"/>
<circle cx="562.6" cy="223.1" r="0.58" fill="#9ff" fill-opacity="0.37"/>
<circle cx="527.9" cy="235.9" r="0.52" fill="#9ff" fill-opacity="0.27"/>
<circle cx="606.4" cy="180.5" r="0.38" fill="#9ff" fill-opacity="0.26"/>
<circle cx="473.2" cy="133.7" r="0.38" fill="#9ff" fill-opacity="0.27"/>
<circle cx="510.2" cy="33.5" r="0.45" fill="#9ff" fill-opacity="0.27"/>
<circle cx="515.3" cy="69.6" r="0.45" fill="#9ff" fill-opacity="0.42"/>
<circle cx="495.5" cy="213.3" r="0.56" fill="#9ff" fill-opacity="0.35"/>
<circle cx="556.5" cy="182.3" r="0.46" fill="#9ff" fill-opacity="0.36"/>
<circle cx="616.2" cy="192.5" r="0.38" fill="#9ff" fill-opacity="0.21"/>
<circle cx="618.9" cy="90.6" r="0.54" fill="#9ff" fill-opacity="0.26"/>
<circle cx="542.0" cy="92.5" r="0.52" fill="#9ff" fill-opacity="0.44"/>
<circle cx="550.4" cy="140.8" r="0.40" fill="#9ff" fill-opacity="0.26"/>
<circle cx="621.0" cy="28.2" r="0.58" fill="#9ff" fill-opacity="0.36"/>
<circle cx="481.4" cy="223.7" r="0.33" fill="#9ff" fill-opacity="0.34"/>
<circle cx="489.0" cy="245.2" r="0.39" fill="#9ff" fill-opacity="0.42"/>
<circle cx="479.8" cy="165.6" r="0.32" fill="#9ff" fill-opacity="0.21"/>
<circle cx="560.8" cy="243.8" r="0.51" fill="#9ff" fill-opacity="0.41"/>
<circle cx="594.8" cy="129.7" r="0.32" fill="#9ff" fill-opacity="0.33"/>
<circle cx="499.3" cy="131.1" r="0.41" fill="#9ff" fill-opacity="0.32"/>
<circle cx="501.4" cy="175.1" r="0.43" fill="#9ff" fill-opacity="0.32"/>
<circle cx="482.5" cy="121.3" r="0.47" fill="#9ff" fill-opacity="0.44"/>
<circle cx="559.3" cy="34.3" r="0.39" fill="#9ff" fill-opacity="0.28"/>
<circle cx="581.6" cy="232.9" r="0.59" fill="#9ff" fill-opacity="0.44"/>
<circle cx="617.1" cy="213.1" r="0.58" fill="#9ff" fill-opacity="0.21"/>
<circle cx="547.9" cy="146.9" r="0.51" fill="#9ff" fill-opacity="0.35"/>
<circle cx="567.5" cy="231.5" r="0.33" fill="#9ff" fill-opacity="0.33"/>
<circle cx="622.6" cy="8.9" r="0.33" fill="#9ff" fill-opacity="0.42"/>
<circle cx="622.2" cy="6.9" r="0.31" fill="#9ff" fill-opacity="0.41"/>
<circle cx="579.5" cy="129.4" r="0.47" fill="#9ff" fill-opacity="0.39"/>
<circle cx="598.4" cy="1.2" r="0.32" fill="#9ff" fill-opacity="0.40"/>
<circle cx="625.1" cy="206.8" r="0.42" fill="#9ff" fill-opacity="0.28"/>
<circle cx="525.1" cy="4.7" r="0.53" fill="#9ff" fill-opacity="0.27"/>
<circle cx="563.1" cy="131.0" r="0.40" fill="#9ff" fill-opacity="0.37"/>
<circle cx="542.3" cy="58.9" r="0.56" fill="#9ff" fill-opacity="0.24"/>
<circle cx="493.8" cy="63.6" r="0.44" fill="#9ff" fill-opacity="0.40"/>
<circle cx="522.9" cy="59.8" r="0.50" fill="#9ff" fill-opacity="0.27"/>
<circle cx="553.1" cy="64.0" r="0.56" fill="#9ff" fill-opacity="0.25"/>
<circle cx="506.9" cy="75.5" r="0.40" fill="#9ff" fill-opacity="0.38"/>
<circle cx="577.2" cy="196.2" r="0.46" fill="#9ff" fill-opacity="0.22"/>
<circle cx="591.4" cy="61.4" r="0.37" fill="#9ff" fill-opacity="0.30"/>
<circle cx="627.4" cy="92.6" r="0.41" fill="#9ff" fill-opacity="0.43"/>
<circle cx="627.5" cy="96.6" r="0.34" fill="#9ff" fill-opacity="0.40"/>
<circle cx="594.4" cy="84.5" r="0.54" fill="#9ff" fill-opacity="0.29"/>
<circle cx="515.6" cy="147.5" r="0.52" fill="#9ff" fill-opacity="0.32"/>
<circle cx="600.1" cy="4.4" r="0.45" fill="#9ff" fill-opacity="0.30"/>
<circle cx="480.4" cy="226.9" r="0.34" fill="#9ff" fill-opacity="0.25"/>
<circle cx="609.6" cy="238.2" r="0.58" fill="#9ff" fill-opacity="0.29"/>
<circle cx="618.0" cy="36.0" r="0.51" fill="#9ff" fill-opacity="0.44"/>
<circle cx="500.6" cy="34.5" r="0.50" fill="#9ff" fill-opacity="0.42"/>
<circle cx="585.5" cy="235.5" r="0.44" fill="#9ff" fill-opacity="0.29"/>
<circle cx="489.1" cy="68.4" r="0.58" fill="#9ff" fill-opacity="0.22"/>
<circle cx="499.4" cy="86.8" r="0.31" fill="#9ff" fill-opacity="0.28"/>
<circle cx="499.1" cy="31.3" r="0.46" fill="#9ff" fill-opacity="0.34"/>
<circle cx="560.3" cy="189.3" r="0.46" fill="#9ff" fill-opacity="0.44"/>
<circle cx="483.0" cy="56.1" r="0.32" fill="#9ff" fill-opacity="0.28"/>
<circle cx="590.9" cy="229.3" r="0.45" fill="#9ff" fill-opacity="0.24"/>
<circle cx="522.5" cy="141.4" r="0.39" fill="#9ff" fill-opacity="0.40"/>
<circle cx="624.6" cy="114.6" r="0.48" fill="#9ff" fill-opacity="0.41"/>
<circle cx="543.9" cy="48.1" r="0.58" fill="#9ff" fill-opacity="0.44"/>
<circle cx="473.9" cy="189.4" r="0.42" fill="#9ff" fill-opacity="0.21"/>
<circle cx="495.9" cy="43.7" r="0.52" fill="#9ff" fill-opacity="0.25"/>
<circle cx="473.1" cy="55.3" r="0.54" fill="#9ff" fill-opacity="0.32"/>
<circle cx="573.8" cy="115.9" r="0.35" fill="#9ff" fill-opacity="0.20"/>
<circle cx="518.4" cy="11.3" r="0.38" fill="#9ff" fill-opacity="0.35"/>
<circle cx="528.7" cy="117.8" r="0.49" fill="#9ff" fill-opacity="0.28"/>
<circle cx="526.7" cy="219.3" r="0.47" fill="#9ff" fill-opacity="0.30"/>
<circle cx="555.9" cy="114.7" r="0.40" fill="#9ff" fill-opacity="0.43"/>
<circle cx="507.1" cy="232.2" r="0.56" fill="#9ff" fill-opacity="0.42"/>
<circle cx="495.9" cy="126.7" r="0.60" fill="#9ff" fill-opacity="0.27"/>
<circle cx="497.2" cy="179.7" r="0.37" fill="#9ff" fill-opacity="0.35"/>
<circle cx="495.1" cy="235.0" r="0.39" fill="#9ff" fill-opacity="0.22"/>
</g>
<text x="330" y="26.3" style="font-family:'Liberation Sans',sans-serif;font-weight:bold;font-size:27px;fill:#fff">b</text>
<text x="550.3" y="17.9" text-anchor="middle" style="font-family:'Liberation Sans',sans-serif;font-weight:bold;font-size:14px;fill:#fff">Transformation Strain</text>
<text x="550.3" y="34.2" text-anchor="middle" style="font-family:'Liberation Sans',sans-serif;font-weight:bold;font-size:14px;fill:#fff">Under Compression</text>
<circle cx="334.3" cy="231.2" r="8.6" fill="none" stroke="#fff" stroke-width="2.4"/><path d="M328.5,225.4 L340.1,237.0 M340.1,225.4 L328.5,237.0" stroke="#fff" stroke-width="2.2"/><text x="349.6" y="238.4" style="font-family:'Liberation Sans',sans-serif;font-weight:bold;font-size:21px;fill:#fff">SD</text>
<rect x="559" y="216.2" width="64.2" height="3.1" fill="#fff"/>
<text x="591.8" y="239.4" text-anchor="middle" style="font-family:'Liberation Sans',sans-serif;font-weight:bold;font-size:18.6px;fill:#fff">200 µm</text>
<defs><linearGradient id="cbg" x1="0" y1="0" x2="0" y2="1">
<stop offset="0" stop-color="#08284e"/><stop offset="0.13" stop-color="#0a3a68"/><stop offset="0.2" stop-color="#124e7a"/>
<stop offset="0.31" stop-color="#196d88"/><stop offset="0.4" stop-color="#1b8589"/><stop offset="0.48" stop-color="#21a09a"/>
<stop offset="0.55" stop-color="#4aa69e"/><stop offset="0.61" stop-color="#70ab9f"/><stop offset="0.68" stop-color="#98b29e"/>
<stop offset="0.73" stop-color="#c4b496"/><stop offset="1" stop-color="#c2aa8a"/></linearGradient></defs>
<rect x="633.3" y="73.7" width="14.1" height="174.5" fill="#fff"/>
<rect x="633.3" y="79.5" width="14.1" height="162.9" fill="url(#cbg)"/>
<rect x="633.3" y="73.7" width="14.1" height="174.5" fill="none" stroke="#222" stroke-width="0.9"/>
<line x1="647.4" y1="79.7" x2="651.5" y2="79.7" stroke="#222" stroke-width="0.9"/>
<text x="655.5" y="83.5" style="font-family:'Liberation Serif',serif;font-weight:bold;font-size:11px;fill:#111">6.6</text>
<line x1="647.4" y1="112.2" x2="651.5" y2="112.2" stroke="#222" stroke-width="0.9"/>
<text x="655.5" y="116.0" style="font-family:'Liberation Serif',serif;font-weight:bold;font-size:11px;fill:#111">6.0</text>
<line x1="647.4" y1="144.8" x2="651.5" y2="144.8" stroke="#222" stroke-width="0.9"/>
<text x="655.5" y="148.6" style="font-family:'Liberation Serif',serif;font-weight:bold;font-size:11px;fill:#111">5.4</text>
<line x1="647.4" y1="177.3" x2="651.5" y2="177.3" stroke="#222" stroke-width="0.9"/>
<text x="655.5" y="181.1" style="font-family:'Liberation Serif',serif;font-weight:bold;font-size:11px;fill:#111">4.8</text>
<line x1="647.4" y1="209.9" x2="651.5" y2="209.9" stroke="#222" stroke-width="0.9"/>
<text x="655.5" y="213.7" style="font-family:'Liberation Serif',serif;font-weight:bold;font-size:11px;fill:#111">4.3</text>
<line x1="647.4" y1="242.4" x2="651.5" y2="242.4" stroke="#222" stroke-width="0.9"/>
<text x="655.5" y="246.2" style="font-family:'Liberation Serif',serif;font-weight:bold;font-size:11px;fill:#111">3.7</text>
<text x="674" y="83.5" style="font-family:'Liberation Serif',serif;font-weight:bold;font-size:11px;fill:#111;font-size:13px">%</text>
<line x1="631" y1="250.3" x2="676" y2="250.3" stroke="#ddd" stroke-width="0.8"/>
<path d="M66.5,537.2 L67.1,534.4 L67.9,532.3 L68.7,530.2 L69.5,528.0 L70.3,525.9 L71.0,523.7 L71.8,521.5 L72.5,519.3 L73.2,517.1 L73.9,514.8 L74.6,512.6 L75.3,510.3 L75.9,508.0 L76.6,505.7 L77.2,503.4 L77.9,501.1 L78.5,498.7 L79.1,496.4 L79.8,494.1 L80.4,491.7 L81.0,489.4 L81.7,487.0 L82.3,484.6 L82.9,482.3 L83.5,479.9 L84.2,477.5 L84.8,475.1 L85.4,472.8 L86.1,470.4 L86.7,468.0 L87.4,465.6 L88.1,463.2 L88.7,460.9 L89.4,458.5 L90.1,456.1 L90.8,453.8 L91.6,451.4 L92.3,449.1 L93.1,446.7 L93.8,444.4 L94.6,442.1 L95.4,439.8 L96.3,437.5 L97.1,435.2 L98.0,432.9 L98.9,430.6 L99.8,428.4 L100.8,426.2 L101.7,423.9 L102.7,421.7 L103.7,419.6 L104.8,417.4 L105.9,415.2 L107.0,413.1 L108.1,411.0 L109.3,408.9 L110.5,406.8 L111.7,404.8 L113.0,402.8 L114.3,400.8 L115.6,398.8 L117.0,396.8 L118.4,394.9 L119.8,393.0 L121.3,391.2 L122.7,389.4 L124.3,387.6 L125.8,385.8 L127.4,384.1 L129.0,382.4 L130.7,380.7 L132.3,379.1 L134.1,377.5 L135.8,376.0 L137.6,374.5 L139.4,373.0 L141.2,371.6 L143.1,370.2 L145.0,368.9 L146.9,367.6 L148.9,366.4 L150.9,365.2 L152.9,364.0 L154.9,362.9 L157.0,361.9 L159.1,360.8 L161.2,359.9 L163.4,358.9 L165.6,358.0 L167.8,357.1 L170.0,356.3 L172.2,355.5 L174.5,354.7 L176.8,354.0 L179.1,353.3 L181.4,352.6 L183.7,352.0 L186.0,351.3 L188.4,350.8 L190.8,350.2 L193.1,349.7 L195.5,349.1 L197.9,348.6 L200.3,348.2 L202.7,347.7 L205.2,347.2 L207.6,346.8 L210.0,346.4 L212.5,345.9 L214.9,345.5 L217.3,345.1 L219.8,344.7 L222.2,344.3 L224.6,343.8 L227.1,343.4 L229.5,343.0 L231.9,342.6 L234.3,342.1 L236.7,341.7 L239.1,341.2 L241.5,340.7 L243.9,340.2 L246.3,339.6 L248.6,339.1 L251.0,338.5 L253.3,337.9 L255.6,337.3 L257.9,336.6 L260.2,335.9 L262.5,335.2 L264.7,334.5 L266.9,333.7 L269.1,332.8 L271.3,331.9 L273.4,331.0 L275.6,330.1 L277.7,329.0 L279.7,328.0 L281.8,326.9 L283.8,325.7 L285.8,324.5 L287.7,323.2 L289.7,321.9 L291.6,320.5 L293.4,319.0 L295.2,317.5 L297.0,316.0 L298.8,314.3 L300.5,312.7 L302.1,310.9 L303.8,309.1 L305.3,307.2 L306.9,305.2 L308.4,303.2 L309.8,301.1 L311.3,298.9 L312.6,296.7 L313.9,294.4 L315.0,292.8 L315.0,292.8 L314.3,294.7 L313.0,297.0 L311.7,299.2 L310.4,301.3 L309.1,303.4 L307.6,305.4 L306.2,307.3 L304.7,309.1 L303.1,310.9 L301.5,312.6 L299.9,314.3 L298.3,315.9 L296.6,317.4 L294.8,318.9 L293.1,320.3 L291.2,321.7 L289.4,323.1 L287.5,324.3 L285.6,325.6 L283.7,326.7 L281.7,327.9 L279.7,329.0 L277.7,330.0 L275.7,331.1 L273.6,332.0 L271.5,333.0 L269.4,333.9 L267.3,334.7 L265.1,335.6 L262.9,336.4 L260.7,337.2 L258.5,337.9 L256.3,338.7 L254.0,339.4 L251.8,340.1 L249.5,340.7 L247.2,341.4 L244.9,342.0 L242.6,342.6 L240.3,343.2 L238.0,343.8 L235.7,344.4 L233.3,344.9 L231.0,345.5 L228.6,346.1 L226.3,346.6 L223.9,347.2 L221.6,347.7 L219.2,348.3 L216.9,348.8 L214.5,349.4 L212.2,349.9 L209.9,350.5 L207.5,351.1 L205.2,351.7 L202.9,352.3 L200.6,352.9 L198.3,353.6 L196.0,354.2 L193.7,354.9 L191.5,355.6 L189.2,356.3 L187.0,357.0 L184.8,357.8 L182.6,358.6 L180.4,359.4 L178.2,360.2 L176.1,361.1 L174.0,362.0 L171.9,363.0 L169.8,364.0 L167.8,365.0 L165.8,366.1 L163.8,367.2 L161.8,368.3 L159.8,369.5 L157.9,370.7 L156.0,372.0 L154.2,373.3 L152.3,374.6 L150.5,376.0 L148.7,377.4 L147.0,378.8 L145.2,380.2 L143.5,381.7 L141.8,383.3 L140.1,384.8 L138.5,386.4 L136.9,388.0 L135.3,389.7 L133.8,391.3 L132.2,393.0 L130.7,394.8 L129.2,396.5 L127.8,398.3 L126.3,400.1 L124.9,401.9 L123.5,403.8 L122.2,405.7 L120.9,407.6 L119.6,409.5 L118.3,411.4 L117.0,413.4 L115.8,415.4 L114.6,417.4 L113.4,419.4 L112.3,421.4 L111.1,423.5 L110.0,425.6 L109.0,427.7 L107.9,429.8 L106.9,431.9 L105.9,434.0 L104.9,436.2 L104.0,438.3 L103.0,440.5 L102.1,442.7 L101.2,444.9 L100.3,447.1 L99.5,449.3 L98.6,451.6 L97.8,453.8 L97.0,456.0 L96.2,458.3 L95.4,460.6 L94.7,462.8 L93.9,465.1 L93.2,467.4 L92.5,469.7 L91.7,471.9 L91.0,474.2 L90.3,476.5 L89.6,478.8 L89.0,481.1 L88.3,483.4 L87.6,485.7 L86.9,488.0 L86.3,490.3 L85.6,492.6 L85.0,494.8 L84.3,497.1 L83.6,499.4 L83.0,501.7 L82.3,503.9 L81.7,506.2 L81.0,508.5 L80.4,510.7 L79.7,513.0 L79.0,515.2 L78.4,517.4 L77.7,519.6 L77.0,521.8 L76.3,524.0 L75.6,526.2 L74.9,528.4 L74.2,530.5 L73.4,532.7 L72.7,534.8 L72.2,537.2 Z" fill="#c8c8c8" stroke="#c8c8c8" stroke-width="0.8"/>
<path d="M73.0,537.2 L73.6,534.7 L74.5,532.4 L75.3,530.2 L76.1,527.9 L76.9,525.7 L77.6,523.5 L78.4,521.3 L79.2,519.1 L79.9,517.0 L80.7,514.8 L81.5,512.7 L82.2,510.6 L83.0,508.4 L83.7,506.3 L84.5,504.2 L85.2,502.1 L86.0,499.9 L86.8,497.8 L87.6,495.7 L88.3,493.5 L89.1,491.4 L89.9,489.2 L90.8,487.0 L91.6,484.8 L92.4,482.6 L93.3,480.3 L94.2,478.1 L95.0,475.8 L96.0,473.6 L96.9,471.3 L97.8,469.0 L98.8,466.7 L99.8,464.5 L100.8,462.2 L101.9,460.0 L102.9,457.8 L104.0,455.6 L105.2,453.4 L106.3,451.2 L107.5,449.1 L108.7,447.0 L110.0,445.0 L111.3,442.9 L112.6,441.0 L114.0,439.0 L115.4,437.2 L116.8,435.3 L118.3,433.6 L119.8,431.8 L121.4,430.1 L123.0,428.5 L124.6,426.9 L126.3,425.4 L127.9,423.9 L129.7,422.4 L131.4,421.0 L133.2,419.6 L135.0,418.2 L136.8,416.9 L138.7,415.7 L140.6,414.5 L142.5,413.3 L144.5,412.1 L146.4,411.0 L148.4,409.9 L150.5,408.9 L152.5,407.9 L154.6,406.9 L156.7,405.9 L158.8,405.0 L160.9,404.1 L163.0,403.3 L165.2,402.4 L167.4,401.6 L169.6,400.9 L171.8,400.1 L174.0,399.4 L176.3,398.7 L178.5,398.0 L180.8,397.4 L183.1,396.7 L185.4,396.1 L187.7,395.5 L190.0,395.0 L192.3,394.4 L194.7,393.9 L197.0,393.4 L199.3,392.9 L201.7,392.4 L204.1,391.9 L206.4,391.4 L208.8,391.0 L211.1,390.5 L213.5,390.1 L215.9,389.6 L218.2,389.2 L220.6,388.7 L222.9,388.2 L225.2,387.8 L227.6,387.3 L229.9,386.8 L232.2,386.3 L234.5,385.7 L236.7,385.2 L239.0,384.6 L241.2,384.0 L243.5,383.3 L245.7,382.6 L247.8,381.9 L250.0,381.2 L252.1,380.4 L254.2,379.6 L256.3,378.7 L258.4,377.8 L260.4,376.9 L262.4,375.9 L264.4,374.8 L266.3,373.7 L268.2,372.6 L270.1,371.3 L271.9,370.1 L273.7,368.7 L275.4,367.3 L277.1,365.8 L278.8,364.3 L280.4,362.6 L282.0,360.9 L283.5,359.2 L285.0,357.3 L286.4,355.4 L287.8,353.5 L289.2,351.5 L290.5,349.4 L291.8,347.3 L293.0,345.2 L294.2,343.0 L295.4,340.8 L296.5,338.6 L297.6,336.3 L298.7,334.1 L299.7,331.8 L300.7,329.5 L301.7,327.2 L302.6,325.0 L303.5,322.7 L304.4,320.5 L305.3,318.2 L306.1,316.0 L306.9,313.8 L307.7,311.6 L308.4,309.4 L309.2,307.3 L309.9,305.2 L310.6,303.1 L311.2,301.1 L311.9,299.0 L312.5,297.1 L313.1,295.1 L315.0,292.8 L315.0,292.8 L313.2,294.7 L312.7,296.8 L312.1,298.8 L311.5,300.9 L311.0,303.1 L310.3,305.2 L309.7,307.4 L309.0,309.6 L308.3,311.8 L307.6,314.0 L306.8,316.3 L306.1,318.5 L305.2,320.8 L304.4,323.0 L303.5,325.3 L302.6,327.5 L301.7,329.8 L300.7,332.0 L299.7,334.2 L298.7,336.4 L297.6,338.6 L296.5,340.8 L295.4,342.9 L294.2,345.0 L293.0,347.1 L291.7,349.1 L290.4,351.1 L289.1,353.0 L287.8,354.9 L286.4,356.8 L284.9,358.6 L283.4,360.3 L281.9,362.0 L280.4,363.6 L278.8,365.2 L277.1,366.7 L275.4,368.1 L273.7,369.5 L272.0,370.8 L270.2,372.0 L268.4,373.3 L266.5,374.4 L264.6,375.5 L262.7,376.6 L260.7,377.6 L258.8,378.6 L256.8,379.5 L254.7,380.4 L252.7,381.3 L250.6,382.1 L248.5,382.9 L246.4,383.7 L244.2,384.4 L242.1,385.1 L239.9,385.8 L237.7,386.5 L235.5,387.1 L233.3,387.8 L231.0,388.4 L228.8,389.0 L226.5,389.6 L224.3,390.2 L222.0,390.7 L219.7,391.3 L217.4,391.9 L215.2,392.5 L212.9,393.0 L210.6,393.6 L208.3,394.2 L206.0,394.8 L203.7,395.4 L201.4,396.0 L199.2,396.6 L196.9,397.2 L194.6,397.9 L192.4,398.6 L190.1,399.2 L187.9,400.0 L185.6,400.7 L183.4,401.4 L181.2,402.2 L179.0,403.0 L176.8,403.8 L174.7,404.7 L172.5,405.6 L170.4,406.5 L168.2,407.4 L166.1,408.3 L164.0,409.3 L162.0,410.3 L159.9,411.3 L157.9,412.3 L155.9,413.4 L153.9,414.5 L151.9,415.7 L149.9,416.8 L148.0,418.0 L146.1,419.2 L144.2,420.5 L142.4,421.8 L140.5,423.1 L138.7,424.4 L137.0,425.8 L135.2,427.2 L133.5,428.7 L131.8,430.2 L130.1,431.7 L128.5,433.2 L126.9,434.8 L125.3,436.5 L123.8,438.1 L122.3,439.8 L120.8,441.6 L119.4,443.3 L118.0,445.1 L116.6,447.0 L115.2,448.8 L113.9,450.7 L112.6,452.7 L111.3,454.6 L110.1,456.6 L108.9,458.6 L107.7,460.6 L106.5,462.7 L105.4,464.7 L104.2,466.8 L103.1,468.9 L102.1,471.0 L101.0,473.1 L99.9,475.3 L98.9,477.4 L97.9,479.6 L96.9,481.7 L95.9,483.9 L95.0,486.1 L94.0,488.3 L93.1,490.5 L92.2,492.7 L91.3,494.8 L90.4,497.0 L89.5,499.2 L88.6,501.4 L87.7,503.6 L86.8,505.8 L86.0,507.9 L85.1,510.1 L84.3,512.2 L83.5,514.4 L82.6,516.5 L81.8,518.6 L81.0,520.7 L80.1,522.8 L79.3,524.8 L78.5,526.9 L77.6,528.9 L76.8,530.9 L76.0,532.9 L75.1,534.8 L73.8,537.2 Z" fill="#c8c8c8" stroke="#c8c8c8" stroke-width="0.8"/>
<line x1="65.5" y1="537.4" x2="119.9" y2="360" stroke="#000" stroke-width="2" stroke-dasharray="7.6,5.4" stroke-dashoffset="-1"/>
<path d="M72.2,537.2 L72.7,534.8 L73.4,532.7 L74.2,530.5 L74.9,528.4 L75.6,526.2 L76.3,524.0 L77.0,521.8 L77.7,519.6 L78.4,517.4 L79.0,515.2 L79.7,513.0 L80.4,510.7 L81.0,508.5 L81.7,506.2 L82.3,503.9 L83.0,501.7 L83.6,499.4 L84.3,497.1 L85.0,494.8 L85.6,492.6 L86.3,490.3 L86.9,488.0 L87.6,485.7 L88.3,483.4 L89.0,481.1 L89.6,478.8 L90.3,476.5 L91.0,474.2 L91.7,471.9 L92.5,469.7 L93.2,467.4 L93.9,465.1 L94.7,462.8 L95.4,460.6 L96.2,458.3 L97.0,456.0 L97.8,453.8 L98.6,451.6 L99.5,449.3 L100.3,447.1 L101.2,444.9 L102.1,442.7 L103.0,440.5 L104.0,438.3 L104.9,436.2 L105.9,434.0 L106.9,431.9 L107.9,429.8 L109.0,427.7 L110.0,425.6 L111.1,423.5 L112.3,421.4 L113.4,419.4 L114.6,417.4 L115.8,415.4 L117.0,413.4 L118.3,411.4 L119.6,409.5 L120.9,407.6 L122.2,405.7 L123.5,403.8 L124.9,401.9 L126.3,400.1 L127.8,398.3 L129.2,396.5 L130.7,394.8 L132.2,393.0 L133.8,391.3 L135.3,389.7 L136.9,388.0 L138.5,386.4 L140.1,384.8 L141.8,383.3 L143.5,381.7 L145.2,380.2 L147.0,378.8 L148.7,377.4 L150.5,376.0 L152.3,374.6 L154.2,373.3 L156.0,372.0 L157.9,370.7 L159.8,369.5 L161.8,368.3 L163.8,367.2 L165.8,366.1 L167.8,365.0 L169.8,364.0 L171.9,363.0 L174.0,362.0 L176.1,361.1 L178.2,360.2 L180.4,359.4 L182.6,358.6 L184.8,357.8 L187.0,357.0 L189.2,356.3 L191.5,355.6 L193.7,354.9 L196.0,354.2 L198.3,353.6 L200.6,352.9 L202.9,352.3 L205.2,351.7 L207.5,351.1 L209.9,350.5 L212.2,349.9 L214.5,349.4 L216.9,348.8 L219.2,348.3 L221.6,347.7 L223.9,347.2 L226.3,346.6 L228.6,346.1 L231.0,345.5 L233.3,344.9 L235.7,344.4 L238.0,343.8 L240.3,343.2 L242.6,342.6 L244.9,342.0 L247.2,341.4 L249.5,340.7 L251.8,340.1 L254.0,339.4 L256.3,338.7 L258.5,337.9 L260.7,337.2 L262.9,336.4 L265.1,335.6 L267.3,334.7 L269.4,333.9 L271.5,333.0 L273.6,332.0 L275.7,331.1 L277.7,330.0 L279.7,329.0 L281.7,327.9 L283.7,326.7 L285.6,325.6 L287.5,324.3 L289.4,323.1 L291.2,321.7 L293.1,320.3 L294.8,318.9 L296.6,317.4 L298.3,315.9 L299.9,314.3 L301.5,312.6 L303.1,310.9 L304.7,309.1 L306.2,307.3 L307.6,305.4 L309.1,303.4 L310.4,301.3 L311.7,299.2 L313.0,297.0 L314.3,294.7 L315.0,292.8" fill="none" stroke="#f00" stroke-width="2.8" stroke-linejoin="round" stroke-linecap="round"/>
<path d="M73.8,537.2 L75.1,534.8 L76.0,532.9 L76.8,530.9 L77.6,528.9 L78.5,526.9 L79.3,524.8 L80.1,522.8 L81.0,520.7 L81.8,518.6 L82.6,516.5 L83.5,514.4 L84.3,512.2 L85.1,510.1 L86.0,507.9 L86.8,505.8 L87.7,503.6 L88.6,501.4 L89.5,499.2 L90.4,497.0 L91.3,494.8 L92.2,492.7 L93.1,490.5 L94.0,488.3 L95.0,486.1 L95.9,483.9 L96.9,481.7 L97.9,479.6 L98.9,477.4 L99.9,475.3 L101.0,473.1 L102.1,471.0 L103.1,468.9 L104.2,466.8 L105.4,464.7 L106.5,462.7 L107.7,460.6 L108.9,458.6 L110.1,456.6 L111.3,454.6 L112.6,452.7 L113.9,450.7 L115.2,448.8 L116.6,447.0 L118.0,445.1 L119.4,443.3 L120.8,441.6 L122.3,439.8 L123.8,438.1 L125.3,436.5 L126.9,434.8 L128.5,433.2 L130.1,431.7 L131.8,430.2 L133.5,428.7 L135.2,427.2 L137.0,425.8 L138.7,424.4 L140.5,423.1 L142.4,421.8 L144.2,420.5 L146.1,419.2 L148.0,418.0 L149.9,416.8 L151.9,415.7 L153.9,414.5 L155.9,413.4 L157.9,412.3 L159.9,411.3 L162.0,410.3 L164.0,409.3 L166.1,408.3 L168.2,407.4 L170.4,406.5 L172.5,405.6 L174.7,404.7 L176.8,403.8 L179.0,403.0 L181.2,402.2 L183.4,401.4 L185.6,400.7 L187.9,400.0 L190.1,399.2 L192.4,398.6 L194.6,397.9 L196.9,397.2 L199.2,396.6 L201.4,396.0 L203.7,395.4 L206.0,394.8 L208.3,394.2 L210.6,393.6 L212.9,393.0 L215.2,392.5 L217.4,391.9 L219.7,391.3 L222.0,390.7 L224.3,390.2 L226.5,389.6 L228.8,389.0 L231.0,388.4 L233.3,387.8 L235.5,387.1 L237.7,386.5 L239.9,385.8 L242.1,385.1 L244.2,384.4 L246.4,383.7 L248.5,382.9 L250.6,382.1 L252.7,381.3 L254.7,380.4 L256.8,379.5 L258.8,378.6 L260.7,377.6 L262.7,376.6 L264.6,375.5 L266.5,374.4 L268.4,373.3 L270.2,372.0 L272.0,370.8 L273.7,369.5 L275.4,368.1 L277.1,366.7 L278.8,365.2 L280.4,363.6 L281.9,362.0 L283.4,360.3 L284.9,358.6 L286.4,356.8 L287.8,354.9 L289.1,353.0 L290.4,351.1 L291.7,349.1 L293.0,347.1 L294.2,345.0 L295.4,342.9 L296.5,340.8 L297.6,338.6 L298.7,336.4 L299.7,334.2 L300.7,332.0 L301.7,329.8 L302.6,327.5 L303.5,325.3 L304.4,323.0 L305.2,320.8 L306.1,318.5 L306.8,316.3 L307.6,314.0 L308.3,311.8 L309.0,309.6 L309.7,307.4 L310.3,305.2 L311.0,303.1 L311.5,300.9 L312.1,298.8 L312.7,296.8 L313.2,294.7 L315.0,292.8" fill="none" stroke="#f00" stroke-width="2.8" stroke-linejoin="round" stroke-linecap="round"/>
<path d="M359.6,537.4 L360.6,533.4 L361.9,528.1 L363.5,521.9 L365.3,514.9 L367.1,507.5 L369.0,499.9 L370.9,492.6 L372.6,485.7 L374.3,479.1 L376.0,472.3 L377.8,465.5 L379.5,458.7 L381.2,451.9 L383.0,445.3 L384.6,438.8 L386.2,432.5 L387.8,426.2 L389.4,419.8 L390.9,413.3 L392.5,407.1 L393.9,401.2 L395.2,395.8 L396.4,391.2 L397.4,387.5 L398.2,384.9 L398.7,383.3 L399.1,382.4 L399.4,382.1 L399.6,382.1 L399.8,382.1 L400.1,382.0 L400.5,381.5 L401.0,380.7 L401.4,379.9 L401.9,379.1 L402.5,378.3 L403.0,377.5 L403.5,376.8 L404.1,376.0 L404.7,375.3 L405.3,374.6 L405.9,374.0 L406.5,373.4 L407.1,372.8 L407.8,372.2 L408.5,371.6 L409.3,371.1 L410.1,370.5 L411.0,369.9 L411.9,369.4 L412.9,368.8 L413.9,368.3 L414.9,367.8 L416.0,367.3 L417.2,366.8 L418.4,366.4 L419.6,366.0 L420.7,365.7 L421.9,365.4 L423.1,365.1 L424.4,364.8 L426.0,364.5 L427.8,364.1 L430.0,363.7 L432.6,363.2 L435.5,362.6 L438.8,361.9 L442.2,361.2 L445.8,360.5 L449.4,359.8 L452.9,359.1 L456.3,358.5 L459.5,357.9 L462.7,357.3 L465.9,356.8 L469.1,356.2 L472.3,355.7 L475.6,355.1 L479.0,354.6 L482.6,354.0 L486.4,353.4 L490.4,352.8 L494.5,352.2 L498.8,351.7 L503.0,351.0 L507.2,350.4 L511.2,349.7 L515.0,349.0 L518.6,348.2 L522.2,347.4 L525.6,346.6 L528.9,345.7 L532.2,344.8 L535.4,343.9 L538.6,343.0 L541.8,342.0 L545.1,341.0 L548.6,339.8 L552.1,338.6 L555.6,337.4 L558.8,336.2 L561.7,335.1 L564.2,334.3 L566.0,333.6" fill="none" stroke="#c6c6c6" stroke-width="1.4"/>
<path d="M394.4,537.4 L394.8,535.1 L395.3,532.8 L395.8,530.5 L396.3,528.3 L396.8,526.0 L397.3,523.7 L397.9,521.4 L398.5,519.1 L399.0,516.8 L399.6,514.5 L400.2,512.3 L400.8,510.0 L401.5,507.7 L402.2,505.4 L402.9,503.1 L403.6,500.8 L404.4,498.5 L405.1,496.3 L405.8,494.0 L406.5,491.7 L407.2,489.4 L407.8,487.1 L408.4,484.8 L408.9,482.6 L409.5,480.3 L410.1,478.0 L410.6,475.7 L411.2,473.4 L411.7,471.1 L412.3,468.8 L412.8,466.6 L413.4,464.3 L414.0,462.0 L414.7,459.7 L415.3,457.4 L416.0,455.1 L416.7,452.8 L417.4,450.6 L418.1,448.3 L418.8,446.0 L419.6,443.7 L420.4,441.4 L421.2,439.1 L422.0,436.8 L422.9,434.6 L423.8,432.3 L424.8,430.0 L425.9,427.7 L427.0,425.4 L428.1,423.1 L429.2,420.8 L430.3,418.6 L431.4,416.3 L432.5,414.0 L433.5,411.7 L434.5,409.4 L435.4,407.1 L436.4,404.8 L437.4,402.6 L438.5,400.3 L439.7,398.0 L441.0,395.7 L442.6,393.4 L444.3,391.1 L446.2,388.8 L448.2,386.6 L450.3,384.3 L452.4,382.0 L454.6,379.7 L456.6,377.4 L458.8,375.1 L461.0,372.9 L463.6,370.6 L466.7,368.3 L470.4,366.0 L474.6,363.7 L479.4,361.4 L484.7,359.1 L491.0,356.9 L498.1,354.6 L506.2,352.3 L515.0,350.0 L523.5,347.7 L531.8,345.4 L539.6,343.1 L546.6,340.9 L553.2,338.6 L559.4,336.3 L565.0,334.0" fill="none" stroke="#c6c6c6" stroke-width="1.4"/>
<path d="M416.0,537.4 L416.5,535.1 L417.0,532.8 L417.5,530.5 L418.0,528.3 L418.5,526.0 L419.1,523.7 L419.6,521.4 L420.2,519.1 L420.8,516.8 L421.3,514.5 L421.9,512.3 L422.5,510.0 L423.2,507.7 L423.9,505.4 L424.6,503.1 L425.3,500.8 L426.0,498.5 L426.6,496.3 L427.3,494.0 L428.0,491.7 L428.6,489.4 L429.2,487.1 L429.7,484.8 L430.3,482.5 L430.8,480.2 L431.3,478.0 L431.8,475.7 L432.3,473.4 L432.9,471.1 L433.4,468.8 L433.9,466.5 L434.4,464.2 L435.0,462.0 L435.6,459.7 L436.2,457.4 L436.8,455.1 L437.4,452.8 L438.0,450.5 L438.7,448.2 L439.3,446.0 L440.0,443.7 L440.7,441.4 L441.4,439.1 L442.2,436.8 L442.9,434.5 L443.8,432.2 L444.7,430.0 L445.6,427.7 L446.6,425.4 L447.6,423.1 L448.6,420.8 L449.6,418.5 L450.5,416.2 L451.5,414.0 L452.4,411.7 L453.2,409.4 L454.1,407.1 L454.9,404.8 L455.8,402.5 L456.8,400.2 L457.9,398.0 L459.0,395.7 L460.4,393.4 L461.9,391.1 L463.6,388.8 L465.4,386.5 L467.2,384.2 L469.1,381.9 L470.9,379.7 L472.7,377.4 L474.6,375.1 L476.6,372.8 L478.8,370.5 L481.4,368.2 L484.6,365.9 L488.3,363.7 L492.5,361.4 L497.1,359.1 L502.6,356.8 L508.9,354.5 L516.0,352.2 L523.7,349.9 L531.1,347.7 L538.3,345.4 L545.0,343.1 L551.1,340.8 L556.8,338.5 L562.0,336.2 L566.7,333.9" fill="none" stroke="#c6c6c6" stroke-width="1.4"/>
<path d="M426.7,537.4 L427.2,535.1 L427.7,532.8 L428.2,530.5 L428.8,528.3 L429.3,526.0 L429.9,523.7 L430.4,521.4 L431.0,519.1 L431.6,516.8 L432.2,514.5 L432.8,512.2 L433.4,510.0 L434.0,507.7 L434.7,505.4 L435.4,503.1 L436.0,500.8 L436.7,498.5 L437.4,496.2 L438.1,494.0 L438.7,491.7 L439.3,489.4 L439.9,487.1 L440.5,484.8 L441.0,482.5 L441.5,480.2 L442.0,477.9 L442.5,475.7 L443.0,473.4 L443.5,471.1 L444.1,468.8 L444.6,466.5 L445.1,464.2 L445.7,461.9 L446.2,459.7 L446.8,457.4 L447.4,455.1 L448.0,452.8 L448.6,450.5 L449.3,448.2 L449.9,445.9 L450.6,443.7 L451.3,441.4 L452.0,439.1 L452.7,436.8 L453.5,434.5 L454.3,432.2 L455.1,429.9 L456.0,427.6 L457.0,425.4 L457.9,423.1 L458.9,420.8 L459.9,418.5 L460.8,416.2 L461.8,413.9 L462.7,411.6 L463.5,409.4 L464.4,407.1 L465.2,404.8 L466.1,402.5 L467.0,400.2 L468.1,397.9 L469.2,395.6 L470.6,393.3 L472.0,391.1 L473.6,388.8 L475.3,386.5 L477.1,384.2 L478.8,381.9 L480.6,379.6 L482.3,377.3 L484.0,375.1 L485.9,372.8 L487.9,370.5 L490.4,368.2 L493.4,365.9 L496.8,363.6 L500.6,361.3 L504.8,359.0 L509.8,356.8 L515.6,354.5 L522.0,352.2 L529.1,349.9 L535.8,347.6 L542.4,345.3 L548.5,343.0 L554.0,340.8 L559.1,338.5 L563.8,336.2 L568.0,333.9" fill="none" stroke="#c6c6c6" stroke-width="1.4"/>
<path d="M434.0,537.4 L434.5,535.1 L435.0,532.8 L435.6,530.5 L436.1,528.3 L436.7,526.0 L437.3,523.7 L437.8,521.4 L438.4,519.1 L439.0,516.8 L439.6,514.5 L440.2,512.2 L440.8,510.0 L441.4,507.7 L442.1,505.4 L442.8,503.1 L443.5,500.8 L444.1,498.5 L444.8,496.2 L445.5,493.9 L446.1,491.7 L446.7,489.4 L447.3,487.1 L447.8,484.8 L448.4,482.5 L448.9,480.2 L449.4,477.9 L450.0,475.7 L450.5,473.4 L451.0,471.1 L451.5,468.8 L452.0,466.5 L452.6,464.2 L453.1,461.9 L453.7,459.6 L454.3,457.4 L454.9,455.1 L455.5,452.8 L456.1,450.5 L456.8,448.2 L457.4,445.9 L458.1,443.6 L458.8,441.3 L459.5,439.1 L460.3,436.8 L461.0,434.5 L461.8,432.2 L462.7,429.9 L463.6,427.6 L464.5,425.3 L465.5,423.0 L466.5,420.8 L467.5,418.5 L468.4,416.2 L469.4,413.9 L470.3,411.6 L471.2,409.3 L472.0,407.0 L472.9,404.8 L473.8,402.5 L474.8,400.2 L475.9,397.9 L477.0,395.6 L478.3,393.3 L479.8,391.0 L481.4,388.7 L483.0,386.5 L484.7,384.2 L486.5,381.9 L488.2,379.6 L489.8,377.3 L491.5,375.0 L493.3,372.7 L495.3,370.4 L497.6,368.2 L500.4,365.9 L503.6,363.6 L507.2,361.3 L511.1,359.0 L515.8,356.7 L521.1,354.4 L527.0,352.2 L533.5,349.9 L539.7,347.6 L545.8,345.3 L551.4,343.0 L556.4,340.7 L561.1,338.4 L565.3,336.1 L569.1,333.9" fill="none" stroke="#c6c6c6" stroke-width="1.4"/>
<path d="M438.0,537.4 L438.5,535.1 L439.1,532.8 L439.6,530.5 L440.2,528.3 L440.8,526.0 L441.3,523.7 L441.9,521.4 L442.5,519.1 L443.1,516.8 L443.7,514.5 L444.3,512.2 L444.9,510.0 L445.6,507.7 L446.2,505.4 L446.9,503.1 L447.6,500.8 L448.3,498.5 L448.9,496.2 L449.6,493.9 L450.2,491.7 L450.9,489.4 L451.5,487.1 L452.0,484.8 L452.6,482.5 L453.1,480.2 L453.7,477.9 L454.2,475.6 L454.7,473.4 L455.3,471.1 L455.8,468.8 L456.4,466.5 L456.9,464.2 L457.5,461.9 L458.1,459.6 L458.7,457.3 L459.4,455.1 L460.0,452.8 L460.7,450.5 L461.3,448.2 L462.0,445.9 L462.7,443.6 L463.4,441.3 L464.2,439.0 L465.0,436.8 L465.8,434.5 L466.6,432.2 L467.5,429.9 L468.5,427.6 L469.4,425.3 L470.4,423.0 L471.4,420.7 L472.5,418.5 L473.5,416.2 L474.5,413.9 L475.4,411.6 L476.4,409.3 L477.3,407.0 L478.2,404.7 L479.2,402.4 L480.3,400.2 L481.4,397.9 L482.6,395.6 L484.0,393.3 L485.5,391.0 L487.1,388.7 L488.8,386.4 L490.5,384.1 L492.2,381.9 L493.9,379.6 L495.6,377.3 L497.3,375.0 L499.0,372.7 L501.0,370.4 L503.3,368.1 L506.0,365.8 L509.1,363.6 L512.4,361.3 L516.2,359.0 L520.6,356.7 L525.5,354.4 L531.1,352.1 L537.2,349.8 L542.9,347.5 L548.6,345.3 L553.8,343.0 L558.4,340.7 L562.7,338.4 L566.7,336.1 L570.2,333.8" fill="none" stroke="#c6c6c6" stroke-width="1.4"/>
<path d="M441.0,537.4 L441.5,535.1 L442.1,532.8 L442.7,530.5 L443.2,528.2 L443.8,526.0 L444.4,523.7 L445.0,521.4 L445.6,519.1 L446.2,516.8 L446.8,514.5 L447.4,512.2 L448.1,509.9 L448.7,507.7 L449.4,505.4 L450.1,503.1 L450.7,500.8 L451.4,498.5 L452.1,496.2 L452.8,493.9 L453.4,491.6 L454.0,489.4 L454.6,487.1 L455.2,484.8 L455.8,482.5 L456.4,480.2 L456.9,477.9 L457.5,475.6 L458.0,473.3 L458.6,471.1 L459.2,468.8 L459.8,466.5 L460.3,464.2 L461.0,461.9 L461.6,459.6 L462.2,457.3 L462.9,455.0 L463.6,452.8 L464.3,450.5 L465.0,448.2 L465.7,445.9 L466.4,443.6 L467.2,441.3 L468.0,439.0 L468.8,436.7 L469.6,434.4 L470.5,432.2 L471.5,429.9 L472.4,427.6 L473.4,425.3 L474.5,423.0 L475.5,420.7 L476.6,418.4 L477.7,416.1 L478.7,413.9 L479.7,411.6 L480.8,409.3 L481.8,407.0 L482.8,404.7 L483.9,402.4 L485.0,400.1 L486.2,397.8 L487.5,395.6 L488.9,393.3 L490.4,391.0 L492.1,388.7 L493.8,386.4 L495.5,384.1 L497.3,381.8 L499.0,379.5 L500.7,377.3 L502.4,375.0 L504.2,372.7 L506.2,370.4 L508.4,368.1 L511.0,365.8 L514.0,363.5 L517.2,361.2 L520.8,359.0 L524.9,356.7 L529.6,354.4 L534.8,352.1 L540.5,349.8 L545.9,347.5 L551.1,345.2 L556.0,342.9 L560.3,340.6 L564.3,338.4 L568.0,336.1 L571.2,333.8" fill="none" stroke="#c6c6c6" stroke-width="1.4"/>
<path d="M444.0,537.4 L444.5,535.1 L445.1,532.8 L445.7,530.5 L446.3,528.2 L446.9,526.0 L447.5,523.7 L448.1,521.4 L448.7,519.1 L449.3,516.8 L449.9,514.5 L450.6,512.2 L451.2,509.9 L451.8,507.7 L452.5,505.4 L453.2,503.1 L453.9,500.8 L454.6,498.5 L455.2,496.2 L455.9,493.9 L456.6,491.6 L457.2,489.3 L457.8,487.1 L458.4,484.8 L459.0,482.5 L459.6,480.2 L460.2,477.9 L460.7,475.6 L461.3,473.3 L461.9,471.0 L462.5,468.8 L463.1,466.5 L463.7,464.2 L464.4,461.9 L465.0,459.6 L465.7,457.3 L466.4,455.0 L467.1,452.7 L467.8,450.4 L468.6,448.2 L469.3,445.9 L470.1,443.6 L470.9,441.3 L471.7,439.0 L472.6,436.7 L473.4,434.4 L474.4,432.1 L475.3,429.9 L476.3,427.6 L477.4,425.3 L478.5,423.0 L479.6,420.7 L480.7,418.4 L481.8,416.1 L482.9,413.8 L484.0,411.5 L485.1,409.3 L486.1,407.0 L487.2,404.7 L488.4,402.4 L489.6,400.1 L490.8,397.8 L492.2,395.5 L493.7,393.2 L495.2,391.0 L496.9,388.7 L498.6,386.4 L500.4,384.1 L502.2,381.8 L504.0,379.5 L505.7,377.2 L507.4,374.9 L509.2,372.7 L511.2,370.4 L513.4,368.1 L515.9,365.8 L518.7,363.5 L521.8,361.2 L525.2,358.9 L529.1,356.6 L533.5,354.3 L538.4,352.1 L543.7,349.8 L548.7,347.5 L553.6,345.2 L558.1,342.9 L562.1,340.6 L565.8,338.3 L569.2,336.0 L572.2,333.8" fill="none" stroke="#c6c6c6" stroke-width="1.4"/>
<path d="M446.0,537.4 L446.5,535.1 L447.1,532.8 L447.7,530.5 L448.4,528.2 L449.0,526.0 L449.6,523.7 L450.2,521.4 L450.8,519.1 L451.4,516.8 L452.1,514.5 L452.7,512.2 L453.3,509.9 L454.0,507.6 L454.7,505.4 L455.3,503.1 L456.0,500.8 L456.7,498.5 L457.4,496.2 L458.1,493.9 L458.7,491.6 L459.4,489.3 L460.0,487.1 L460.6,484.8 L461.2,482.5 L461.8,480.2 L462.4,477.9 L463.0,475.6 L463.6,473.3 L464.3,471.0 L464.9,468.7 L465.5,466.5 L466.2,464.2 L466.8,461.9 L467.5,459.6 L468.2,457.3 L469.0,455.0 L469.7,452.7 L470.5,450.4 L471.2,448.1 L472.0,445.9 L472.8,443.6 L473.7,441.3 L474.6,439.0 L475.5,436.7 L476.4,434.4 L477.3,432.1 L478.4,429.8 L479.4,427.5 L480.5,425.3 L481.6,423.0 L482.8,420.7 L484.0,418.4 L485.1,416.1 L486.3,413.8 L487.5,411.5 L488.6,409.2 L489.8,407.0 L491.0,404.7 L492.2,402.4 L493.5,400.1 L494.8,397.8 L496.2,395.5 L497.8,393.2 L499.4,390.9 L501.1,388.6 L502.9,386.4 L504.7,384.1 L506.5,381.8 L508.3,379.5 L510.1,377.2 L511.8,374.9 L513.7,372.6 L515.6,370.3 L517.8,368.0 L520.3,365.8 L523.1,363.5 L526.1,361.2 L529.3,358.9 L533.0,356.6 L537.1,354.3 L541.7,352.0 L546.6,349.7 L551.3,347.4 L555.8,345.2 L560.0,342.9 L563.7,340.6 L567.2,338.3 L570.3,336.0 L573.1,333.7" fill="none" stroke="#c6c6c6" stroke-width="1.4"/>
<path d="M448.0,537.4 L448.5,535.1 L449.2,532.8 L449.8,530.5 L450.4,528.2 L451.0,526.0 L451.7,523.7 L452.3,521.4 L452.9,519.1 L453.5,516.8 L454.2,514.5 L454.8,512.2 L455.5,509.9 L456.1,507.6 L456.8,505.4 L457.5,503.1 L458.2,500.8 L458.9,498.5 L459.5,496.2 L460.2,493.9 L460.9,491.6 L461.5,489.3 L462.2,487.0 L462.8,484.8 L463.5,482.5 L464.1,480.2 L464.7,477.9 L465.3,475.6 L466.0,473.3 L466.6,471.0 L467.3,468.7 L467.9,466.4 L468.6,464.2 L469.3,461.9 L470.0,459.6 L470.8,457.3 L471.5,455.0 L472.3,452.7 L473.1,450.4 L473.9,448.1 L474.7,445.8 L475.6,443.6 L476.5,441.3 L477.4,439.0 L478.3,436.7 L479.3,434.4 L480.3,432.1 L481.4,429.8 L482.5,427.5 L483.6,425.2 L484.8,423.0 L486.0,420.7 L487.2,418.4 L488.4,416.1 L489.6,413.8 L490.9,411.5 L492.1,409.2 L493.3,406.9 L494.6,404.6 L495.9,402.4 L497.3,400.1 L498.7,397.8 L500.2,395.5 L501.8,393.2 L503.5,390.9 L505.2,388.6 L507.0,386.3 L508.9,384.0 L510.7,381.8 L512.6,379.5 L514.4,377.2 L516.2,374.9 L518.0,372.6 L520.0,370.3 L522.2,368.0 L524.6,365.7 L527.3,363.4 L530.1,361.2 L533.2,358.9 L536.7,356.6 L540.6,354.3 L544.9,352.0 L549.5,349.7 L553.8,347.4 L558.0,345.1 L561.9,342.8 L565.4,340.6 L568.6,338.3 L571.5,336.0 L574.0,333.7" fill="none" stroke="#c6c6c6" stroke-width="1.4"/>
<path d="M449.5,537.4 L450.1,535.1 L450.7,532.8 L451.3,530.5 L452.0,528.2 L452.6,526.0 L453.2,523.7 L453.9,521.4 L454.5,519.1 L455.1,516.8 L455.8,514.5 L456.4,512.2 L457.1,509.9 L457.7,507.6 L458.4,505.4 L459.1,503.1 L459.8,500.8 L460.5,498.5 L461.2,496.2 L461.9,493.9 L462.6,491.6 L463.2,489.3 L463.9,487.0 L464.5,484.7 L465.2,482.5 L465.8,480.2 L466.5,477.9 L467.1,475.6 L467.8,473.3 L468.5,471.0 L469.1,468.7 L469.8,466.4 L470.5,464.1 L471.3,461.9 L472.0,459.6 L472.8,457.3 L473.6,455.0 L474.4,452.7 L475.2,450.4 L476.1,448.1 L477.0,445.8 L477.9,443.5 L478.8,441.3 L479.7,439.0 L480.7,436.7 L481.7,434.4 L482.8,432.1 L483.9,429.8 L485.1,427.5 L486.3,425.2 L487.5,422.9 L488.7,420.6 L490.0,418.4 L491.3,416.1 L492.6,413.8 L493.9,411.5 L495.2,409.2 L496.5,406.9 L497.9,404.6 L499.2,402.3 L500.7,400.0 L502.2,397.8 L503.7,395.5 L505.4,393.2 L507.2,390.9 L509.0,388.6 L510.9,386.3 L512.7,384.0 L514.6,381.7 L516.5,379.4 L518.4,377.2 L520.2,374.9 L522.1,372.6 L524.1,370.3 L526.3,368.0 L528.6,365.7 L531.2,363.4 L534.0,361.1 L537.0,358.8 L540.3,356.5 L543.9,354.3 L547.9,352.0 L552.2,349.7 L556.2,347.4 L560.1,345.1 L563.7,342.8 L566.9,340.5 L569.9,338.2 L572.6,335.9 L574.9,333.7" fill="none" stroke="#c6c6c6" stroke-width="1.4"/>
<path d="M450.5,537.4 L451.1,535.1 L451.7,532.8 L452.4,530.5 L453.0,528.2 L453.7,526.0 L454.3,523.7 L455.0,521.4 L455.6,519.1 L456.3,516.8 L456.9,514.5 L457.6,512.2 L458.2,509.9 L458.9,507.6 L459.6,505.3 L460.3,503.1 L461.0,500.8 L461.7,498.5 L462.4,496.2 L463.1,493.9 L463.7,491.6 L464.4,489.3 L465.1,487.0 L465.8,484.7 L466.4,482.4 L467.1,480.2 L467.8,477.9 L468.4,475.6 L469.1,473.3 L469.8,471.0 L470.5,468.7 L471.3,466.4 L472.0,464.1 L472.8,461.8 L473.6,459.6 L474.4,457.3 L475.2,455.0 L476.1,452.7 L476.9,450.4 L477.8,448.1 L478.8,445.8 L479.7,443.5 L480.7,441.2 L481.7,438.9 L482.7,436.7 L483.8,434.4 L484.9,432.1 L486.0,429.8 L487.3,427.5 L488.5,425.2 L489.8,422.9 L491.1,420.6 L492.4,418.3 L493.8,416.1 L495.1,413.8 L496.5,411.5 L497.9,409.2 L499.3,406.9 L500.7,404.6 L502.2,402.3 L503.7,400.0 L505.3,397.7 L507.0,395.4 L508.7,393.2 L510.5,390.9 L512.4,388.6 L514.3,386.3 L516.3,384.0 L518.2,381.7 L520.2,379.4 L522.1,377.1 L524.0,374.8 L525.9,372.5 L527.9,370.3 L530.1,368.0 L532.4,365.7 L535.0,363.4 L537.6,361.1 L540.5,358.8 L543.6,356.5 L547.1,354.2 L550.8,351.9 L554.7,349.7 L558.5,347.4 L562.1,345.1 L565.4,342.8 L568.4,340.5 L571.1,338.2 L573.6,335.9 L575.8,333.6" fill="none" stroke="#c6c6c6" stroke-width="1.4"/>
<path d="M451.5,537.4 L452.1,535.1 L452.7,532.8 L453.4,530.5 L454.1,528.2 L454.7,526.0 L455.4,523.7 L456.0,521.4 L456.7,519.1 L457.4,516.8 L458.0,514.5 L458.7,512.2 L459.3,509.9 L460.0,507.6 L460.7,505.3 L461.4,503.1 L462.1,500.8 L462.8,498.5 L463.5,496.2 L464.2,493.9 L464.9,491.6 L465.6,489.3 L466.3,487.0 L467.0,484.7 L467.7,482.4 L468.4,480.2 L469.1,477.9 L469.8,475.6 L470.5,473.3 L471.2,471.0 L471.9,468.7 L472.7,466.4 L473.5,464.1 L474.3,461.8 L475.1,459.5 L476.0,457.3 L476.8,455.0 L477.7,452.7 L478.6,450.4 L479.6,448.1 L480.5,445.8 L481.5,443.5 L482.5,441.2 L483.6,438.9 L484.7,436.6 L485.8,434.4 L486.9,432.1 L488.2,429.8 L489.4,427.5 L490.7,425.2 L492.0,422.9 L493.4,420.6 L494.8,418.3 L496.2,416.0 L497.6,413.7 L499.1,411.5 L500.5,409.2 L502.0,406.9 L503.6,404.6 L505.1,402.3 L506.7,400.0 L508.4,397.7 L510.2,395.4 L512.0,393.1 L513.9,390.8 L515.8,388.6 L517.8,386.3 L519.8,384.0 L521.8,381.7 L523.7,379.4 L525.7,377.1 L527.6,374.8 L529.6,372.5 L531.6,370.2 L533.8,367.9 L536.1,365.7 L538.6,363.4 L541.2,361.1 L543.9,358.8 L546.9,356.5 L550.1,354.2 L553.6,351.9 L557.2,349.6 L560.7,347.3 L564.0,345.0 L567.1,342.8 L569.8,340.5 L572.4,338.2 L574.6,335.9 L576.7,333.6" fill="none" stroke="#c6c6c6" stroke-width="1.4"/>
<path d="M452.3,537.4 L452.9,535.1 L453.6,532.8 L454.2,530.5 L454.9,528.2 L455.6,525.9 L456.3,523.7 L456.9,521.4 L457.6,519.1 L458.3,516.8 L458.9,514.5 L459.6,512.2 L460.3,509.9 L460.9,507.6 L461.6,505.3 L462.3,503.0 L463.0,500.8 L463.8,498.5 L464.5,496.2 L465.2,493.9 L465.9,491.6 L466.6,489.3 L467.3,487.0 L468.0,484.7 L468.7,482.4 L469.4,480.1 L470.1,477.9 L470.9,475.6 L471.6,473.3 L472.4,471.0 L473.2,468.7 L473.9,466.4 L474.8,464.1 L475.6,461.8 L476.5,459.5 L477.3,457.2 L478.2,455.0 L479.2,452.7 L480.1,450.4 L481.1,448.1 L482.1,445.8 L483.1,443.5 L484.2,441.2 L485.3,438.9 L486.4,436.6 L487.6,434.3 L488.8,432.0 L490.1,429.8 L491.4,427.5 L492.7,425.2 L494.1,422.9 L495.5,420.6 L497.0,418.3 L498.5,416.0 L500.0,413.7 L501.5,411.4 L503.0,409.1 L504.6,406.9 L506.2,404.6 L507.9,402.3 L509.6,400.0 L511.3,397.7 L513.2,395.4 L515.1,393.1 L517.0,390.8 L519.0,388.5 L521.0,386.2 L523.1,384.0 L525.1,381.7 L527.2,379.4 L529.2,377.1 L531.2,374.8 L533.2,372.5 L535.3,370.2 L537.4,367.9 L539.7,365.6 L542.1,363.3 L544.7,361.0 L547.3,358.8 L550.1,356.5 L553.1,354.2 L556.3,351.9 L559.6,349.6 L562.8,347.3 L565.9,345.0 L568.7,342.7 L571.2,340.4 L573.5,338.1 L575.7,335.9 L577.5,333.6" fill="none" stroke="#c6c6c6" stroke-width="1.4"/>
<path d="M453.0,537.4 L453.6,535.1 L454.3,532.8 L455.0,530.5 L455.7,528.2 L456.3,525.9 L457.0,523.7 L457.7,521.4 L458.4,519.1 L459.1,516.8 L459.7,514.5 L460.4,512.2 L461.1,509.9 L461.8,507.6 L462.5,505.3 L463.2,503.0 L463.9,500.8 L464.6,498.5 L465.3,496.2 L466.0,493.9 L466.8,491.6 L467.5,489.3 L468.2,487.0 L468.9,484.7 L469.7,482.4 L470.4,480.1 L471.1,477.8 L471.9,475.6 L472.7,473.3 L473.5,471.0 L474.3,468.7 L475.1,466.4 L475.9,464.1 L476.8,461.8 L477.7,459.5 L478.6,457.2 L479.5,454.9 L480.5,452.6 L481.5,450.4 L482.5,448.1 L483.6,445.8 L484.7,443.5 L485.8,441.2 L486.9,438.9 L488.1,436.6 L489.3,434.3 L490.6,432.0 L491.9,429.7 L493.3,427.5 L494.6,425.2 L496.1,422.9 L497.6,420.6 L499.1,418.3 L500.6,416.0 L502.2,413.7 L503.8,411.4 L505.4,409.1 L507.1,406.8 L508.8,404.5 L510.5,402.3 L512.3,400.0 L514.2,397.7 L516.1,395.4 L518.0,393.1 L520.1,390.8 L522.1,388.5 L524.2,386.2 L526.3,383.9 L528.4,381.6 L530.5,379.3 L532.6,377.1 L534.6,374.8 L536.7,372.5 L538.8,370.2 L540.9,367.9 L543.2,365.6 L545.6,363.3 L548.0,361.0 L550.5,358.7 L553.2,356.4 L556.0,354.2 L559.0,351.9 L562.0,349.6 L564.9,347.3 L567.7,345.0 L570.3,342.7 L572.6,340.4 L574.7,338.1 L576.6,335.8 L578.3,333.5" fill="none" stroke="#c6c6c6" stroke-width="1.4"/>
<path d="M453.6,537.4 L454.2,535.1 L454.9,532.8 L455.6,530.5 L456.3,528.2 L457.0,525.9 L457.7,523.7 L458.4,521.4 L459.1,519.1 L459.7,516.8 L460.4,514.5 L461.1,512.2 L461.8,509.9 L462.5,507.6 L463.2,505.3 L463.9,503.0 L464.6,500.7 L465.3,498.5 L466.1,496.2 L466.8,493.9 L467.5,491.6 L468.3,489.3 L469.0,487.0 L469.7,484.7 L470.5,482.4 L471.3,480.1 L472.0,477.8 L472.8,475.5 L473.6,473.3 L474.4,471.0 L475.3,468.7 L476.1,466.4 L477.0,464.1 L477.9,461.8 L478.8,459.5 L479.8,457.2 L480.8,454.9 L481.8,452.6 L482.8,450.3 L483.9,448.1 L485.0,445.8 L486.1,443.5 L487.2,441.2 L488.4,438.9 L489.7,436.6 L490.9,434.3 L492.3,432.0 L493.6,429.7 L495.0,427.4 L496.5,425.1 L498.0,422.9 L499.5,420.6 L501.1,418.3 L502.7,416.0 L504.3,413.7 L506.0,411.4 L507.7,409.1 L509.5,406.8 L511.2,404.5 L513.1,402.2 L515.0,399.9 L516.9,397.7 L518.9,395.4 L520.9,393.1 L523.0,390.8 L525.1,388.5 L527.3,386.2 L529.4,383.9 L531.6,381.6 L533.7,379.3 L535.8,377.0 L537.9,374.7 L540.1,372.5 L542.2,370.2 L544.4,367.9 L546.6,365.6 L549.0,363.3 L551.3,361.0 L553.7,358.7 L556.2,356.4 L558.9,354.1 L561.6,351.8 L564.3,349.5 L567.0,347.3 L569.5,345.0 L571.8,342.7 L573.9,340.4 L575.9,338.1 L577.6,335.8 L579.2,333.5" fill="none" stroke="#c6c6c6" stroke-width="1.4"/>
<path d="M454.0,537.4 L454.6,535.1 L455.3,532.8 L456.0,530.5 L456.8,528.2 L457.5,525.9 L458.2,523.7 L458.9,521.4 L459.6,519.1 L460.2,516.8 L460.9,514.5 L461.6,512.2 L462.3,509.9 L463.0,507.6 L463.7,505.3 L464.4,503.0 L465.2,500.7 L465.9,498.4 L466.6,496.2 L467.4,493.9 L468.1,491.6 L468.9,489.3 L469.6,487.0 L470.4,484.7 L471.1,482.4 L471.9,480.1 L472.7,477.8 L473.5,475.5 L474.4,473.2 L475.2,471.0 L476.1,468.7 L477.0,466.4 L477.9,464.1 L478.8,461.8 L479.8,459.5 L480.8,457.2 L481.8,454.9 L482.8,452.6 L483.9,450.3 L485.0,448.0 L486.2,445.8 L487.3,443.5 L488.5,441.2 L489.8,438.9 L491.1,436.6 L492.4,434.3 L493.8,432.0 L495.2,429.7 L496.6,427.4 L498.1,425.1 L499.7,422.8 L501.3,420.5 L502.9,418.3 L504.6,416.0 L506.3,413.7 L508.0,411.4 L509.8,409.1 L511.7,406.8 L513.6,404.5 L515.5,402.2 L517.5,399.9 L519.5,397.6 L521.5,395.3 L523.7,393.1 L525.8,390.8 L528.0,388.5 L530.2,386.2 L532.4,383.9 L534.6,381.6 L536.8,379.3 L539.0,377.0 L541.2,374.7 L543.3,372.4 L545.5,370.1 L547.7,367.8 L549.9,365.6 L552.2,363.3 L554.5,361.0 L556.8,358.7 L559.2,356.4 L561.6,354.1 L564.1,351.8 L566.6,349.5 L569.0,347.2 L571.2,344.9 L573.3,342.6 L575.2,340.4 L577.0,338.1 L578.6,335.8 L580.0,333.5" fill="none" stroke="#c6c6c6" stroke-width="1.4"/>
<path d="M454.3,537.4 L454.9,535.1 L455.7,532.8 L456.4,530.5 L457.1,528.2 L457.8,525.9 L458.5,523.7 L459.2,521.4 L459.9,519.1 L460.6,516.8 L461.3,514.5 L462.0,512.2 L462.7,509.9 L463.5,507.6 L464.2,505.3 L464.9,503.0 L465.6,500.7 L466.3,498.4 L467.1,496.2 L467.8,493.9 L468.6,491.6 L469.3,489.3 L470.1,487.0 L470.9,484.7 L471.7,482.4 L472.5,480.1 L473.3,477.8 L474.2,475.5 L475.0,473.2 L475.9,470.9 L476.8,468.7 L477.7,466.4 L478.6,464.1 L479.6,461.8 L480.6,459.5 L481.7,457.2 L482.7,454.9 L483.8,452.6 L484.9,450.3 L486.1,448.0 L487.2,445.7 L488.5,443.4 L489.7,441.2 L491.0,438.9 L492.4,436.6 L493.7,434.3 L495.1,432.0 L496.6,429.7 L498.1,427.4 L499.7,425.1 L501.3,422.8 L502.9,420.5 L504.6,418.2 L506.4,415.9 L508.2,413.7 L510.0,411.4 L511.9,409.1 L513.8,406.8 L515.8,404.5 L517.8,402.2 L519.9,399.9 L522.0,397.6 L524.1,395.3 L526.3,393.0 L528.5,390.7 L530.8,388.5 L533.0,386.2 L535.3,383.9 L537.6,381.6 L539.8,379.3 L542.1,377.0 L544.3,374.7 L546.5,372.4 L548.7,370.1 L550.9,367.8 L553.2,365.5 L555.4,363.2 L557.6,361.0 L559.8,358.7 L562.1,356.4 L564.3,354.1 L566.6,351.8 L568.8,349.5 L570.9,347.2 L572.9,344.9 L574.8,342.6 L576.5,340.3 L578.1,338.0 L579.5,335.7 L580.8,333.5" fill="none" stroke="#c6c6c6" stroke-width="1.4"/>
<path d="M454.5,537.4 L455.1,535.1 L455.9,532.8 L456.6,530.5 L457.3,528.2 L458.1,525.9 L458.8,523.6 L459.5,521.4 L460.2,519.1 L460.9,516.8 L461.6,514.5 L462.4,512.2 L463.1,509.9 L463.8,507.6 L464.5,505.3 L465.2,503.0 L466.0,500.7 L466.7,498.4 L467.4,496.1 L468.2,493.9 L469.0,491.6 L469.7,489.3 L470.5,487.0 L471.3,484.7 L472.1,482.4 L473.0,480.1 L473.8,477.8 L474.7,475.5 L475.6,473.2 L476.5,470.9 L477.4,468.6 L478.3,466.4 L479.3,464.1 L480.3,461.8 L481.4,459.5 L482.4,457.2 L483.5,454.9 L484.7,452.6 L485.8,450.3 L487.0,448.0 L488.2,445.7 L489.5,443.4 L490.8,441.1 L492.2,438.9 L493.5,436.6 L495.0,434.3 L496.4,432.0 L498.0,429.7 L499.5,427.4 L501.1,425.1 L502.8,422.8 L504.5,420.5 L506.3,418.2 L508.1,415.9 L509.9,413.6 L511.8,411.3 L513.8,409.1 L515.8,406.8 L517.9,404.5 L520.0,402.2 L522.2,399.9 L524.4,397.6 L526.6,395.3 L528.9,393.0 L531.1,390.7 L533.5,388.4 L535.8,386.1 L538.1,383.8 L540.4,381.6 L542.8,379.3 L545.1,377.0 L547.3,374.7 L549.6,372.4 L551.9,370.1 L554.1,367.8 L556.3,365.5 L558.5,363.2 L560.6,360.9 L562.8,358.6 L564.9,356.3 L566.9,354.1 L569.0,351.8 L571.0,349.5 L572.8,347.2 L574.6,344.9 L576.3,342.6 L577.8,340.3 L579.2,338.0 L580.4,335.7 L581.5,333.4" fill="none" stroke="#c6c6c6" stroke-width="1.4"/>
<path d="M394.4,537.4 L394.6,535.1 L394.9,532.8 L395.4,530.5 L396.0,528.3 L396.7,526.0 L397.4,523.7 L398.2,521.4 L399.3,519.1 L400.6,516.8 L402.1,514.5 L403.5,512.3 L404.8,510.0 L406.1,507.7 L407.4,505.4 L408.6,503.1 L409.9,500.8 L411.3,498.5 L412.6,496.3 L414.0,494.0 L415.4,491.7 L416.9,489.4 L418.5,487.1 L420.0,484.8 L421.6,482.6 L423.3,480.3 L425.0,478.0 L426.8,475.7 L428.6,473.4 L430.6,471.1 L432.6,468.8 L434.7,466.6 L436.9,464.3 L439.3,462.0 L441.8,459.7 L444.4,457.4 L447.3,455.1 L450.6,452.8 L454.1,450.6 L457.8,448.3 L461.8,446.0 L466.3,443.7 L471.1,441.4 L475.7,439.1 L480.2,436.8 L484.6,434.6 L489.4,432.3 L494.8,430.0 L500.8,427.7 L506.7,425.4 L511.9,423.1 L516.9,420.8 L521.6,418.6 L526.1,416.3 L530.0,414.0 L533.7,411.7 L537.1,409.4 L540.2,407.1 L543.0,404.8 L545.4,402.6 L547.6,400.3 L549.6,398.0 L551.5,395.7 L553.1,393.4 L554.4,391.1 L555.5,388.8 L556.5,386.6 L557.4,384.3 L558.2,382.0 L558.9,379.7 L559.6,377.4 L560.2,375.1 L560.8,372.9 L561.4,370.6 L561.9,368.3 L562.4,366.0 L562.9,363.7 L563.4,361.4 L563.8,359.1 L564.2,356.9 L564.6,354.6 L565.0,352.3 L565.3,350.0 L565.6,347.7 L565.9,345.4 L566.1,343.1 L566.4,340.9 L566.6,338.6 L566.8,336.3 L567.0,334.0" fill="none" stroke="#c6c6c6" stroke-width="1.4"/>
<path d="M416.0,537.4 L416.0,535.1 L416.2,532.8 L416.6,530.5 L417.0,528.3 L417.5,526.0 L418.0,523.7 L418.6,521.4 L419.5,519.1 L420.6,516.8 L421.8,514.5 L422.9,512.3 L424.0,510.0 L425.0,507.7 L426.1,505.4 L427.1,503.1 L428.2,500.8 L429.2,498.5 L430.3,496.3 L431.5,494.0 L432.7,491.7 L433.9,489.4 L435.2,487.1 L436.5,484.8 L437.9,482.5 L439.3,480.2 L440.8,478.0 L442.3,475.7 L443.9,473.4 L445.6,471.1 L447.4,468.8 L449.2,466.5 L451.2,464.2 L453.3,462.0 L455.5,459.7 L457.9,457.4 L460.5,455.1 L463.4,452.8 L466.6,450.5 L470.0,448.2 L473.6,446.0 L477.6,443.7 L481.9,441.4 L486.1,439.1 L490.2,436.8 L494.2,434.5 L498.5,432.2 L503.4,430.0 L508.8,427.7 L514.2,425.4 L518.9,423.1 L523.5,420.8 L527.8,418.5 L531.8,416.2 L535.4,414.0 L538.7,411.7 L541.5,409.4 L543.6,407.1 L545.7,404.8 L547.7,402.5 L549.7,400.2 L551.6,398.0 L553.6,395.7 L555.4,393.4 L557.3,391.1 L558.7,388.8 L559.6,386.5 L560.4,384.2 L561.2,381.9 L561.8,379.7 L562.4,377.4 L563.0,375.1 L563.5,372.8 L564.0,370.5 L564.5,368.2 L564.9,365.9 L565.3,363.7 L565.7,361.4 L566.1,359.1 L566.4,356.8 L566.7,354.5 L567.0,352.2 L567.2,349.9 L567.5,347.7 L567.7,345.4 L567.9,343.1 L568.1,340.8 L568.2,338.5 L568.4,336.2 L568.5,333.9" fill="none" stroke="#c6c6c6" stroke-width="1.4"/>
<path d="M426.7,537.4 L426.7,535.1 L426.9,532.8 L427.2,530.5 L427.5,528.3 L428.0,526.0 L428.5,523.7 L429.0,521.4 L429.8,519.1 L430.7,516.8 L431.8,514.5 L432.8,512.2 L433.8,510.0 L434.7,507.7 L435.7,505.4 L436.6,503.1 L437.6,500.8 L438.5,498.5 L439.5,496.2 L440.6,494.0 L441.7,491.7 L442.8,489.4 L444.0,487.1 L445.2,484.8 L446.4,482.5 L447.7,480.2 L449.1,477.9 L450.5,475.7 L452.0,473.4 L453.6,471.1 L455.2,468.8 L457.0,466.5 L458.8,464.2 L460.8,461.9 L462.9,459.7 L465.1,457.4 L467.6,455.1 L470.3,452.8 L473.3,450.5 L476.4,448.2 L479.8,445.9 L483.6,443.7 L487.6,441.4 L491.6,439.1 L495.4,436.8 L499.2,434.5 L503.2,432.2 L507.8,429.9 L512.9,427.6 L517.8,425.4 L522.3,423.1 L526.6,420.8 L530.6,418.5 L534.4,416.2 L537.3,413.9 L539.5,411.6 L541.6,409.4 L543.6,407.1 L545.7,404.8 L547.7,402.5 L549.7,400.2 L551.7,397.9 L553.6,395.6 L555.5,393.3 L557.3,391.1 L559.1,388.8 L560.8,386.5 L561.8,384.2 L562.5,381.9 L563.2,379.6 L563.8,377.3 L564.4,375.1 L564.9,372.8 L565.4,370.5 L565.8,368.2 L566.3,365.9 L566.7,363.6 L567.1,361.3 L567.4,359.0 L567.7,356.8 L568.0,354.5 L568.2,352.2 L568.5,349.9 L568.7,347.6 L568.9,345.3 L569.1,343.0 L569.2,340.8 L569.4,338.5 L569.5,336.2 L569.6,333.9" fill="none" stroke="#c6c6c6" stroke-width="1.4"/>
<path d="M434.0,537.4 L434.0,535.1 L434.2,532.8 L434.5,530.5 L434.8,528.3 L435.3,526.0 L435.7,523.7 L436.2,521.4 L437.0,519.1 L437.9,516.8 L438.9,514.5 L439.8,512.2 L440.7,510.0 L441.6,507.7 L442.4,505.4 L443.3,503.1 L444.2,500.8 L445.1,498.5 L446.1,496.2 L447.0,493.9 L448.1,491.7 L449.1,489.4 L450.2,487.1 L451.4,484.8 L452.5,482.5 L453.8,480.2 L455.1,477.9 L456.4,475.7 L457.9,473.4 L459.4,471.1 L460.9,468.8 L462.6,466.5 L464.4,464.2 L466.2,461.9 L468.2,459.6 L470.4,457.4 L472.7,455.1 L475.3,452.8 L478.1,450.5 L481.2,448.2 L484.4,445.9 L488.0,443.6 L491.8,441.3 L495.5,439.1 L499.1,436.8 L502.7,434.5 L506.5,432.2 L510.9,429.9 L515.6,427.6 L520.3,425.3 L524.6,423.0 L528.6,420.8 L532.4,418.5 L535.2,416.2 L537.4,413.9 L539.5,411.6 L541.6,409.3 L543.7,407.0 L545.7,404.8 L547.7,402.5 L549.7,400.2 L551.7,397.9 L553.6,395.6 L555.5,393.3 L557.3,391.0 L559.1,388.7 L560.8,386.5 L562.5,384.2 L563.4,381.9 L564.1,379.6 L564.7,377.3 L565.3,375.0 L565.9,372.7 L566.4,370.4 L566.8,368.2 L567.3,365.9 L567.7,363.6 L568.1,361.3 L568.4,359.0 L568.8,356.7 L569.0,354.4 L569.3,352.2 L569.5,349.9 L569.7,347.6 L569.9,345.3 L570.1,343.0 L570.2,340.7 L570.4,338.4 L570.5,336.1 L570.6,333.9" fill="none" stroke="#c6c6c6" stroke-width="1.4"/>
<path d="M438.0,537.4 L438.1,535.1 L438.3,532.8 L438.6,530.5 L439.0,528.3 L439.5,526.0 L440.0,523.7 L440.5,521.4 L441.2,519.1 L442.1,516.8 L443.0,514.5 L444.0,512.2 L444.8,510.0 L445.7,507.7 L446.5,505.4 L447.4,503.1 L448.2,500.8 L449.1,498.5 L450.1,496.2 L451.0,493.9 L452.0,491.7 L453.1,489.4 L454.1,487.1 L455.2,484.8 L456.4,482.5 L457.6,480.2 L458.9,477.9 L460.2,475.6 L461.6,473.4 L463.1,471.1 L464.6,468.8 L466.2,466.5 L468.0,464.2 L469.8,461.9 L471.7,459.6 L473.8,457.3 L476.1,455.1 L478.6,452.8 L481.3,450.5 L484.2,448.2 L487.3,445.9 L490.8,443.6 L494.4,441.3 L498.0,439.0 L501.4,436.8 L504.9,434.5 L508.5,432.2 L512.7,429.9 L517.2,427.6 L521.7,425.3 L525.7,423.0 L529.5,420.7 L533.1,418.5 L535.3,416.2 L537.4,413.9 L539.5,411.6 L541.6,409.3 L543.7,407.0 L545.7,404.7 L547.8,402.4 L549.8,400.2 L551.7,397.9 L553.6,395.6 L555.5,393.3 L557.3,391.0 L559.1,388.7 L560.8,386.4 L562.5,384.1 L563.8,381.9 L564.6,379.6 L565.2,377.3 L565.9,375.0 L566.4,372.7 L567.0,370.4 L567.5,368.1 L568.0,365.8 L568.4,363.6 L568.8,361.3 L569.2,359.0 L569.6,356.7 L569.9,354.4 L570.1,352.1 L570.4,349.8 L570.6,347.5 L570.8,345.3 L571.0,343.0 L571.2,340.7 L571.3,338.4 L571.5,336.1 L571.6,333.8" fill="none" stroke="#c6c6c6" stroke-width="1.4"/>
<path d="M441.0,537.4 L441.1,535.1 L441.4,532.8 L441.8,530.5 L442.2,528.2 L442.7,526.0 L443.2,523.7 L443.8,521.4 L444.5,519.1 L445.3,516.8 L446.3,514.5 L447.2,512.2 L448.1,509.9 L448.9,507.7 L449.8,505.4 L450.6,503.1 L451.5,500.8 L452.4,498.5 L453.3,496.2 L454.2,493.9 L455.2,491.6 L456.2,489.4 L457.3,487.1 L458.4,484.8 L459.5,482.5 L460.7,480.2 L462.0,477.9 L463.3,475.6 L464.7,473.3 L466.1,471.1 L467.6,468.8 L469.2,466.5 L470.9,464.2 L472.7,461.9 L474.7,459.6 L476.7,457.3 L478.9,455.0 L481.4,452.8 L484.0,450.5 L486.8,448.2 L489.8,445.9 L493.1,443.6 L496.6,441.3 L500.0,439.0 L503.3,436.7 L506.6,434.4 L510.1,432.2 L514.1,429.9 L518.4,427.6 L522.6,425.3 L526.5,423.0 L530.2,420.7 L533.1,418.4 L535.3,416.1 L537.4,413.9 L539.5,411.6 L541.6,409.3 L543.7,407.0 L545.8,404.7 L547.8,402.4 L549.8,400.1 L551.7,397.8 L553.6,395.6 L555.5,393.3 L557.4,391.0 L559.1,388.7 L560.9,386.4 L562.5,384.1 L564.1,381.8 L564.9,379.5 L565.6,377.3 L566.3,375.0 L566.9,372.7 L567.5,370.4 L568.1,368.1 L568.6,365.8 L569.1,363.5 L569.5,361.2 L569.9,359.0 L570.3,356.7 L570.6,354.4 L570.9,352.1 L571.2,349.8 L571.4,347.5 L571.6,345.2 L571.8,342.9 L572.0,340.6 L572.2,338.4 L572.3,336.1 L572.5,333.8" fill="none" stroke="#c6c6c6" stroke-width="1.4"/>
<path d="M444.0,537.4 L444.2,535.1 L444.5,532.8 L444.9,530.5 L445.4,528.2 L445.9,526.0 L446.5,523.7 L447.0,521.4 L447.7,519.1 L448.6,516.8 L449.5,514.5 L450.4,512.2 L451.3,509.9 L452.1,507.7 L453.0,505.4 L453.8,503.1 L454.7,500.8 L455.5,498.5 L456.4,496.2 L457.4,493.9 L458.3,491.6 L459.4,489.3 L460.4,487.1 L461.5,484.8 L462.6,482.5 L463.8,480.2 L465.0,477.9 L466.3,475.6 L467.7,473.3 L469.1,471.0 L470.6,468.8 L472.2,466.5 L473.9,464.2 L475.6,461.9 L477.5,459.6 L479.5,457.3 L481.7,455.0 L484.0,452.7 L486.6,450.4 L489.3,448.2 L492.2,445.9 L495.3,443.6 L498.7,441.3 L502.0,439.0 L505.1,436.7 L508.3,434.4 L511.7,432.1 L515.5,429.9 L519.6,427.6 L523.6,425.3 L527.3,423.0 L530.8,420.7 L533.1,418.4 L535.3,416.1 L537.4,413.8 L539.5,411.5 L541.6,409.3 L543.7,407.0 L545.8,404.7 L547.8,402.4 L549.8,400.1 L551.8,397.8 L553.7,395.5 L555.5,393.2 L557.4,391.0 L559.2,388.7 L560.9,386.4 L562.5,384.1 L564.2,381.8 L565.2,379.5 L566.0,377.2 L566.7,374.9 L567.4,372.7 L568.0,370.4 L568.6,368.1 L569.2,365.8 L569.7,363.5 L570.1,361.2 L570.6,358.9 L571.0,356.6 L571.3,354.3 L571.7,352.1 L571.9,349.8 L572.2,347.5 L572.4,345.2 L572.7,342.9 L572.9,340.6 L573.0,338.3 L573.2,336.0 L573.4,333.8" fill="none" stroke="#c6c6c6" stroke-width="1.4"/>
<path d="M446.0,537.4 L446.2,535.1 L446.7,532.8 L447.1,530.5 L447.7,528.2 L448.2,526.0 L448.8,523.7 L449.4,521.4 L450.1,519.1 L451.0,516.8 L451.9,514.5 L452.8,512.2 L453.7,509.9 L454.5,507.6 L455.3,505.4 L456.2,503.1 L457.0,500.8 L457.9,498.5 L458.8,496.2 L459.7,493.9 L460.7,491.6 L461.7,489.3 L462.8,487.1 L463.9,484.8 L465.0,482.5 L466.2,480.2 L467.4,477.9 L468.7,475.6 L470.0,473.3 L471.5,471.0 L473.0,468.7 L474.5,466.5 L476.2,464.2 L477.9,461.9 L479.8,459.6 L481.8,457.3 L483.9,455.0 L486.2,452.7 L488.7,450.4 L491.3,448.1 L494.1,445.9 L497.1,443.6 L500.3,441.3 L503.5,439.0 L506.6,436.7 L509.6,434.4 L512.9,432.1 L516.5,429.8 L520.4,427.5 L524.3,425.3 L527.8,423.0 L531.0,420.7 L533.2,418.4 L535.3,416.1 L537.4,413.8 L539.6,411.5 L541.7,409.2 L543.7,407.0 L545.8,404.7 L547.8,402.4 L549.8,400.1 L551.8,397.8 L553.7,395.5 L555.6,393.2 L557.4,390.9 L559.2,388.6 L560.9,386.4 L562.6,384.1 L564.2,381.8 L565.4,379.5 L566.2,377.2 L567.0,374.9 L567.7,372.6 L568.4,370.3 L569.0,368.0 L569.6,365.8 L570.2,363.5 L570.7,361.2 L571.2,358.9 L571.6,356.6 L572.0,354.3 L572.3,352.0 L572.7,349.7 L572.9,347.4 L573.2,345.2 L573.4,342.9 L573.7,340.6 L573.8,338.3 L574.0,336.0 L574.2,333.7" fill="none" stroke="#c6c6c6" stroke-width="1.4"/>
<path d="M448.0,537.4 L448.3,535.1 L448.8,532.8 L449.3,530.5 L449.9,528.2 L450.5,526.0 L451.1,523.7 L451.7,521.4 L452.5,519.1 L453.3,516.8 L454.3,514.5 L455.2,512.2 L456.0,509.9 L456.8,507.6 L457.7,505.4 L458.5,503.1 L459.4,500.8 L460.3,498.5 L461.2,496.2 L462.1,493.9 L463.1,491.6 L464.1,489.3 L465.1,487.0 L466.2,484.8 L467.3,482.5 L468.5,480.2 L469.7,477.9 L471.0,475.6 L472.4,473.3 L473.8,471.0 L475.3,468.7 L476.8,466.4 L478.5,464.2 L480.2,461.9 L482.0,459.6 L484.0,457.3 L486.1,455.0 L488.3,452.7 L490.7,450.4 L493.3,448.1 L496.0,445.8 L498.9,443.6 L502.0,441.3 L505.0,439.0 L508.0,436.7 L510.9,434.4 L514.1,432.1 L517.5,429.8 L521.2,427.5 L524.9,425.2 L528.3,423.0 L531.0,420.7 L533.2,418.4 L535.3,416.1 L537.5,413.8 L539.6,411.5 L541.7,409.2 L543.8,406.9 L545.8,404.6 L547.8,402.4 L549.8,400.1 L551.8,397.8 L553.7,395.5 L555.6,393.2 L557.4,390.9 L559.2,388.6 L560.9,386.3 L562.6,384.0 L564.2,381.8 L565.6,379.5 L566.5,377.2 L567.3,374.9 L568.1,372.6 L568.8,370.3 L569.5,368.0 L570.1,365.7 L570.7,363.4 L571.2,361.2 L571.7,358.9 L572.2,356.6 L572.6,354.3 L573.0,352.0 L573.3,349.7 L573.7,347.4 L573.9,345.1 L574.2,342.8 L574.4,340.6 L574.6,338.3 L574.8,336.0 L575.0,333.7" fill="none" stroke="#c6c6c6" stroke-width="1.4"/>
<path d="M449.5,537.4 L449.9,535.1 L450.4,532.8 L451.0,530.5 L451.6,528.2 L452.3,526.0 L452.9,523.7 L453.6,521.4 L454.4,519.1 L455.2,516.8 L456.2,514.5 L457.1,512.2 L457.9,509.9 L458.8,507.6 L459.6,505.4 L460.5,503.1 L461.3,500.8 L462.2,498.5 L463.1,496.2 L464.1,493.9 L465.1,491.6 L466.1,489.3 L467.1,487.0 L468.2,484.7 L469.3,482.5 L470.5,480.2 L471.7,477.9 L473.0,475.6 L474.4,473.3 L475.8,471.0 L477.3,468.7 L478.8,466.4 L480.5,464.1 L482.2,461.9 L484.0,459.6 L485.9,457.3 L488.0,455.0 L490.2,452.7 L492.5,450.4 L495.0,448.1 L497.6,445.8 L500.4,443.5 L503.4,441.3 L506.3,439.0 L509.1,436.7 L512.0,434.4 L515.0,432.1 L518.3,429.8 L521.8,427.5 L525.4,425.2 L528.6,422.9 L531.0,420.6 L533.2,418.4 L535.3,416.1 L537.5,413.8 L539.6,411.5 L541.7,409.2 L543.8,406.9 L545.8,404.6 L547.9,402.3 L549.8,400.0 L551.8,397.8 L553.7,395.5 L555.6,393.2 L557.4,390.9 L559.2,388.6 L560.9,386.3 L562.6,384.0 L564.2,381.7 L565.7,379.4 L566.6,377.2 L567.5,374.9 L568.3,372.6 L569.1,370.3 L569.8,368.0 L570.5,365.7 L571.1,363.4 L571.7,361.1 L572.3,358.8 L572.8,356.5 L573.2,354.3 L573.6,352.0 L574.0,349.7 L574.3,347.4 L574.6,345.1 L574.9,342.8 L575.2,340.5 L575.4,338.2 L575.6,335.9 L575.8,333.7" fill="none" stroke="#c6c6c6" stroke-width="1.4"/>
<path d="M450.5,537.4 L450.9,535.1 L451.6,532.8 L452.2,530.5 L452.9,528.2 L453.6,526.0 L454.3,523.7 L455.0,521.4 L455.8,519.1 L456.7,516.8 L457.6,514.5 L458.5,512.2 L459.4,509.9 L460.3,507.6 L461.1,505.3 L462.0,503.1 L462.9,500.8 L463.8,498.5 L464.7,496.2 L465.7,493.9 L466.7,491.6 L467.7,489.3 L468.8,487.0 L469.8,484.7 L471.0,482.4 L472.2,480.2 L473.4,477.9 L474.7,475.6 L476.0,473.3 L477.5,471.0 L478.9,468.7 L480.5,466.4 L482.1,464.1 L483.8,461.8 L485.6,459.6 L487.5,457.3 L489.6,455.0 L491.7,452.7 L494.0,450.4 L496.4,448.1 L499.0,445.8 L501.7,443.5 L504.5,441.2 L507.3,438.9 L510.1,436.7 L512.9,434.4 L515.8,432.1 L518.9,429.8 L522.3,427.5 L525.6,425.2 L528.7,422.9 L531.1,420.6 L533.2,418.3 L535.4,416.1 L537.5,413.8 L539.6,411.5 L541.7,409.2 L543.8,406.9 L545.8,404.6 L547.9,402.3 L549.9,400.0 L551.8,397.7 L553.7,395.4 L555.6,393.2 L557.4,390.9 L559.2,388.6 L560.9,386.3 L562.6,384.0 L564.2,381.7 L565.7,379.4 L566.7,377.1 L567.7,374.8 L568.5,372.5 L569.4,370.3 L570.2,368.0 L570.9,365.7 L571.6,363.4 L572.2,361.1 L572.8,358.8 L573.3,356.5 L573.8,354.2 L574.2,351.9 L574.6,349.7 L575.0,347.4 L575.3,345.1 L575.6,342.8 L575.9,340.5 L576.1,338.2 L576.4,335.9 L576.6,333.6" fill="none" stroke="#c6c6c6" stroke-width="1.4"/>
<path d="M451.5,537.4 L452.0,535.1 L452.7,532.8 L453.4,530.5 L454.2,528.2 L454.9,526.0 L455.6,523.7 L456.4,521.4 L457.2,519.1 L458.1,516.8 L459.1,514.5 L460.0,512.2 L460.9,509.9 L461.8,507.6 L462.6,505.3 L463.5,503.1 L464.4,500.8 L465.3,498.5 L466.3,496.2 L467.3,493.9 L468.3,491.6 L469.3,489.3 L470.4,487.0 L471.5,484.7 L472.6,482.4 L473.8,480.2 L475.0,477.9 L476.3,475.6 L477.7,473.3 L479.1,471.0 L480.6,468.7 L482.2,466.4 L483.8,464.1 L485.5,461.8 L487.3,459.5 L489.2,457.3 L491.2,455.0 L493.3,452.7 L495.5,450.4 L497.9,448.1 L500.3,445.8 L502.9,443.5 L505.7,441.2 L508.4,438.9 L511.1,436.6 L513.7,434.4 L516.5,432.1 L519.5,429.8 L522.7,427.5 L525.9,425.2 L528.9,422.9 L531.1,420.6 L533.2,418.3 L535.4,416.0 L537.5,413.7 L539.6,411.5 L541.7,409.2 L543.8,406.9 L545.9,404.6 L547.9,402.3 L549.9,400.0 L551.8,397.7 L553.8,395.4 L555.6,393.1 L557.5,390.8 L559.2,388.6 L561.0,386.3 L562.6,384.0 L564.2,381.7 L565.8,379.4 L566.8,377.1 L567.8,374.8 L568.8,372.5 L569.6,370.2 L570.5,367.9 L571.2,365.7 L572.0,363.4 L572.6,361.1 L573.2,358.8 L573.8,356.5 L574.3,354.2 L574.8,351.9 L575.2,349.6 L575.6,347.3 L576.0,345.0 L576.3,342.8 L576.6,340.5 L576.9,338.2 L577.1,335.9 L577.3,333.6" fill="none" stroke="#c6c6c6" stroke-width="1.4"/>
<path d="M452.3,537.4 L452.9,535.1 L453.7,532.8 L454.4,530.5 L455.2,528.2 L456.0,525.9 L456.8,523.7 L457.6,521.4 L458.5,519.1 L459.4,516.8 L460.3,514.5 L461.3,512.2 L462.2,509.9 L463.1,507.6 L464.0,505.3 L464.9,503.0 L465.8,500.8 L466.7,498.5 L467.7,496.2 L468.7,493.9 L469.7,491.6 L470.7,489.3 L471.8,487.0 L472.9,484.7 L474.1,482.4 L475.3,480.1 L476.5,477.9 L477.8,475.6 L479.2,473.3 L480.6,471.0 L482.1,468.7 L483.7,466.4 L485.3,464.1 L487.0,461.8 L488.8,459.5 L490.7,457.2 L492.6,455.0 L494.7,452.7 L496.9,450.4 L499.2,448.1 L501.6,445.8 L504.1,443.5 L506.7,441.2 L509.3,438.9 L511.9,436.6 L514.5,434.3 L517.2,432.0 L520.1,429.8 L523.1,427.5 L526.1,425.2 L528.9,422.9 L531.1,420.6 L533.2,418.3 L535.4,416.0 L537.5,413.7 L539.6,411.4 L541.7,409.1 L543.8,406.9 L545.9,404.6 L547.9,402.3 L549.9,400.0 L551.9,397.7 L553.8,395.4 L555.7,393.1 L557.5,390.8 L559.3,388.5 L561.0,386.2 L562.6,384.0 L564.2,381.7 L565.8,379.4 L566.9,377.1 L568.0,374.8 L568.9,372.5 L569.9,370.2 L570.8,367.9 L571.6,365.6 L572.3,363.3 L573.0,361.0 L573.7,358.8 L574.3,356.5 L574.9,354.2 L575.4,351.9 L575.8,349.6 L576.3,347.3 L576.6,345.0 L577.0,342.7 L577.3,340.4 L577.6,338.1 L577.8,335.9 L578.1,333.6" fill="none" stroke="#c6c6c6" stroke-width="1.4"/>
<path d="M453.0,537.4 L453.7,535.1 L454.5,532.8 L455.3,530.5 L456.2,528.2 L457.0,525.9 L457.9,523.7 L458.7,521.4 L459.6,519.1 L460.6,516.8 L461.5,514.5 L462.5,512.2 L463.4,509.9 L464.3,507.6 L465.2,505.3 L466.1,503.0 L467.1,500.8 L468.0,498.5 L469.0,496.2 L470.0,493.9 L471.0,491.6 L472.1,489.3 L473.2,487.0 L474.3,484.7 L475.5,482.4 L476.7,480.1 L477.9,477.8 L479.3,475.6 L480.6,473.3 L482.1,471.0 L483.6,468.7 L485.1,466.4 L486.8,464.1 L488.5,461.8 L490.2,459.5 L492.1,457.2 L494.0,454.9 L496.1,452.6 L498.2,450.4 L500.4,448.1 L502.7,445.8 L505.2,443.5 L507.7,441.2 L510.2,438.9 L512.7,436.6 L515.2,434.3 L517.8,432.0 L520.6,429.7 L523.4,427.5 L526.3,425.2 L529.0,422.9 L531.1,420.6 L533.3,418.3 L535.4,416.0 L537.5,413.7 L539.7,411.4 L541.8,409.1 L543.8,406.8 L545.9,404.5 L547.9,402.3 L549.9,400.0 L551.9,397.7 L553.8,395.4 L555.7,393.1 L557.5,390.8 L559.3,388.5 L561.0,386.2 L562.7,383.9 L564.3,381.6 L565.8,379.3 L567.0,377.1 L568.1,374.8 L569.1,372.5 L570.1,370.2 L571.0,367.9 L571.9,365.6 L572.7,363.3 L573.5,361.0 L574.2,358.7 L574.8,356.4 L575.4,354.2 L575.9,351.9 L576.4,349.6 L576.9,347.3 L577.3,345.0 L577.7,342.7 L578.0,340.4 L578.3,338.1 L578.5,335.8 L578.8,333.5" fill="none" stroke="#c6c6c6" stroke-width="1.4"/>
<path d="M453.6,537.4 L454.3,535.1 L455.2,532.8 L456.2,530.5 L457.1,528.2 L458.0,525.9 L458.9,523.7 L459.7,521.4 L460.7,519.1 L461.6,516.8 L462.6,514.5 L463.6,512.2 L464.5,509.9 L465.4,507.6 L466.4,505.3 L467.3,503.0 L468.3,500.7 L469.2,498.5 L470.2,496.2 L471.2,493.9 L472.3,491.6 L473.3,489.3 L474.5,487.0 L475.6,484.7 L476.8,482.4 L478.0,480.1 L479.3,477.8 L480.6,475.5 L482.0,473.3 L483.4,471.0 L484.9,468.7 L486.5,466.4 L488.1,464.1 L489.8,461.8 L491.6,459.5 L493.4,457.2 L495.4,454.9 L497.4,452.6 L499.5,450.3 L501.6,448.1 L503.9,445.8 L506.2,443.5 L508.6,441.2 L511.1,438.9 L513.5,436.6 L515.9,434.3 L518.4,432.0 L521.0,429.7 L523.7,427.4 L526.5,425.1 L529.0,422.9 L531.1,420.6 L533.3,418.3 L535.4,416.0 L537.6,413.7 L539.7,411.4 L541.8,409.1 L543.9,406.8 L545.9,404.5 L547.9,402.2 L549.9,399.9 L551.9,397.7 L553.8,395.4 L555.7,393.1 L557.5,390.8 L559.3,388.5 L561.0,386.2 L562.7,383.9 L564.3,381.6 L565.8,379.3 L567.0,377.0 L568.2,374.7 L569.3,372.5 L570.3,370.2 L571.3,367.9 L572.2,365.6 L573.1,363.3 L573.8,361.0 L574.6,358.7 L575.3,356.4 L575.9,354.1 L576.5,351.8 L577.0,349.5 L577.5,347.3 L577.9,345.0 L578.3,342.7 L578.7,340.4 L579.0,338.1 L579.3,335.8 L579.5,333.5" fill="none" stroke="#c6c6c6" stroke-width="1.4"/>
<path d="M454.0,537.4 L454.8,535.1 L455.8,532.8 L456.8,530.5 L457.7,528.2 L458.7,525.9 L459.6,523.7 L460.6,521.4 L461.5,519.1 L462.5,516.8 L463.5,514.5 L464.5,512.2 L465.4,509.9 L466.4,507.6 L467.3,505.3 L468.3,503.0 L469.3,500.7 L470.3,498.4 L471.3,496.2 L472.3,493.9 L473.4,491.6 L474.5,489.3 L475.6,487.0 L476.7,484.7 L477.9,482.4 L479.2,480.1 L480.5,477.8 L481.8,475.5 L483.2,473.2 L484.6,471.0 L486.2,468.7 L487.7,466.4 L489.4,464.1 L491.1,461.8 L492.8,459.5 L494.7,457.2 L496.6,454.9 L498.6,452.6 L500.6,450.3 L502.7,448.0 L504.9,445.8 L507.2,443.5 L509.5,441.2 L511.8,438.9 L514.2,436.6 L516.5,434.3 L518.9,432.0 L521.4,429.7 L524.0,427.4 L526.5,425.1 L529.0,422.8 L531.1,420.5 L533.3,418.3 L535.4,416.0 L537.6,413.7 L539.7,411.4 L541.8,409.1 L543.9,406.8 L545.9,404.5 L548.0,402.2 L550.0,399.9 L551.9,397.6 L553.8,395.3 L555.7,393.1 L557.5,390.8 L559.3,388.5 L561.0,386.2 L562.7,383.9 L564.3,381.6 L565.8,379.3 L567.0,377.0 L568.3,374.7 L569.4,372.4 L570.5,370.1 L571.5,367.8 L572.5,365.6 L573.4,363.3 L574.2,361.0 L575.0,358.7 L575.7,356.4 L576.4,354.1 L577.0,351.8 L577.5,349.5 L578.1,347.2 L578.5,344.9 L578.9,342.6 L579.3,340.4 L579.7,338.1 L580.0,335.8 L580.2,333.5" fill="none" stroke="#c6c6c6" stroke-width="1.4"/>
<path d="M454.3,537.4 L455.2,535.1 L456.2,532.8 L457.3,530.5 L458.3,528.2 L459.3,525.9 L460.3,523.7 L461.3,521.4 L462.3,519.1 L463.3,516.8 L464.3,514.5 L465.3,512.2 L466.3,509.9 L467.2,507.6 L468.2,505.3 L469.2,503.0 L470.2,500.7 L471.2,498.4 L472.3,496.2 L473.3,493.9 L474.4,491.6 L475.5,489.3 L476.6,487.0 L477.8,484.7 L479.0,482.4 L480.3,480.1 L481.6,477.8 L482.9,475.5 L484.3,473.2 L485.8,470.9 L487.3,468.7 L488.9,466.4 L490.6,464.1 L492.3,461.8 L494.0,459.5 L495.8,457.2 L497.7,454.9 L499.7,452.6 L501.7,450.3 L503.7,448.0 L505.9,445.7 L508.0,443.4 L510.3,441.2 L512.5,438.9 L514.8,436.6 L517.0,434.3 L519.3,432.0 L521.7,429.7 L524.2,427.4 L526.6,425.1 L529.0,422.8 L531.2,420.5 L533.3,418.2 L535.5,415.9 L537.6,413.7 L539.7,411.4 L541.8,409.1 L543.9,406.8 L545.9,404.5 L548.0,402.2 L550.0,399.9 L551.9,397.6 L553.8,395.3 L555.7,393.0 L557.5,390.7 L559.3,388.5 L561.0,386.2 L562.7,383.9 L564.3,381.6 L565.7,379.3 L567.1,377.0 L568.3,374.7 L569.6,372.4 L570.7,370.1 L571.8,367.8 L572.8,365.5 L573.7,363.2 L574.6,361.0 L575.4,358.7 L576.2,356.4 L576.9,354.1 L577.5,351.8 L578.1,349.5 L578.6,347.2 L579.1,344.9 L579.6,342.6 L580.0,340.3 L580.3,338.0 L580.6,335.7 L580.9,333.5" fill="none" stroke="#c6c6c6" stroke-width="1.4"/>
<path d="M454.5,537.4 L455.5,535.1 L456.6,532.8 L457.7,530.5 L458.8,528.2 L459.9,525.9 L460.9,523.6 L461.9,521.4 L463.0,519.1 L464.0,516.8 L465.0,514.5 L466.0,512.2 L467.0,509.9 L468.0,507.6 L469.0,505.3 L470.0,503.0 L471.1,500.7 L472.1,498.4 L473.1,496.1 L474.2,493.9 L475.3,491.6 L476.4,489.3 L477.6,487.0 L478.8,484.7 L480.0,482.4 L481.3,480.1 L482.6,477.8 L484.0,475.5 L485.4,473.2 L486.9,470.9 L488.4,468.6 L490.0,466.4 L491.7,464.1 L493.4,461.8 L495.1,459.5 L496.9,457.2 L498.8,454.9 L500.7,452.6 L502.7,450.3 L504.7,448.0 L506.8,445.7 L508.9,443.4 L511.0,441.1 L513.2,438.9 L515.3,436.6 L517.5,434.3 L519.8,432.0 L522.0,429.7 L524.3,427.4 L526.6,425.1 L528.9,422.8 L531.1,420.5 L533.3,418.2 L535.5,415.9 L537.6,413.6 L539.7,411.3 L541.8,409.1 L543.9,406.8 L546.0,404.5 L548.0,402.2 L550.0,399.9 L551.9,397.6 L553.9,395.3 L555.7,393.0 L557.6,390.7 L559.3,388.4 L561.0,386.1 L562.6,383.8 L564.2,381.6 L565.6,379.3 L567.1,377.0 L568.4,374.7 L569.7,372.4 L570.9,370.1 L572.0,367.8 L573.0,365.5 L574.0,363.2 L574.9,360.9 L575.8,358.6 L576.6,356.3 L577.3,354.1 L578.0,351.8 L578.6,349.5 L579.2,347.2 L579.7,344.9 L580.2,342.6 L580.6,340.3 L581.0,338.0 L581.3,335.7 L581.6,333.4" fill="none" stroke="#c6c6c6" stroke-width="1.4"/>
<path d="M454.6,537.4 L455.6,535.1 L456.9,532.8 L458.0,530.5 L459.2,528.2 L460.3,525.9 L461.4,523.6 L462.5,521.4 L463.6,519.1 L464.6,516.8 L465.6,514.5 L466.7,512.2 L467.7,509.9 L468.7,507.6 L469.7,505.3 L470.8,503.0 L471.8,500.7 L472.9,498.4 L474.0,496.1 L475.1,493.8 L476.2,491.6 L477.3,489.3 L478.5,487.0 L479.7,484.7 L481.0,482.4 L482.2,480.1 L483.6,477.8 L485.0,475.5 L486.4,473.2 L487.9,470.9 L489.4,468.6 L491.0,466.3 L492.7,464.1 L494.4,461.8 L496.2,459.5 L498.0,457.2 L499.8,454.9 L501.7,452.6 L503.7,450.3 L505.6,448.0 L507.6,445.7 L509.7,443.4 L511.7,441.1 L513.8,438.8 L515.9,436.5 L518.0,434.3 L520.1,432.0 L522.3,429.7 L524.4,427.4 L526.6,425.1 L528.7,422.8 L530.9,420.5 L533.0,418.2 L535.2,415.9 L537.3,413.6 L539.4,411.3 L541.5,409.0 L543.6,406.7 L545.7,404.5 L547.7,402.2 L549.7,399.9 L551.7,397.6 L553.6,395.3 L555.4,393.0 L557.3,390.7 L559.0,388.4 L560.8,386.1 L562.4,383.8 L564.0,381.5 L565.6,379.2 L567.0,377.0 L568.4,374.7 L569.8,372.4 L571.0,370.1 L572.2,367.8 L573.3,365.5 L574.3,363.2 L575.3,360.9 L576.2,358.6 L577.0,356.3 L577.8,354.0 L578.5,351.7 L579.2,349.4 L579.8,347.2 L580.3,344.9 L580.8,342.6 L581.2,340.3 L581.6,338.0 L582.0,335.7 L582.3,333.4" fill="none" stroke="#c6c6c6" stroke-width="1.4"/>
<path d="M437.6,537.4 L438.2,535.1 L438.9,532.8 L439.5,530.5 L440.2,528.2 L440.9,525.9 L441.6,523.7 L442.2,521.4 L442.9,519.1 L443.6,516.8 L444.3,514.5 L445.0,512.2 L445.6,509.9 L446.4,507.6 L447.1,505.3 L447.8,503.0 L448.5,500.8 L449.3,498.5 L450.0,496.2 L450.8,493.9 L451.5,491.6 L452.3,489.3 L453.0,487.0 L453.8,484.7 L454.5,482.4 L455.3,480.1 L456.1,477.9 L456.9,475.6 L457.7,473.3 L458.5,471.0 L459.4,468.7 L460.3,466.4 L461.2,464.1 L462.1,461.8 L463.0,459.5 L464.0,457.2 L465.0,455.0 L466.1,452.7 L467.1,450.4 L468.2,448.1 L469.3,445.8 L470.5,443.5 L471.7,441.2 L472.9,438.9 L474.2,436.6 L475.5,434.3 L476.9,432.0 L478.3,429.8 L479.7,427.5 L481.2,425.2 L482.8,422.9 L484.4,420.6 L486.0,418.3 L487.7,416.0 L489.4,413.7 L491.1,411.4 L492.8,409.1 L494.6,406.9 L496.4,404.6 L498.3,402.3 L500.2,400.0 L502.2,397.7 L504.3,395.4 L506.4,393.1 L508.6,390.8 L510.8,388.5 L513.1,386.2 L515.4,384.0 L517.7,381.7 L520.1,379.4 L522.3,377.1 L524.6,374.8 L526.9,372.5 L529.3,370.2 L531.8,367.9 L534.4,365.6 L537.2,363.3 L540.0,361.1 L542.9,358.8 L546.1,356.5 L549.5,354.2 L553.1,351.9 L556.8,349.6 L560.3,347.3 L563.8,345.0 L567.0,342.7 L569.9,340.4 L572.7,338.1 L575.2,335.9 L577.5,333.6" fill="none" stroke="#c6c6c6" stroke-width="1.6"/>
<path d="M437.6,537.4 L438.4,535.1 L439.4,532.8 L440.4,530.5 L441.4,528.2 L442.4,525.9 L443.4,523.7 L444.4,521.4 L445.4,519.1 L446.6,516.8 L447.7,514.5 L448.9,512.2 L450.0,509.9 L451.1,507.6 L452.2,505.3 L453.3,503.0 L454.4,500.8 L455.5,498.5 L456.7,496.2 L457.9,493.9 L459.1,491.6 L460.3,489.3 L461.6,487.0 L462.9,484.7 L464.2,482.4 L465.6,480.1 L467.1,477.9 L468.6,475.6 L470.1,473.3 L471.8,471.0 L473.4,468.7 L475.2,466.4 L477.0,464.1 L478.9,461.8 L480.9,459.5 L482.9,457.2 L485.1,455.0 L487.3,452.7 L489.7,450.4 L492.2,448.1 L494.7,445.8 L497.5,443.5 L500.3,441.2 L503.1,438.9 L505.8,436.6 L508.6,434.3 L511.5,432.0 L514.5,429.8 L517.7,427.5 L520.9,425.2 L524.0,422.9 L526.9,420.6 L529.8,418.3 L532.6,416.0 L535.2,413.7 L537.8,411.4 L540.3,409.1 L542.6,406.9 L544.9,404.6 L547.0,402.3 L549.1,400.0 L551.1,397.7 L552.9,395.4 L554.7,393.1 L556.4,390.8 L558.0,388.5 L559.6,386.2 L561.0,384.0 L562.4,381.7 L563.7,379.4 L564.9,377.1 L566.1,374.8 L567.2,372.5 L568.3,370.2 L569.3,367.9 L570.2,365.6 L571.1,363.3 L571.9,361.1 L572.7,358.8 L573.4,356.5 L574.1,354.2 L574.7,351.9 L575.3,349.6 L575.8,347.3 L576.3,345.0 L576.7,342.7 L577.1,340.4 L577.4,338.1 L577.7,335.9 L578.0,333.6" fill="none" stroke="#c6c6c6" stroke-width="1.6"/>
<path d="M439.1,537.4 L439.7,535.1 L440.4,532.8 L441.1,530.5 L441.8,528.2 L442.4,525.9 L443.1,523.7 L443.8,521.4 L444.5,519.1 L445.2,516.8 L445.9,514.5 L446.5,512.2 L447.2,509.9 L447.9,507.6 L448.7,505.3 L449.4,503.0 L450.1,500.8 L450.9,498.5 L451.6,496.2 L452.4,493.9 L453.1,491.6 L453.9,489.3 L454.6,487.0 L455.4,484.7 L456.2,482.4 L456.9,480.1 L457.7,477.8 L458.5,475.6 L459.4,473.3 L460.2,471.0 L461.1,468.7 L461.9,466.4 L462.9,464.1 L463.8,461.8 L464.7,459.5 L465.7,457.2 L466.8,454.9 L467.8,452.7 L468.9,450.4 L470.0,448.1 L471.1,445.8 L472.3,443.5 L473.5,441.2 L474.8,438.9 L476.0,436.6 L477.4,434.3 L478.7,432.0 L480.2,429.8 L481.6,427.5 L483.2,425.2 L484.7,422.9 L486.3,420.6 L488.0,418.3 L489.7,416.0 L491.4,413.7 L493.1,411.4 L494.9,409.1 L496.7,406.8 L498.6,404.6 L500.5,402.3 L502.4,400.0 L504.4,397.7 L506.5,395.4 L508.6,393.1 L510.9,390.8 L513.1,388.5 L515.4,386.2 L517.7,383.9 L520.1,381.7 L522.4,379.4 L524.7,377.1 L527.0,374.8 L529.3,372.5 L531.6,370.2 L534.1,367.9 L536.7,365.6 L539.4,363.3 L542.1,361.0 L545.0,358.7 L548.1,356.5 L551.3,354.2 L554.7,351.9 L558.3,349.6 L561.6,347.3 L564.9,345.0 L568.0,342.7 L570.8,340.4 L573.4,338.1 L575.7,335.8 L577.9,333.6" fill="none" stroke="#c6c6c6" stroke-width="1.6"/>
<path d="M439.1,537.4 L439.9,535.1 L440.9,532.8 L441.9,530.5 L443.0,528.2 L444.0,525.9 L445.0,523.7 L446.0,521.4 L447.1,519.1 L448.2,516.8 L449.3,514.5 L450.5,512.2 L451.6,509.9 L452.7,507.6 L453.7,505.3 L454.8,503.0 L456.0,500.8 L457.1,498.5 L458.2,496.2 L459.4,493.9 L460.6,491.6 L461.8,489.3 L463.1,487.0 L464.4,484.7 L465.8,482.4 L467.1,480.1 L468.6,477.8 L470.1,475.6 L471.6,473.3 L473.2,471.0 L474.9,468.7 L476.6,466.4 L478.4,464.1 L480.3,461.8 L482.2,459.5 L484.3,457.2 L486.4,454.9 L488.6,452.7 L491.0,450.4 L493.4,448.1 L495.9,445.8 L498.6,443.5 L501.3,441.2 L504.0,438.9 L506.7,436.6 L509.4,434.3 L512.2,432.0 L515.2,429.8 L518.3,427.5 L521.4,425.2 L524.4,422.9 L527.3,420.6 L530.1,418.3 L532.8,416.0 L535.4,413.7 L537.9,411.4 L540.4,409.1 L542.7,406.8 L545.0,404.6 L547.1,402.3 L549.1,400.0 L551.1,397.7 L553.0,395.4 L554.8,393.1 L556.5,390.8 L558.1,388.5 L559.7,386.2 L561.1,383.9 L562.5,381.7 L563.9,379.4 L565.1,377.1 L566.3,374.8 L567.5,372.5 L568.5,370.2 L569.6,367.9 L570.5,365.6 L571.4,363.3 L572.2,361.0 L573.0,358.7 L573.7,356.5 L574.4,354.2 L575.0,351.9 L575.6,349.6 L576.1,347.3 L576.6,345.0 L577.1,342.7 L577.5,340.4 L577.8,338.1 L578.1,335.8 L578.4,333.6" fill="none" stroke="#c6c6c6" stroke-width="1.6"/>
<path d="M440.7,537.4 L441.2,535.1 L441.9,532.8 L442.6,530.5 L443.3,528.2 L444.0,525.9 L444.7,523.7 L445.4,521.4 L446.1,519.1 L446.7,516.8 L447.4,514.5 L448.1,512.2 L448.8,509.9 L449.5,507.6 L450.2,505.3 L451.0,503.0 L451.7,500.8 L452.5,498.5 L453.2,496.2 L454.0,493.9 L454.7,491.6 L455.5,489.3 L456.2,487.0 L457.0,484.7 L457.8,482.4 L458.6,480.1 L459.4,477.8 L460.2,475.6 L461.0,473.3 L461.9,471.0 L462.7,468.7 L463.6,466.4 L464.5,464.1 L465.5,461.8 L466.5,459.5 L467.5,457.2 L468.5,454.9 L469.5,452.6 L470.6,450.4 L471.8,448.1 L472.9,445.8 L474.1,443.5 L475.3,441.2 L476.6,438.9 L477.9,436.6 L479.2,434.3 L480.6,432.0 L482.1,429.7 L483.5,427.5 L485.1,425.2 L486.7,422.9 L488.3,420.6 L489.9,418.3 L491.6,416.0 L493.4,413.7 L495.2,411.4 L497.0,409.1 L498.8,406.8 L500.7,404.5 L502.6,402.3 L504.6,400.0 L506.6,397.7 L508.7,395.4 L510.9,393.1 L513.1,390.8 L515.4,388.5 L517.7,386.2 L520.0,383.9 L522.4,381.6 L524.7,379.3 L527.0,377.1 L529.3,374.8 L531.6,372.5 L534.0,370.2 L536.4,367.9 L538.9,365.6 L541.6,363.3 L544.3,361.0 L547.1,358.7 L550.0,356.4 L553.1,354.2 L556.4,351.9 L559.7,349.6 L562.9,347.3 L566.1,345.0 L568.9,342.7 L571.6,340.4 L574.0,338.1 L576.3,335.8 L578.3,333.5" fill="none" stroke="#c6c6c6" stroke-width="1.6"/>
<path d="M440.7,537.4 L441.5,535.1 L442.5,532.8 L443.5,530.5 L444.6,528.2 L445.6,525.9 L446.6,523.7 L447.6,521.4 L448.7,519.1 L449.8,516.8 L450.9,514.5 L452.1,512.2 L453.2,509.9 L454.2,507.6 L455.3,505.3 L456.4,503.0 L457.5,500.8 L458.6,498.5 L459.8,496.2 L461.0,493.9 L462.2,491.6 L463.4,489.3 L464.6,487.0 L465.9,484.7 L467.3,482.4 L468.6,480.1 L470.1,477.8 L471.5,475.6 L473.1,473.3 L474.7,471.0 L476.3,468.7 L478.0,466.4 L479.8,464.1 L481.7,461.8 L483.6,459.5 L485.6,457.2 L487.7,454.9 L489.9,452.6 L492.2,450.4 L494.6,448.1 L497.1,445.8 L499.7,443.5 L502.3,441.2 L505.0,438.9 L507.6,436.6 L510.3,434.3 L513.0,432.0 L515.9,429.7 L518.9,427.5 L522.0,425.2 L524.8,422.9 L527.6,420.6 L530.4,418.3 L533.0,416.0 L535.6,413.7 L538.1,411.4 L540.5,409.1 L542.8,406.8 L545.0,404.5 L547.1,402.3 L549.2,400.0 L551.2,397.7 L553.1,395.4 L554.9,393.1 L556.6,390.8 L558.2,388.5 L559.8,386.2 L561.3,383.9 L562.7,381.6 L564.0,379.3 L565.3,377.1 L566.5,374.8 L567.7,372.5 L568.8,370.2 L569.8,367.9 L570.8,365.6 L571.7,363.3 L572.5,361.0 L573.3,358.7 L574.1,356.4 L574.8,354.2 L575.4,351.9 L576.0,349.6 L576.5,347.3 L577.0,345.0 L577.4,342.7 L577.8,340.4 L578.2,338.1 L578.5,335.8 L578.8,333.5" fill="none" stroke="#c6c6c6" stroke-width="1.6"/>
<path d="M442.2,537.4 L442.8,535.1 L443.5,532.8 L444.2,530.5 L444.9,528.2 L445.6,525.9 L446.3,523.7 L446.9,521.4 L447.6,519.1 L448.3,516.8 L449.0,514.5 L449.7,512.2 L450.4,509.9 L451.1,507.6 L451.8,505.3 L452.6,503.0 L453.3,500.7 L454.0,498.5 L454.8,496.2 L455.5,493.9 L456.3,491.6 L457.1,489.3 L457.8,487.0 L458.6,484.7 L459.4,482.4 L460.2,480.1 L461.0,477.8 L461.8,475.5 L462.7,473.3 L463.5,471.0 L464.4,468.7 L465.3,466.4 L466.2,464.1 L467.2,461.8 L468.2,459.5 L469.2,457.2 L470.2,454.9 L471.3,452.6 L472.4,450.4 L473.5,448.1 L474.7,445.8 L475.9,443.5 L477.1,441.2 L478.4,438.9 L479.7,436.6 L481.1,434.3 L482.5,432.0 L483.9,429.7 L485.5,427.4 L487.0,425.2 L488.6,422.9 L490.2,420.6 L491.9,418.3 L493.6,416.0 L495.4,413.7 L497.2,411.4 L499.0,409.1 L500.9,406.8 L502.8,404.5 L504.8,402.2 L506.8,400.0 L508.8,397.7 L511.0,395.4 L513.2,393.1 L515.4,390.8 L517.7,388.5 L520.0,386.2 L522.3,383.9 L524.7,381.6 L527.0,379.3 L529.3,377.0 L531.6,374.8 L533.9,372.5 L536.3,370.2 L538.7,367.9 L541.2,365.6 L543.8,363.3 L546.4,361.0 L549.1,358.7 L552.0,356.4 L554.9,354.1 L558.0,351.8 L561.2,349.6 L564.3,347.3 L567.2,345.0 L569.9,342.7 L572.4,340.4 L574.7,338.1 L576.9,335.8 L578.8,333.5" fill="none" stroke="#c6c6c6" stroke-width="1.6"/>
<path d="M442.2,537.4 L443.0,535.1 L444.1,532.8 L445.1,530.5 L446.2,528.2 L447.2,525.9 L448.2,523.7 L449.3,521.4 L450.3,519.1 L451.4,516.8 L452.6,514.5 L453.7,512.2 L454.8,509.9 L455.8,507.6 L456.9,505.3 L458.0,503.0 L459.1,500.7 L460.2,498.5 L461.3,496.2 L462.5,493.9 L463.7,491.6 L464.9,489.3 L466.2,487.0 L467.4,484.7 L468.8,482.4 L470.1,480.1 L471.6,477.8 L473.0,475.5 L474.5,473.3 L476.1,471.0 L477.8,468.7 L479.5,466.4 L481.3,464.1 L483.1,461.8 L485.0,459.5 L487.0,457.2 L489.1,454.9 L491.2,452.6 L493.5,450.4 L495.8,448.1 L498.2,445.8 L500.8,443.5 L503.4,441.2 L506.0,438.9 L508.5,436.6 L511.1,434.3 L513.8,432.0 L516.6,429.7 L519.5,427.4 L522.5,425.2 L525.3,422.9 L528.0,420.6 L530.7,418.3 L533.3,416.0 L535.8,413.7 L538.2,411.4 L540.6,409.1 L542.9,406.8 L545.1,404.5 L547.2,402.2 L549.2,400.0 L551.2,397.7 L553.1,395.4 L554.9,393.1 L556.7,390.8 L558.3,388.5 L559.9,386.2 L561.4,383.9 L562.8,381.6 L564.2,379.3 L565.5,377.0 L566.7,374.8 L567.9,372.5 L569.0,370.2 L570.1,367.9 L571.1,365.6 L572.0,363.3 L572.8,361.0 L573.7,358.7 L574.4,356.4 L575.1,354.1 L575.7,351.8 L576.3,349.6 L576.9,347.3 L577.4,345.0 L577.8,342.7 L578.2,340.4 L578.6,338.1 L578.9,335.8 L579.2,333.5" fill="none" stroke="#c6c6c6" stroke-width="1.6"/>
<path d="M443.7,537.4 L444.3,535.1 L445.0,532.8 L445.7,530.5 L446.4,528.2 L447.1,525.9 L447.8,523.7 L448.5,521.4 L449.2,519.1 L449.9,516.8 L450.6,514.5 L451.3,512.2 L452.0,509.9 L452.7,507.6 L453.4,505.3 L454.1,503.0 L454.9,500.7 L455.6,498.5 L456.4,496.2 L457.1,493.9 L457.9,491.6 L458.7,489.3 L459.4,487.0 L460.2,484.7 L461.0,482.4 L461.8,480.1 L462.6,477.8 L463.4,475.5 L464.3,473.3 L465.2,471.0 L466.1,468.7 L467.0,466.4 L467.9,464.1 L468.9,461.8 L469.9,459.5 L470.9,457.2 L472.0,454.9 L473.0,452.6 L474.2,450.3 L475.3,448.1 L476.5,445.8 L477.7,443.5 L478.9,441.2 L480.2,438.9 L481.6,436.6 L482.9,434.3 L484.4,432.0 L485.8,429.7 L487.4,427.4 L488.9,425.1 L490.5,422.9 L492.2,420.6 L493.9,418.3 L495.6,416.0 L497.4,413.7 L499.2,411.4 L501.1,409.1 L503.0,406.8 L504.9,404.5 L506.9,402.2 L509.0,399.9 L511.1,397.7 L513.2,395.4 L515.4,393.1 L517.7,390.8 L520.0,388.5 L522.3,386.2 L524.6,383.9 L527.0,381.6 L529.3,379.3 L531.6,377.0 L533.9,374.7 L536.3,372.5 L538.6,370.2 L541.0,367.9 L543.5,365.6 L546.0,363.3 L548.6,361.0 L551.2,358.7 L553.9,356.4 L556.8,354.1 L559.7,351.8 L562.7,349.5 L565.6,347.3 L568.3,345.0 L570.9,342.7 L573.2,340.4 L575.4,338.1 L577.4,335.8 L579.2,333.5" fill="none" stroke="#c6c6c6" stroke-width="1.6"/>
<path d="M443.7,537.4 L444.6,535.1 L445.7,532.8 L446.7,530.5 L447.8,528.2 L448.8,525.9 L449.9,523.7 L450.9,521.4 L452.0,519.1 L453.1,516.8 L454.2,514.5 L455.3,512.2 L456.3,509.9 L457.4,507.6 L458.5,505.3 L459.6,503.0 L460.7,500.7 L461.8,498.5 L462.9,496.2 L464.1,493.9 L465.2,491.6 L466.4,489.3 L467.7,487.0 L469.0,484.7 L470.3,482.4 L471.6,480.1 L473.0,477.8 L474.5,475.5 L476.0,473.3 L477.6,471.0 L479.2,468.7 L480.9,466.4 L482.7,464.1 L484.5,461.8 L486.4,459.5 L488.4,457.2 L490.4,454.9 L492.5,452.6 L494.7,450.3 L497.0,448.1 L499.4,445.8 L501.9,443.5 L504.4,441.2 L506.9,438.9 L509.4,436.6 L512.0,434.3 L514.6,432.0 L517.3,429.7 L520.1,427.4 L523.0,425.1 L525.7,422.9 L528.3,420.6 L531.0,418.3 L533.5,416.0 L536.0,413.7 L538.4,411.4 L540.7,409.1 L543.0,406.8 L545.2,404.5 L547.3,402.2 L549.3,399.9 L551.3,397.7 L553.2,395.4 L555.0,393.1 L556.7,390.8 L558.4,388.5 L560.0,386.2 L561.5,383.9 L563.0,381.6 L564.4,379.3 L565.7,377.0 L567.0,374.7 L568.1,372.5 L569.3,370.2 L570.3,367.9 L571.3,365.6 L572.3,363.3 L573.1,361.0 L574.0,358.7 L574.7,356.4 L575.4,354.1 L576.1,351.8 L576.7,349.5 L577.2,347.3 L577.7,345.0 L578.2,342.7 L578.6,340.4 L579.0,338.1 L579.3,335.8 L579.6,333.5" fill="none" stroke="#c6c6c6" stroke-width="1.6"/>
<path d="M445.2,537.4 L445.8,535.1 L446.6,532.8 L447.3,530.5 L448.0,528.2 L448.7,525.9 L449.4,523.7 L450.1,521.4 L450.8,519.1 L451.5,516.8 L452.2,514.5 L452.9,512.2 L453.6,509.9 L454.3,507.6 L455.0,505.3 L455.7,503.0 L456.5,500.7 L457.2,498.5 L458.0,496.2 L458.7,493.9 L459.5,491.6 L460.3,489.3 L461.0,487.0 L461.8,484.7 L462.6,482.4 L463.4,480.1 L464.2,477.8 L465.1,475.5 L465.9,473.2 L466.8,471.0 L467.7,468.7 L468.7,466.4 L469.6,464.1 L470.6,461.8 L471.6,459.5 L472.6,457.2 L473.7,454.9 L474.8,452.6 L475.9,450.3 L477.1,448.0 L478.3,445.8 L479.5,443.5 L480.8,441.2 L482.1,438.9 L483.4,436.6 L484.8,434.3 L486.2,432.0 L487.7,429.7 L489.3,427.4 L490.8,425.1 L492.5,422.8 L494.1,420.6 L495.9,418.3 L497.6,416.0 L499.4,413.7 L501.3,411.4 L503.1,409.1 L505.1,406.8 L507.0,404.5 L509.1,402.2 L511.1,399.9 L513.3,397.6 L515.4,395.4 L517.7,393.1 L519.9,390.8 L522.3,388.5 L524.6,386.2 L526.9,383.9 L529.3,381.6 L531.6,379.3 L534.0,377.0 L536.3,374.7 L538.6,372.4 L540.9,370.1 L543.3,367.9 L545.7,365.6 L548.2,363.3 L550.7,361.0 L553.2,358.7 L555.9,356.4 L558.6,354.1 L561.4,351.8 L564.2,349.5 L566.9,347.2 L569.4,344.9 L571.8,342.7 L574.1,340.4 L576.1,338.1 L578.0,335.8 L579.7,333.5" fill="none" stroke="#c6c6c6" stroke-width="1.6"/>
<path d="M445.2,537.4 L446.1,535.1 L447.2,532.8 L448.3,530.5 L449.4,528.2 L450.4,525.9 L451.5,523.7 L452.5,521.4 L453.6,519.1 L454.7,516.8 L455.8,514.5 L456.9,512.2 L457.9,509.9 L459.0,507.6 L460.1,505.3 L461.2,503.0 L462.2,500.7 L463.3,498.5 L464.5,496.2 L465.6,493.9 L466.8,491.6 L468.0,489.3 L469.2,487.0 L470.5,484.7 L471.8,482.4 L473.1,480.1 L474.5,477.8 L476.0,475.5 L477.5,473.2 L479.0,471.0 L480.7,468.7 L482.3,466.4 L484.1,464.1 L485.9,461.8 L487.8,459.5 L489.7,457.2 L491.7,454.9 L493.8,452.6 L496.0,450.3 L498.2,448.0 L500.6,445.8 L503.0,443.5 L505.4,441.2 L507.9,438.9 L510.4,436.6 L512.8,434.3 L515.4,432.0 L518.0,429.7 L520.7,427.4 L523.5,425.1 L526.1,422.8 L528.7,420.6 L531.2,418.3 L533.7,416.0 L536.2,413.7 L538.5,411.4 L540.8,409.1 L543.1,406.8 L545.2,404.5 L547.3,402.2 L549.3,399.9 L551.3,397.6 L553.2,395.4 L555.0,393.1 L556.8,390.8 L558.5,388.5 L560.1,386.2 L561.6,383.9 L563.1,381.6 L564.5,379.3 L565.9,377.0 L567.2,374.7 L568.4,372.4 L569.5,370.1 L570.6,367.9 L571.6,365.6 L572.6,363.3 L573.4,361.0 L574.3,358.7 L575.0,356.4 L575.8,354.1 L576.4,351.8 L577.0,349.5 L577.6,347.2 L578.1,344.9 L578.6,342.7 L579.0,340.4 L579.3,338.1 L579.7,335.8 L580.0,333.5" fill="none" stroke="#c6c6c6" stroke-width="1.6"/>
<path d="M446.8,537.4 L447.4,535.1 L448.1,532.8 L448.8,530.5 L449.5,528.2 L450.2,525.9 L450.9,523.7 L451.6,521.4 L452.3,519.1 L453.0,516.8 L453.7,514.5 L454.5,512.2 L455.2,509.9 L455.9,507.6 L456.6,505.3 L457.3,503.0 L458.1,500.7 L458.8,498.4 L459.6,496.2 L460.3,493.9 L461.1,491.6 L461.9,489.3 L462.6,487.0 L463.4,484.7 L464.2,482.4 L465.0,480.1 L465.9,477.8 L466.7,475.5 L467.6,473.2 L468.5,471.0 L469.4,468.7 L470.3,466.4 L471.3,464.1 L472.3,461.8 L473.3,459.5 L474.3,457.2 L475.4,454.9 L476.5,452.6 L477.7,450.3 L478.8,448.0 L480.0,445.7 L481.3,443.5 L482.6,441.2 L483.9,438.9 L485.3,436.6 L486.7,434.3 L488.1,432.0 L489.6,429.7 L491.2,427.4 L492.8,425.1 L494.4,422.8 L496.1,420.5 L497.8,418.3 L499.6,416.0 L501.4,413.7 L503.3,411.4 L505.2,409.1 L507.2,406.8 L509.2,404.5 L511.2,402.2 L513.3,399.9 L515.5,397.6 L517.7,395.3 L519.9,393.0 L522.2,390.8 L524.5,388.5 L526.9,386.2 L529.2,383.9 L531.6,381.6 L533.9,379.3 L536.3,377.0 L538.6,374.7 L540.9,372.4 L543.2,370.1 L545.6,367.8 L548.0,365.6 L550.4,363.3 L552.9,361.0 L555.3,358.7 L557.8,356.4 L560.4,354.1 L563.0,351.8 L565.6,349.5 L568.2,347.2 L570.6,344.9 L572.8,342.6 L574.9,340.4 L576.8,338.1 L578.5,335.8 L580.1,333.5" fill="none" stroke="#c6c6c6" stroke-width="1.6"/>
<path d="M446.8,537.4 L447.7,535.1 L448.8,532.8 L449.9,530.5 L451.0,528.2 L452.1,525.9 L453.1,523.7 L454.2,521.4 L455.2,519.1 L456.3,516.8 L457.4,514.5 L458.5,512.2 L459.5,509.9 L460.6,507.6 L461.7,505.3 L462.7,503.0 L463.8,500.7 L464.9,498.4 L466.0,496.2 L467.2,493.9 L468.3,491.6 L469.5,489.3 L470.7,487.0 L472.0,484.7 L473.3,482.4 L474.6,480.1 L476.0,477.8 L477.5,475.5 L478.9,473.2 L480.5,471.0 L482.1,468.7 L483.8,466.4 L485.5,464.1 L487.3,461.8 L489.2,459.5 L491.1,457.2 L493.1,454.9 L495.1,452.6 L497.3,450.3 L499.5,448.0 L501.7,445.7 L504.1,443.5 L506.5,441.2 L508.9,438.9 L511.3,436.6 L513.7,434.3 L516.1,432.0 L518.7,429.7 L521.3,427.4 L524.0,425.1 L526.5,422.8 L529.0,420.5 L531.5,418.3 L534.0,416.0 L536.3,413.7 L538.7,411.4 L540.9,409.1 L543.1,406.8 L545.3,404.5 L547.4,402.2 L549.4,399.9 L551.4,397.6 L553.3,395.3 L555.1,393.0 L556.9,390.8 L558.6,388.5 L560.2,386.2 L561.8,383.9 L563.3,381.6 L564.7,379.3 L566.1,377.0 L567.4,374.7 L568.6,372.4 L569.8,370.1 L570.9,367.8 L571.9,365.6 L572.9,363.3 L573.8,361.0 L574.6,358.7 L575.4,356.4 L576.1,354.1 L576.8,351.8 L577.4,349.5 L577.9,347.2 L578.5,344.9 L578.9,342.6 L579.3,340.4 L579.7,338.1 L580.1,335.8 L580.3,333.5" fill="none" stroke="#c6c6c6" stroke-width="1.6"/>
<path d="M448.3,537.4 L448.9,535.1 L449.6,532.8 L450.4,530.5 L451.1,528.2 L451.8,525.9 L452.5,523.7 L453.2,521.4 L453.9,519.1 L454.6,516.8 L455.3,514.5 L456.0,512.2 L456.7,509.9 L457.5,507.6 L458.2,505.3 L458.9,503.0 L459.6,500.7 L460.4,498.4 L461.1,496.2 L461.9,493.9 L462.7,491.6 L463.4,489.3 L464.2,487.0 L465.0,484.7 L465.8,482.4 L466.7,480.1 L467.5,477.8 L468.4,475.5 L469.2,473.2 L470.1,470.9 L471.1,468.7 L472.0,466.4 L473.0,464.1 L474.0,461.8 L475.0,459.5 L476.1,457.2 L477.2,454.9 L478.3,452.6 L479.4,450.3 L480.6,448.0 L481.8,445.7 L483.1,443.5 L484.4,441.2 L485.7,438.9 L487.1,436.6 L488.5,434.3 L490.0,432.0 L491.5,429.7 L493.1,427.4 L494.7,425.1 L496.3,422.8 L498.0,420.5 L499.8,418.2 L501.6,416.0 L503.4,413.7 L505.3,411.4 L507.3,409.1 L509.3,406.8 L511.3,404.5 L513.4,402.2 L515.5,399.9 L517.7,397.6 L519.9,395.3 L522.2,393.0 L524.5,390.7 L526.8,388.5 L529.2,386.2 L531.5,383.9 L533.9,381.6 L536.3,379.3 L538.6,377.0 L540.9,374.7 L543.2,372.4 L545.6,370.1 L547.9,367.8 L550.3,365.5 L552.6,363.2 L555.0,361.0 L557.4,358.7 L559.8,356.4 L562.2,354.1 L564.7,351.8 L567.1,349.5 L569.5,347.2 L571.7,344.9 L573.8,342.6 L575.7,340.3 L577.5,338.0 L579.1,335.8 L580.5,333.5" fill="none" stroke="#c6c6c6" stroke-width="1.6"/>
<path d="M448.3,537.4 L449.2,535.1 L450.4,532.8 L451.5,530.5 L452.6,528.2 L453.7,525.9 L454.7,523.7 L455.8,521.4 L456.9,519.1 L457.9,516.8 L459.0,514.5 L460.1,512.2 L461.1,509.9 L462.2,507.6 L463.3,505.3 L464.3,503.0 L465.4,500.7 L466.5,498.4 L467.6,496.2 L468.7,493.9 L469.9,491.6 L471.0,489.3 L472.3,487.0 L473.5,484.7 L474.8,482.4 L476.1,480.1 L477.5,477.8 L478.9,475.5 L480.4,473.2 L481.9,470.9 L483.5,468.7 L485.2,466.4 L486.9,464.1 L488.7,461.8 L490.5,459.5 L492.4,457.2 L494.4,454.9 L496.4,452.6 L498.5,450.3 L500.7,448.0 L502.9,445.7 L505.2,443.5 L507.5,441.2 L509.8,438.9 L512.2,436.6 L514.5,434.3 L516.9,432.0 L519.4,429.7 L521.9,427.4 L524.5,425.1 L527.0,422.8 L529.4,420.5 L531.8,418.2 L534.2,416.0 L536.5,413.7 L538.8,411.4 L541.0,409.1 L543.2,406.8 L545.4,404.5 L547.4,402.2 L549.4,399.9 L551.4,397.6 L553.3,395.3 L555.2,393.0 L556.9,390.7 L558.7,388.5 L560.3,386.2 L561.9,383.9 L563.4,381.6 L564.9,379.3 L566.3,377.0 L567.6,374.7 L568.8,372.4 L570.0,370.1 L571.1,367.8 L572.2,365.5 L573.1,363.2 L574.1,361.0 L574.9,358.7 L575.7,356.4 L576.4,354.1 L577.1,351.8 L577.7,349.5 L578.3,347.2 L578.8,344.9 L579.3,342.6 L579.7,340.3 L580.1,338.0 L580.4,335.8 L580.7,333.5" fill="none" stroke="#c6c6c6" stroke-width="1.6"/>
<path d="M449.8,537.4 L450.4,535.1 L451.2,532.8 L451.9,530.5 L452.6,528.2 L453.4,525.9 L454.1,523.7 L454.8,521.4 L455.5,519.1 L456.2,516.8 L456.9,514.5 L457.6,512.2 L458.3,509.9 L459.0,507.6 L459.8,505.3 L460.5,503.0 L461.2,500.7 L462.0,498.4 L462.7,496.2 L463.5,493.9 L464.3,491.6 L465.0,489.3 L465.8,487.0 L466.6,484.7 L467.4,482.4 L468.3,480.1 L469.1,477.8 L470.0,475.5 L470.9,473.2 L471.8,470.9 L472.7,468.7 L473.7,466.4 L474.7,464.1 L475.7,461.8 L476.7,459.5 L477.8,457.2 L478.9,454.9 L480.0,452.6 L481.2,450.3 L482.4,448.0 L483.6,445.7 L484.9,443.4 L486.2,441.2 L487.6,438.9 L488.9,436.6 L490.4,434.3 L491.9,432.0 L493.4,429.7 L495.0,427.4 L496.6,425.1 L498.3,422.8 L500.0,420.5 L501.8,418.2 L503.6,415.9 L505.4,413.7 L507.4,411.4 L509.3,409.1 L511.3,406.8 L513.4,404.5 L515.5,402.2 L517.7,399.9 L519.9,397.6 L522.1,395.3 L524.4,393.0 L526.8,390.7 L529.1,388.4 L531.5,386.2 L533.8,383.9 L536.2,381.6 L538.6,379.3 L540.9,377.0 L543.3,374.7 L545.6,372.4 L547.9,370.1 L550.2,367.8 L552.5,365.5 L554.8,363.2 L557.1,360.9 L559.4,358.7 L561.7,356.4 L564.0,354.1 L566.3,351.8 L568.6,349.5 L570.8,347.2 L572.8,344.9 L574.8,342.6 L576.5,340.3 L578.2,338.0 L579.7,335.7 L581.0,333.4" fill="none" stroke="#c6c6c6" stroke-width="1.6"/>
<path d="M449.8,537.4 L450.8,535.1 L451.9,532.8 L453.1,530.5 L454.2,528.2 L455.3,525.9 L456.4,523.7 L457.4,521.4 L458.5,519.1 L459.6,516.8 L460.6,514.5 L461.7,512.2 L462.7,509.9 L463.8,507.6 L464.8,505.3 L465.9,503.0 L467.0,500.7 L468.0,498.4 L469.1,496.2 L470.3,493.9 L471.4,491.6 L472.6,489.3 L473.8,487.0 L475.0,484.7 L476.3,482.4 L477.6,480.1 L479.0,477.8 L480.4,475.5 L481.9,473.2 L483.4,470.9 L485.0,468.7 L486.6,466.4 L488.3,464.1 L490.1,461.8 L491.9,459.5 L493.8,457.2 L495.7,454.9 L497.7,452.6 L499.8,450.3 L501.9,448.0 L504.0,445.7 L506.3,443.4 L508.5,441.2 L510.8,438.9 L513.1,436.6 L515.4,434.3 L517.7,432.0 L520.1,429.7 L522.5,427.4 L525.0,425.1 L527.4,422.8 L529.8,420.5 L532.1,418.2 L534.4,415.9 L536.7,413.7 L538.9,411.4 L541.2,409.1 L543.3,406.8 L545.4,404.5 L547.5,402.2 L549.5,399.9 L551.5,397.6 L553.4,395.3 L555.2,393.0 L557.0,390.7 L558.7,388.4 L560.4,386.2 L562.0,383.9 L563.6,381.6 L565.0,379.3 L566.4,377.0 L567.8,374.7 L569.1,372.4 L570.3,370.1 L571.4,367.8 L572.4,365.5 L573.4,363.2 L574.4,360.9 L575.2,358.7 L576.0,356.4 L576.8,354.1 L577.5,351.8 L578.1,349.5 L578.7,347.2 L579.2,344.9 L579.7,342.6 L580.1,340.3 L580.5,338.0 L580.8,335.7 L581.1,333.4" fill="none" stroke="#c6c6c6" stroke-width="1.6"/>
<path d="M451.3,537.4 L452.0,535.1 L452.7,532.8 L453.5,530.5 L454.2,528.2 L454.9,525.9 L455.6,523.6 L456.4,521.4 L457.1,519.1 L457.8,516.8 L458.5,514.5 L459.2,512.2 L459.9,509.9 L460.6,507.6 L461.4,505.3 L462.1,503.0 L462.8,500.7 L463.6,498.4 L464.3,496.1 L465.1,493.9 L465.9,491.6 L466.6,489.3 L467.4,487.0 L468.2,484.7 L469.1,482.4 L469.9,480.1 L470.8,477.8 L471.6,475.5 L472.5,473.2 L473.4,470.9 L474.4,468.6 L475.4,466.4 L476.4,464.1 L477.4,461.8 L478.4,459.5 L479.5,457.2 L480.6,454.9 L481.8,452.6 L482.9,450.3 L484.2,448.0 L485.4,445.7 L486.7,443.4 L488.0,441.1 L489.4,438.9 L490.8,436.6 L492.2,434.3 L493.7,432.0 L495.3,429.7 L496.9,427.4 L498.5,425.1 L500.2,422.8 L501.9,420.5 L503.7,418.2 L505.6,415.9 L507.5,413.6 L509.4,411.4 L511.4,409.1 L513.4,406.8 L515.5,404.5 L517.7,402.2 L519.9,399.9 L522.1,397.6 L524.4,395.3 L526.7,393.0 L529.0,390.7 L531.4,388.4 L533.8,386.1 L536.1,383.8 L538.5,381.6 L540.9,379.3 L543.2,377.0 L545.6,374.7 L547.9,372.4 L550.2,370.1 L552.5,367.8 L554.8,365.5 L557.0,363.2 L559.3,360.9 L561.5,358.6 L563.7,356.3 L565.8,354.1 L568.0,351.8 L570.1,349.5 L572.1,347.2 L574.0,344.9 L575.7,342.6 L577.4,340.3 L578.9,338.0 L580.2,335.7 L581.4,333.4" fill="none" stroke="#c6c6c6" stroke-width="1.6"/>
<path d="M451.3,537.4 L452.3,535.1 L453.5,532.8 L454.7,530.5 L455.8,528.2 L456.9,525.9 L458.0,523.6 L459.0,521.4 L460.1,519.1 L461.2,516.8 L462.2,514.5 L463.3,512.2 L464.3,509.9 L465.4,507.6 L466.4,505.3 L467.5,503.0 L468.5,500.7 L469.6,498.4 L470.7,496.1 L471.8,493.9 L472.9,491.6 L474.1,489.3 L475.3,487.0 L476.5,484.7 L477.8,482.4 L479.1,480.1 L480.5,477.8 L481.9,475.5 L483.3,473.2 L484.9,470.9 L486.4,468.6 L488.1,466.4 L489.8,464.1 L491.5,461.8 L493.3,459.5 L495.2,457.2 L497.1,454.9 L499.0,452.6 L501.0,450.3 L503.1,448.0 L505.2,445.7 L507.4,443.4 L509.6,441.1 L511.8,438.9 L514.0,436.6 L516.2,434.3 L518.5,432.0 L520.8,429.7 L523.1,427.4 L525.5,425.1 L527.8,422.8 L530.1,420.5 L532.4,418.2 L534.7,415.9 L536.9,413.6 L539.1,411.4 L541.3,409.1 L543.4,406.8 L545.5,404.5 L547.5,402.2 L549.5,399.9 L551.5,397.6 L553.4,395.3 L555.3,393.0 L557.1,390.7 L558.8,388.4 L560.5,386.1 L562.1,383.8 L563.7,381.6 L565.2,379.3 L566.6,377.0 L568.0,374.7 L569.3,372.4 L570.5,370.1 L571.6,367.8 L572.7,365.5 L573.7,363.2 L574.7,360.9 L575.5,358.6 L576.3,356.3 L577.1,354.1 L577.8,351.8 L578.4,349.5 L579.0,347.2 L579.6,344.9 L580.0,342.6 L580.5,340.3 L580.9,338.0 L581.2,335.7 L581.5,333.4" fill="none" stroke="#c6c6c6" stroke-width="1.6"/>
<path d="M452.9,537.4 L453.5,535.1 L454.3,532.8 L455.0,530.5 L455.7,528.2 L456.5,525.9 L457.2,523.6 L457.9,521.4 L458.6,519.1 L459.4,516.8 L460.1,514.5 L460.8,512.2 L461.5,509.9 L462.2,507.6 L462.9,505.3 L463.7,503.0 L464.4,500.7 L465.2,498.4 L465.9,496.1 L466.7,493.9 L467.4,491.6 L468.2,489.3 L469.0,487.0 L469.8,484.7 L470.7,482.4 L471.5,480.1 L472.4,477.8 L473.3,475.5 L474.2,473.2 L475.1,470.9 L476.1,468.6 L477.0,466.3 L478.0,464.1 L479.1,461.8 L480.1,459.5 L481.2,457.2 L482.4,454.9 L483.5,452.6 L484.7,450.3 L485.9,448.0 L487.2,445.7 L488.5,443.4 L489.8,441.1 L491.2,438.8 L492.6,436.6 L494.1,434.3 L495.6,432.0 L497.2,429.7 L498.8,427.4 L500.4,425.1 L502.1,422.8 L503.9,420.5 L505.7,418.2 L507.6,415.9 L509.5,413.6 L511.4,411.3 L513.5,409.1 L515.5,406.8 L517.7,404.5 L519.8,402.2 L522.1,399.9 L524.3,397.6 L526.6,395.3 L528.9,393.0 L531.3,390.7 L533.7,388.4 L536.1,386.1 L538.4,383.8 L540.8,381.5 L543.2,379.3 L545.6,377.0 L547.9,374.7 L550.2,372.4 L552.5,370.1 L554.8,367.8 L557.0,365.5 L559.3,363.2 L561.4,360.9 L563.5,358.6 L565.6,356.3 L567.7,354.0 L569.6,351.8 L571.6,349.5 L573.4,347.2 L575.1,344.9 L576.7,342.6 L578.2,340.3 L579.5,338.0 L580.8,335.7 L581.9,333.4" fill="none" stroke="#c6c6c6" stroke-width="1.6"/>
<path d="M452.9,537.4 L453.9,535.1 L455.1,532.8 L456.3,530.5 L457.4,528.2 L458.5,525.9 L459.6,523.6 L460.7,521.4 L461.7,519.1 L462.8,516.8 L463.9,514.5 L464.9,512.2 L465.9,509.9 L467.0,507.6 L468.0,505.3 L469.0,503.0 L470.1,500.7 L471.2,498.4 L472.3,496.1 L473.4,493.9 L474.5,491.6 L475.6,489.3 L476.8,487.0 L478.1,484.7 L479.3,482.4 L480.6,480.1 L482.0,477.8 L483.4,475.5 L484.8,473.2 L486.3,470.9 L487.9,468.6 L489.5,466.3 L491.2,464.1 L492.9,461.8 L494.7,459.5 L496.5,457.2 L498.4,454.9 L500.3,452.6 L502.3,450.3 L504.3,448.0 L506.4,445.7 L508.5,443.4 L510.6,441.1 L512.7,438.8 L514.9,436.6 L517.1,434.3 L519.3,432.0 L521.5,429.7 L523.7,427.4 L526.0,425.1 L528.2,422.8 L530.5,420.5 L532.7,418.2 L534.9,415.9 L537.1,413.6 L539.2,411.3 L541.4,409.1 L543.5,406.8 L545.6,404.5 L547.6,402.2 L549.6,399.9 L551.6,397.6 L553.5,395.3 L555.3,393.0 L557.2,390.7 L558.9,388.4 L560.6,386.1 L562.3,383.8 L563.9,381.5 L565.4,379.3 L566.8,377.0 L568.2,374.7 L569.5,372.4 L570.7,370.1 L571.9,367.8 L573.0,365.5 L574.0,363.2 L575.0,360.9 L575.8,358.6 L576.7,356.3 L577.4,354.0 L578.1,351.8 L578.8,349.5 L579.4,347.2 L579.9,344.9 L580.4,342.6 L580.9,340.3 L581.3,338.0 L581.6,335.7 L581.9,333.4" fill="none" stroke="#c6c6c6" stroke-width="1.6"/>
<path d="M454.4,537.4 L455.0,535.1 L455.8,532.8 L456.6,530.5 L457.3,528.2 L458.0,525.9 L458.8,523.6 L459.5,521.4 L460.2,519.1 L460.9,516.8 L461.6,514.5 L462.4,512.2 L463.1,509.9 L463.8,507.6 L464.5,505.3 L465.3,503.0 L466.0,500.7 L466.7,498.4 L467.5,496.1 L468.3,493.8 L469.0,491.6 L469.8,489.3 L470.6,487.0 L471.4,484.7 L472.3,482.4 L473.1,480.1 L474.0,477.8 L474.9,475.5 L475.8,473.2 L476.8,470.9 L477.7,468.6 L478.7,466.3 L479.7,464.1 L480.8,461.8 L481.8,459.5 L482.9,457.2 L484.1,454.9 L485.3,452.6 L486.5,450.3 L487.7,448.0 L489.0,445.7 L490.3,443.4 L491.6,441.1 L493.0,438.8 L494.5,436.5 L496.0,434.3 L497.5,432.0 L499.1,429.7 L500.7,427.4 L502.4,425.1 L504.1,422.8 L505.8,420.5 L507.7,418.2 L509.5,415.9 L511.5,413.6 L513.5,411.3 L515.5,409.0 L517.6,406.7 L519.8,404.5 L522.0,402.2 L524.2,399.9 L526.5,397.6 L528.9,395.3 L531.2,393.0 L533.6,390.7 L536.0,388.4 L538.4,386.1 L540.7,383.8 L543.1,381.5 L545.5,379.2 L547.9,377.0 L550.2,374.7 L552.6,372.4 L554.8,370.1 L557.1,367.8 L559.3,365.5 L561.5,363.2 L563.6,360.9 L565.6,358.6 L567.6,356.3 L569.5,354.0 L571.3,351.7 L573.0,349.4 L574.7,347.2 L576.2,344.9 L577.7,342.6 L579.0,340.3 L580.2,338.0 L581.3,335.7 L582.3,333.4" fill="none" stroke="#c6c6c6" stroke-width="1.6"/>
<path d="M454.4,537.4 L455.4,535.1 L456.7,532.8 L457.8,530.5 L459.0,528.2 L460.1,525.9 L461.2,523.6 L462.3,521.4 L463.4,519.1 L464.4,516.8 L465.5,514.5 L466.5,512.2 L467.5,509.9 L468.6,507.6 L469.6,505.3 L470.6,503.0 L471.7,500.7 L472.7,498.4 L473.8,496.1 L474.9,493.8 L476.0,491.6 L477.2,489.3 L478.4,487.0 L479.6,484.7 L480.8,482.4 L482.1,480.1 L483.5,477.8 L484.8,475.5 L486.3,473.2 L487.8,470.9 L489.3,468.6 L490.9,466.3 L492.6,464.1 L494.3,461.8 L496.1,459.5 L497.9,457.2 L499.7,454.9 L501.6,452.6 L503.6,450.3 L505.5,448.0 L507.5,445.7 L509.6,443.4 L511.6,441.1 L513.7,438.8 L515.8,436.5 L517.9,434.3 L520.0,432.0 L522.2,429.7 L524.3,427.4 L526.5,425.1 L528.7,422.8 L530.8,420.5 L533.0,418.2 L535.1,415.9 L537.3,413.6 L539.4,411.3 L541.5,409.0 L543.6,406.7 L545.6,404.5 L547.7,402.2 L549.7,399.9 L551.6,397.6 L553.5,395.3 L555.4,393.0 L557.2,390.7 L559.0,388.4 L560.7,386.1 L562.4,383.8 L564.0,381.5 L565.5,379.2 L567.0,377.0 L568.4,374.7 L569.7,372.4 L571.0,370.1 L572.2,367.8 L573.3,365.5 L574.3,363.2 L575.3,360.9 L576.2,358.6 L577.0,356.3 L577.8,354.0 L578.5,351.7 L579.1,349.4 L579.7,347.2 L580.3,344.9 L580.8,342.6 L581.2,340.3 L581.6,338.0 L582.0,335.7 L582.3,333.4" fill="none" stroke="#c6c6c6" stroke-width="1.6"/>
<path d="M454.6,537.0 L455.4,534.7 L456.1,532.4 L456.9,530.1 L457.6,527.8 L458.4,525.6 L459.1,523.3 L459.8,521.0 L460.5,518.7 L461.2,516.4 L462.0,514.1 L462.7,511.8 L463.4,509.5 L464.1,507.3 L464.8,505.0 L465.6,502.7 L466.3,500.4 L467.0,498.1 L467.8,495.8 L468.6,493.5 L469.3,491.2 L470.1,489.0 L470.9,486.7 L471.8,484.4 L472.6,482.1 L473.4,479.8 L474.3,477.5 L475.2,475.2 L476.1,472.9 L477.1,470.7 L478.0,468.4 L479.0,466.1 L480.0,463.8 L481.1,461.5 L482.1,459.2 L483.2,456.9 L484.4,454.6 L485.6,452.4 L486.8,450.1 L488.0,447.8 L489.3,445.5 L490.6,443.2 L491.9,440.9 L493.3,438.6 L494.8,436.3 L496.3,434.1 L497.8,431.8 L499.4,429.5 L501.0,427.2 L502.6,424.9 L504.4,422.6 L506.1,420.3 L508.0,418.0 L509.8,415.8 L511.8,413.5 L513.7,411.2 L515.8,408.9 L517.9,406.6 L520.0,404.3 L522.2,402.0 L524.5,399.7 L526.8,397.5 L529.1,395.2 L531.4,392.9 L533.8,390.6 L536.2,388.3 L538.6,386.0 L541.0,383.7 L543.3,381.4 L545.7,379.2 L548.1,376.9 L550.4,374.6 L552.7,372.3 L555.0,370.0 L557.2,367.7 L559.4,365.4 L561.6,363.1 L563.7,360.9 L565.7,358.6 L567.7,356.3 L569.6,354.0 L571.4,351.7 L573.1,349.4 L574.7,347.1 L576.3,344.8 L577.7,342.6 L579.0,340.3 L580.2,338.0 L581.3,335.7 L582.3,333.4 L582.3,333.4 L582.0,335.7 L581.6,338.0 L581.2,340.3 L580.8,342.6 L580.3,344.8 L579.8,347.1 L579.2,349.4 L578.5,351.7 L577.8,354.0 L577.0,356.3 L576.2,358.6 L575.3,360.9 L574.3,363.1 L573.3,365.4 L572.2,367.7 L571.0,370.0 L569.8,372.3 L568.5,374.6 L567.1,376.9 L565.6,379.2 L564.1,381.4 L562.5,383.7 L560.8,386.0 L559.1,388.3 L557.4,390.6 L555.5,392.9 L553.7,395.2 L551.8,397.5 L549.8,399.7 L547.8,402.0 L545.8,404.3 L543.8,406.6 L541.7,408.9 L539.6,411.2 L537.5,413.5 L535.3,415.8 L533.2,418.0 L531.0,420.3 L528.9,422.6 L526.7,424.9 L524.6,427.2 L522.4,429.5 L520.3,431.8 L518.2,434.1 L516.1,436.3 L514.0,438.6 L511.9,440.9 L509.8,443.2 L507.8,445.5 L505.8,447.8 L503.9,450.1 L501.9,452.4 L500.0,454.6 L498.2,456.9 L496.4,459.2 L494.6,461.5 L492.9,463.8 L491.2,466.1 L489.6,468.4 L488.1,470.7 L486.6,472.9 L485.1,475.2 L483.8,477.5 L482.4,479.8 L481.1,482.1 L479.9,484.4 L478.7,486.7 L477.5,489.0 L476.3,491.2 L475.2,493.5 L474.1,495.8 L473.0,498.1 L472.0,500.4 L470.9,502.7 L469.9,505.0 L468.9,507.3 L467.8,509.5 L466.8,511.8 L465.8,514.1 L464.8,516.4 L463.7,518.7 L462.7,521.0 L461.6,523.3 L460.5,525.6 L459.4,527.8 L458.2,530.1 L457.1,532.4 L455.8,534.7 L454.6,537.0 Z" fill="#c6c6c6" stroke="none"/>
<line x1="359.6" y1="537.4" x2="404" y2="360.7" stroke="#000" stroke-width="2" stroke-dasharray="7.6,5.4"/>
<path d="M454.6,537.0 L455.4,534.7 L456.1,532.4 L456.9,530.1 L457.6,527.8 L458.4,525.6 L459.1,523.3 L459.8,521.0 L460.5,518.7 L461.2,516.4 L462.0,514.1 L462.7,511.8 L463.4,509.5 L464.1,507.3 L464.8,505.0 L465.6,502.7 L466.3,500.4 L467.0,498.1 L467.8,495.8 L468.6,493.5 L469.3,491.2 L470.1,489.0 L470.9,486.7 L471.8,484.4 L472.6,482.1 L473.4,479.8 L474.3,477.5 L475.2,475.2 L476.1,472.9 L477.1,470.7 L478.0,468.4 L479.0,466.1 L480.0,463.8 L481.1,461.5 L482.1,459.2 L483.2,456.9 L484.4,454.6 L485.6,452.4 L486.8,450.1 L488.0,447.8 L489.3,445.5 L490.6,443.2 L491.9,440.9 L493.3,438.6 L494.8,436.3 L496.3,434.1 L497.8,431.8 L499.4,429.5 L501.0,427.2 L502.6,424.9 L504.4,422.6 L506.1,420.3 L508.0,418.0 L509.8,415.8 L511.8,413.5 L513.7,411.2 L515.8,408.9 L517.9,406.6 L520.0,404.3 L522.2,402.0 L524.5,399.7 L526.8,397.5 L529.1,395.2 L531.4,392.9 L533.8,390.6 L536.2,388.3 L538.6,386.0 L541.0,383.7 L543.3,381.4 L545.7,379.2 L548.1,376.9 L550.4,374.6 L552.7,372.3 L555.0,370.0 L557.2,367.7 L559.4,365.4 L561.6,363.1 L563.7,360.9 L565.7,358.6 L567.7,356.3 L569.6,354.0 L571.4,351.7 L573.1,349.4 L574.7,347.1 L576.3,344.8 L577.7,342.6 L579.0,340.3 L580.2,338.0 L581.3,335.7 L582.3,333.4" fill="none" stroke="#f00" stroke-width="2.8" stroke-linejoin="round" stroke-linecap="round"/>
<path d="M454.6,537.0 L455.8,534.7 L457.1,532.4 L458.2,530.1 L459.4,527.8 L460.5,525.6 L461.6,523.3 L462.7,521.0 L463.7,518.7 L464.8,516.4 L465.8,514.1 L466.8,511.8 L467.8,509.5 L468.9,507.3 L469.9,505.0 L470.9,502.7 L472.0,500.4 L473.0,498.1 L474.1,495.8 L475.2,493.5 L476.3,491.2 L477.5,489.0 L478.7,486.7 L479.9,484.4 L481.1,482.1 L482.4,479.8 L483.8,477.5 L485.1,475.2 L486.6,472.9 L488.1,470.7 L489.6,468.4 L491.2,466.1 L492.9,463.8 L494.6,461.5 L496.4,459.2 L498.2,456.9 L500.0,454.6 L501.9,452.4 L503.9,450.1 L505.8,447.8 L507.8,445.5 L509.8,443.2 L511.9,440.9 L514.0,438.6 L516.1,436.3 L518.2,434.1 L520.3,431.8 L522.4,429.5 L524.6,427.2 L526.7,424.9 L528.9,422.6 L531.0,420.3 L533.2,418.0 L535.3,415.8 L537.5,413.5 L539.6,411.2 L541.7,408.9 L543.8,406.6 L545.8,404.3 L547.8,402.0 L549.8,399.7 L551.8,397.5 L553.7,395.2 L555.5,392.9 L557.4,390.6 L559.1,388.3 L560.8,386.0 L562.5,383.7 L564.1,381.4 L565.6,379.2 L567.1,376.9 L568.5,374.6 L569.8,372.3 L571.0,370.0 L572.2,367.7 L573.3,365.4 L574.3,363.1 L575.3,360.9 L576.2,358.6 L577.0,356.3 L577.8,354.0 L578.5,351.7 L579.2,349.4 L579.8,347.1 L580.3,344.8 L580.8,342.6 L581.2,340.3 L581.6,338.0 L582.0,335.7 L582.3,333.4" fill="none" stroke="#f00" stroke-width="2.8" stroke-linejoin="round" stroke-linecap="round"/>
<rect x="65.5" y="265.5" width="587.7" height="271.9" fill="none" stroke="#000" stroke-width="1.6"/>
<line x1="358.9" y1="265.5" x2="358.9" y2="537.4" stroke="#000" stroke-width="1.5"/>
<line x1="65.5" y1="537.40" x2="72.0" y2="537.40" stroke="#000" stroke-width="1.5"/>
<text x="62.2" y="542.30" text-anchor="end" style="font-family:'Liberation Sans',sans-serif;font-weight:bold;font-size:16px">0</text>
<line x1="65.5" y1="510.24" x2="69.0" y2="510.24" stroke="#000" stroke-width="1.5"/>
<line x1="65.5" y1="483.08" x2="72.0" y2="483.08" stroke="#000" stroke-width="1.5"/>
<text x="62.2" y="487.98" text-anchor="end" style="font-family:'Liberation Sans',sans-serif;font-weight:bold;font-size:16px">200</text>
<line x1="65.5" y1="455.92" x2="69.0" y2="455.92" stroke="#000" stroke-width="1.5"/>
<line x1="65.5" y1="428.76" x2="72.0" y2="428.76" stroke="#000" stroke-width="1.5"/>
<text x="62.2" y="433.66" text-anchor="end" style="font-family:'Liberation Sans',sans-serif;font-weight:bold;font-size:16px">400</text>
<line x1="65.5" y1="401.60" x2="69.0" y2="401.60" stroke="#000" stroke-width="1.5"/>
<line x1="65.5" y1="374.44" x2="72.0" y2="374.44" stroke="#000" stroke-width="1.5"/>
<text x="62.2" y="379.34" text-anchor="end" style="font-family:'Liberation Sans',sans-serif;font-weight:bold;font-size:16px">600</text>
<line x1="65.5" y1="347.28" x2="69.0" y2="347.28" stroke="#000" stroke-width="1.5"/>
<line x1="65.5" y1="320.12" x2="72.0" y2="320.12" stroke="#000" stroke-width="1.5"/>
<text x="62.2" y="325.02" text-anchor="end" style="font-family:'Liberation Sans',sans-serif;font-weight:bold;font-size:16px">800</text>
<line x1="65.5" y1="292.96" x2="69.0" y2="292.96" stroke="#000" stroke-width="1.5"/>
<line x1="65.5" y1="265.80" x2="72.0" y2="265.80" stroke="#000" stroke-width="1.5"/>
<text x="62.2" y="270.70" text-anchor="end" style="font-family:'Liberation Sans',sans-serif;font-weight:bold;font-size:16px">1000</text>
<text x="65.50" y="554.3" text-anchor="middle" style="font-family:'Liberation Sans',sans-serif;font-weight:bold;font-size:16px">0</text>
<text x="359.60" y="554.3" text-anchor="middle" style="font-family:'Liberation Sans',sans-serif;font-weight:bold;font-size:16px">0</text>
<line x1="85.10" y1="537.4" x2="85.10" y2="533.4" stroke="#000" stroke-width="1.5"/>
<line x1="379.15" y1="537.4" x2="379.15" y2="533.4" stroke="#000" stroke-width="1.5"/>
<line x1="104.70" y1="537.4" x2="104.70" y2="530.4" stroke="#000" stroke-width="1.5"/>
<text x="104.70" y="554.3" text-anchor="middle" style="font-family:'Liberation Sans',sans-serif;font-weight:bold;font-size:16px">1</text>
<line x1="398.70" y1="537.4" x2="398.70" y2="530.4" stroke="#000" stroke-width="1.5"/>
<text x="398.70" y="554.3" text-anchor="middle" style="font-family:'Liberation Sans',sans-serif;font-weight:bold;font-size:16px">1</text>
<line x1="124.30" y1="537.4" x2="124.30" y2="533.4" stroke="#000" stroke-width="1.5"/>
<line x1="418.25" y1="537.4" x2="418.25" y2="533.4" stroke="#000" stroke-width="1.5"/>
<line x1="143.90" y1="537.4" x2="143.90" y2="530.4" stroke="#000" stroke-width="1.5"/>
<text x="143.90" y="554.3" text-anchor="middle" style="font-family:'Liberation Sans',sans-serif;font-weight:bold;font-size:16px">2</text>
<line x1="437.80" y1="537.4" x2="437.80" y2="530.4" stroke="#000" stroke-width="1.5"/>
<text x="437.80" y="554.3" text-anchor="middle" style="font-family:'Liberation Sans',sans-serif;font-weight:bold;font-size:16px">2</text>
<line x1="163.50" y1="537.4" x2="163.50" y2="533.4" stroke="#000" stroke-width="1.5"/>
<line x1="457.35" y1="537.4" x2="457.35" y2="533.4" stroke="#000" stroke-width="1.5"/>
<line x1="183.10" y1="537.4" x2="183.10" y2="530.4" stroke="#000" stroke-width="1.5"/>
<text x="183.10" y="554.3" text-anchor="middle" style="font-family:'Liberation Sans',sans-serif;font-weight:bold;font-size:16px">3</text>
<line x1="476.90" y1="537.4" x2="476.90" y2="530.4" stroke="#000" stroke-width="1.5"/>
<text x="476.90" y="554.3" text-anchor="middle" style="font-family:'Liberation Sans',sans-serif;font-weight:bold;font-size:16px">3</text>
<line x1="202.70" y1="537.4" x2="202.70" y2="533.4" stroke="#000" stroke-width="1.5"/>
<line x1="496.45" y1="537.4" x2="496.45" y2="533.4" stroke="#000" stroke-width="1.5"/>
<line x1="222.30" y1="537.4" x2="222.30" y2="530.4" stroke="#000" stroke-width="1.5"/>
<text x="222.30" y="554.3" text-anchor="middle" style="font-family:'Liberation Sans',sans-serif;font-weight:bold;font-size:16px">4</text>
<line x1="516.00" y1="537.4" x2="516.00" y2="530.4" stroke="#000" stroke-width="1.5"/>
<text x="516.00" y="554.3" text-anchor="middle" style="font-family:'Liberation Sans',sans-serif;font-weight:bold;font-size:16px">4</text>
<line x1="241.90" y1="537.4" x2="241.90" y2="533.4" stroke="#000" stroke-width="1.5"/>
<line x1="535.55" y1="537.4" x2="535.55" y2="533.4" stroke="#000" stroke-width="1.5"/>
<line x1="261.50" y1="537.4" x2="261.50" y2="530.4" stroke="#000" stroke-width="1.5"/>
<text x="261.50" y="554.3" text-anchor="middle" style="font-family:'Liberation Sans',sans-serif;font-weight:bold;font-size:16px">5</text>
<line x1="555.10" y1="537.4" x2="555.10" y2="530.4" stroke="#000" stroke-width="1.5"/>
<text x="555.10" y="554.3" text-anchor="middle" style="font-family:'Liberation Sans',sans-serif;font-weight:bold;font-size:16px">5</text>
<line x1="281.10" y1="537.4" x2="281.10" y2="533.4" stroke="#000" stroke-width="1.5"/>
<line x1="574.65" y1="537.4" x2="574.65" y2="533.4" stroke="#000" stroke-width="1.5"/>
<line x1="300.70" y1="537.4" x2="300.70" y2="530.4" stroke="#000" stroke-width="1.5"/>
<text x="300.70" y="554.3" text-anchor="middle" style="font-family:'Liberation Sans',sans-serif;font-weight:bold;font-size:16px">6</text>
<line x1="594.20" y1="537.4" x2="594.20" y2="530.4" stroke="#000" stroke-width="1.5"/>
<text x="594.20" y="554.3" text-anchor="middle" style="font-family:'Liberation Sans',sans-serif;font-weight:bold;font-size:16px">6</text>
<line x1="320.30" y1="537.4" x2="320.30" y2="533.4" stroke="#000" stroke-width="1.5"/>
<line x1="613.75" y1="537.4" x2="613.75" y2="533.4" stroke="#000" stroke-width="1.5"/>
<line x1="339.90" y1="537.4" x2="339.90" y2="530.4" stroke="#000" stroke-width="1.5"/>
<text x="339.90" y="554.3" text-anchor="middle" style="font-family:'Liberation Sans',sans-serif;font-weight:bold;font-size:16px">7</text>
<line x1="633.30" y1="537.4" x2="633.30" y2="530.4" stroke="#000" stroke-width="1.5"/>
<text x="633.30" y="554.3" text-anchor="middle" style="font-family:'Liberation Sans',sans-serif;font-weight:bold;font-size:16px">7</text>
<text x="350.5" y="575.5" text-anchor="middle" style="font-family:'Liberation Sans',sans-serif;font-weight:bold;font-size:17px">Strain (%)</text>
<text transform="translate(24.3,407.2) rotate(-90)" text-anchor="middle" style="font-family:'Liberation Sans',sans-serif;font-weight:bold;font-size:16.8px">Stress (MPa)</text>
<text x="225.7" y="282.8" text-anchor="middle" style="font-family:'Liberation Sans',sans-serif;font-weight:bold;font-size:15.9px">Parallel to SD</text>
<text x="532" y="282.8" text-anchor="middle" style="font-family:'Liberation Sans',sans-serif;font-weight:bold;font-size:15.9px">Perpendicular to SD</text>
<text x="73" y="350.6" style="font-family:'Liberation Sans',sans-serif;font-weight:bold;font-size:13.9px">E = 38.3 GPa</text>
<text x="362.6" y="350.9" style="font-family:'Liberation Sans',sans-serif;font-weight:bold;font-size:13.9px">E = 63.2 GPa</text>
<text x="321.5" y="307.6" style="font-family:'Liberation Sans',sans-serif;font-weight:bold;font-size:14px" fill="#f00">20<tspan dy="-4.5" style="font-size:9.5px">th</tspan></text>
<text x="587" y="349.9" style="font-family:'Liberation Sans',sans-serif;font-weight:bold;font-size:14px" fill="#f00">20<tspan dy="-4.5" style="font-size:9.5px">th</tspan></text>
<text x="2.9" y="279.2" style="font-family:'Liberation Sans',sans-serif;font-weight:bold;font-size:28.6px">c</text>
</svg>
</body></html>
